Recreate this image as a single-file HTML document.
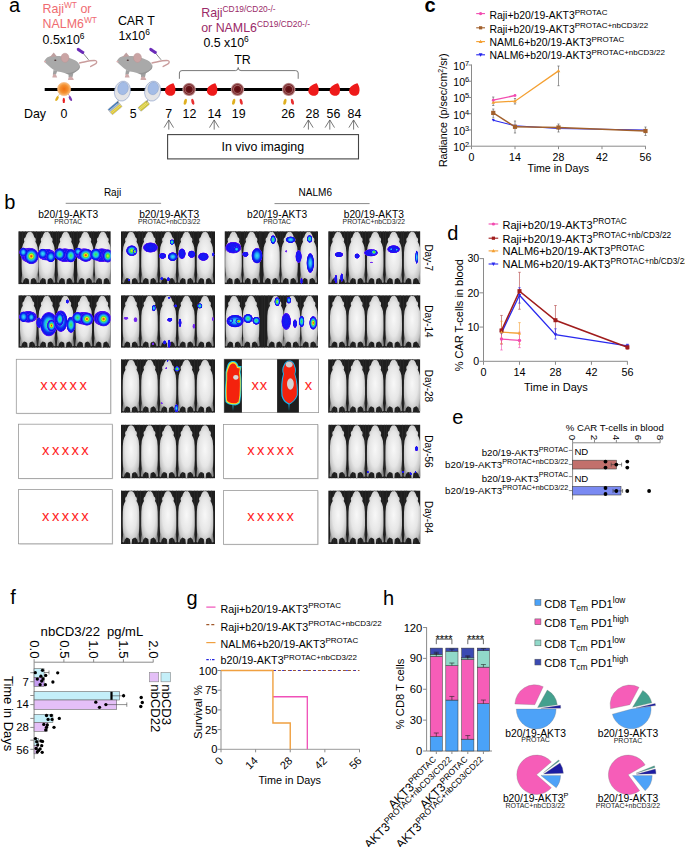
<!DOCTYPE html>
<html><head><meta charset="utf-8"><title>Figure</title>
<style>
html,body{margin:0;padding:0;background:#fff;}
body{width:685px;height:847px;overflow:hidden;}
svg{display:block;}
text{font-family:"Liberation Sans",sans-serif;}
</style></head><body>
<svg width="685" height="847" viewBox="0 0 685 847">
<defs>
<radialGradient id="mg" cx="50%" cy="45%" r="60%">
<stop offset="0" stop-color="#f8f8f8"/><stop offset="0.55" stop-color="#e6e6e6"/><stop offset="0.85" stop-color="#c4c4c4"/><stop offset="1" stop-color="#8e8e8e"/>
</radialGradient>
<radialGradient id="tumO" cx="50%" cy="50%" r="50%">
<stop offset="0" stop-color="#f07010"/><stop offset="0.6" stop-color="#f49030"/><stop offset="1" stop-color="#f8c080"/>
</radialGradient>
<radialGradient id="tumD" cx="50%" cy="50%" r="50%">
<stop offset="0" stop-color="#5a0c10"/><stop offset="0.45" stop-color="#6a1418"/><stop offset="0.6" stop-color="#a06060"/><stop offset="0.72" stop-color="#7a2a2e"/><stop offset="0.86" stop-color="#a87070"/><stop offset="1" stop-color="#d8b8b8"/>
</radialGradient>
<filter id="bl" x="-20%" y="-20%" width="140%" height="140%"><feGaussianBlur stdDeviation="0.45"/></filter>

<radialGradient id="h1"><stop offset="0" stop-color="#6a20f4"/><stop offset="0.7" stop-color="#7a30f0"/><stop offset="1" stop-color="#8a40f0" stop-opacity="0"/></radialGradient>
<radialGradient id="h2"><stop offset="0" stop-color="#1820f2"/><stop offset="0.75" stop-color="#1a10f4"/><stop offset="0.9" stop-color="#5a14f0"/><stop offset="1" stop-color="#8a40f0" stop-opacity="0"/></radialGradient>
<radialGradient id="h3"><stop offset="0" stop-color="#40e0f4"/><stop offset="0.35" stop-color="#20a8f4"/><stop offset="0.6" stop-color="#1030f0"/><stop offset="0.84" stop-color="#1010f0"/><stop offset="0.93" stop-color="#6018f0"/><stop offset="1" stop-color="#8a40f0" stop-opacity="0"/></radialGradient>
<radialGradient id="h4"><stop offset="0" stop-color="#40e040"/><stop offset="0.25" stop-color="#30e0a8"/><stop offset="0.45" stop-color="#18b8f4"/><stop offset="0.65" stop-color="#1030f0"/><stop offset="0.85" stop-color="#1010f0"/><stop offset="0.93" stop-color="#6018f0"/><stop offset="1" stop-color="#8a40f0" stop-opacity="0"/></radialGradient>
<radialGradient id="h5"><stop offset="0" stop-color="#f4ec20"/><stop offset="0.15" stop-color="#90e830"/><stop offset="0.3" stop-color="#40e040"/><stop offset="0.45" stop-color="#20c8e0"/><stop offset="0.6" stop-color="#1860f4"/><stop offset="0.76" stop-color="#1010f0"/><stop offset="0.9" stop-color="#4a14f0"/><stop offset="1" stop-color="#8a40f0" stop-opacity="0"/></radialGradient>
<radialGradient id="h6"><stop offset="0" stop-color="#f41e10"/><stop offset="0.12" stop-color="#f48010"/><stop offset="0.22" stop-color="#e8e820"/><stop offset="0.34" stop-color="#50e040"/><stop offset="0.48" stop-color="#20c0e8"/><stop offset="0.62" stop-color="#1860f4"/><stop offset="0.77" stop-color="#1010f0"/><stop offset="0.9" stop-color="#4a14f0"/><stop offset="1" stop-color="#8a40f0" stop-opacity="0"/></radialGradient>
</defs>
<rect x="0" y="0" width="685" height="847" fill="#fff"/>
<text x="9.00" y="11.80" font-size="20" text-anchor="start" fill="#000" >a</text>
<text x="4.30" y="208.90" font-size="20" text-anchor="start" fill="#000" >b</text>
<text x="424.60" y="12.00" font-size="20" text-anchor="start" fill="#000" font-weight="bold">c</text>
<text x="447.20" y="239.60" font-size="20" text-anchor="start" fill="#000" >d</text>
<text x="452.20" y="423.70" font-size="20" text-anchor="start" fill="#000" >e</text>
<text x="10.20" y="604.40" font-size="20" text-anchor="start" fill="#000" >f</text>
<text x="186.40" y="604.70" font-size="20" text-anchor="start" fill="#000" >g</text>
<text x="383.00" y="605.00" font-size="20" text-anchor="start" fill="#000" >h</text>
<text x="42.60" y="12.70" font-size="12.4" text-anchor="start" fill="#ef6b70">Raji<tspan font-size="8.4" dy="-5">WT</tspan><tspan dy="5"> or</tspan></text>
<text x="42.60" y="28.00" font-size="12.4" text-anchor="start" fill="#ef6b70">NALM6<tspan font-size="8.4" dy="-5">WT</tspan></text>
<text x="42.60" y="43.80" font-size="12.4" text-anchor="start" fill="#000">0.5x10<tspan font-size="8.4" dy="-5">6</tspan></text>
<text x="117.90" y="24.80" font-size="12.4" text-anchor="start" fill="#000" >CAR T</text>
<text x="118.40" y="39.70" font-size="12.4" text-anchor="start" fill="#000">1x10<tspan font-size="8.4" dy="-5">6</tspan></text>
<text x="201.20" y="17.10" font-size="12.4" text-anchor="start" fill="#9a2a68">Raji<tspan font-size="8.4" dy="-5">CD19/CD20-/-</tspan></text>
<text x="201.20" y="31.50" font-size="12.4" text-anchor="start" fill="#9a2a68">or NAML6<tspan font-size="8.4" dy="-5">CD19/CD20-/-</tspan></text>
<text x="203.40" y="47.30" font-size="12.4" text-anchor="start" fill="#000">0.5 x10<tspan font-size="8.4" dy="-5">6</tspan></text>
<text x="234.20" y="63.80" font-size="12.4" text-anchor="start" fill="#000" >TR</text>
<path d="M179.4,78.8 V73 Q179.4,70.6 182,70.6 H235.5 Q238.2,70.6 238.2,67.5 Q238.2,70.6 241,70.6 H295.5 Q298.2,70.6 298.2,73 V78.8" fill="none" stroke="#555" stroke-width="0.8" />
<g transform="translate(0,0)"><path d="M79.5,63 C85,62 91,60 95.5,60.6 C97.5,61.2 97,63.2 94.6,64.4 C93,65.2 91.6,65.8 90.6,66.6" fill="none" stroke="#c99c9c" stroke-width="1.3" stroke-linecap="round"/><path d="M53.5,70 L52.8,74.5 L53.6,75 L56,74.5 L57.2,71Z" fill="#a0a0a0"/><path d="M68.5,73 L68.6,77.5 L72.5,77 L73.5,72.5Z" fill="#a0a0a0"/><path d="M52.3,77.6 C52.6,75.5 53.2,74.2 54.5,74 C55.8,74.2 56.6,75.5 57.2,77.6Z" fill="#d0aaaa"/><path d="M68,79.9 C68.2,77.8 69,76.6 70.6,76.4 C72.2,76.6 73.2,77.8 73.8,79.9Z" fill="#d0aaaa"/><path d="M44.4,61.1 C45.5,58.5 47,57.5 48.8,56.8 C51.5,55.6 54.5,55.8 56.5,56 C58.5,55.8 60,56 61,56.3 C65,56.5 69,57.5 75,60.2 C78,61.8 79.5,64 79.9,66.8 C79.7,68.6 78.8,69.8 77.7,70.3 C76.2,71.6 74.8,72.4 73.3,72.9 C72,73.8 70.8,74.5 69.8,74.7 C67.5,74.3 65.8,73.5 64.5,72.9 C62,72.4 59.5,72 57.5,71.6 C55.6,70.9 54.3,70.2 53.1,69.4 C51.5,68.3 50,67 48.8,65.9 C47.4,64.8 46.2,63.8 45.3,62.8 Z" fill="#a9a9a9"/><path d="M66,72.9 C70,73.5 74,72 77,69.8 C79,68 79.7,66 79.5,64 C80.2,66.5 79.8,68.8 77.7,70.3 C75.5,72.3 72,74.2 69.8,74.7 C68.2,74.3 67,73.7 66,72.9Z" fill="#959595"/><path d="M49.8,57.2 L53.7,52.6 L56.8,56.3 Z" fill="#bfa0a0"/><ellipse cx="65" cy="57.8" rx="4" ry="4.6" fill="#caa4a4" stroke="#b89090" stroke-width="0.4"/><ellipse cx="55.3" cy="60.2" rx="1.1" ry="0.7" fill="#4a3434"/><ellipse cx="45" cy="61.6" rx="1.1" ry="0.9" fill="#dab0b0"/><path d="M82.6,52.6 L88.6,59.8" stroke="#555" stroke-width="0.7"/><path d="M78.3,49.4 L82.8,52.4" stroke="#6a2ab8" stroke-width="3" stroke-linecap="round"/></g>
<g transform="translate(72.5,0)"><path d="M79.5,63 C85,62 91,60 95.5,60.6 C97.5,61.2 97,63.2 94.6,64.4 C93,65.2 91.6,65.8 90.6,66.6" fill="none" stroke="#c99c9c" stroke-width="1.3" stroke-linecap="round"/><path d="M53.5,70 L52.8,74.5 L53.6,75 L56,74.5 L57.2,71Z" fill="#a0a0a0"/><path d="M68.5,73 L68.6,77.5 L72.5,77 L73.5,72.5Z" fill="#a0a0a0"/><path d="M52.3,77.6 C52.6,75.5 53.2,74.2 54.5,74 C55.8,74.2 56.6,75.5 57.2,77.6Z" fill="#d0aaaa"/><path d="M68,79.9 C68.2,77.8 69,76.6 70.6,76.4 C72.2,76.6 73.2,77.8 73.8,79.9Z" fill="#d0aaaa"/><path d="M44.4,61.1 C45.5,58.5 47,57.5 48.8,56.8 C51.5,55.6 54.5,55.8 56.5,56 C58.5,55.8 60,56 61,56.3 C65,56.5 69,57.5 75,60.2 C78,61.8 79.5,64 79.9,66.8 C79.7,68.6 78.8,69.8 77.7,70.3 C76.2,71.6 74.8,72.4 73.3,72.9 C72,73.8 70.8,74.5 69.8,74.7 C67.5,74.3 65.8,73.5 64.5,72.9 C62,72.4 59.5,72 57.5,71.6 C55.6,70.9 54.3,70.2 53.1,69.4 C51.5,68.3 50,67 48.8,65.9 C47.4,64.8 46.2,63.8 45.3,62.8 Z" fill="#a9a9a9"/><path d="M66,72.9 C70,73.5 74,72 77,69.8 C79,68 79.7,66 79.5,64 C80.2,66.5 79.8,68.8 77.7,70.3 C75.5,72.3 72,74.2 69.8,74.7 C68.2,74.3 67,73.7 66,72.9Z" fill="#959595"/><path d="M49.8,57.2 L53.7,52.6 L56.8,56.3 Z" fill="#bfa0a0"/><ellipse cx="65" cy="57.8" rx="4" ry="4.6" fill="#caa4a4" stroke="#b89090" stroke-width="0.4"/><ellipse cx="55.3" cy="60.2" rx="1.1" ry="0.7" fill="#4a3434"/><ellipse cx="45" cy="61.6" rx="1.1" ry="0.9" fill="#dab0b0"/><path d="M82.6,52.6 L88.6,59.8" stroke="#555" stroke-width="0.7"/><path d="M78.3,49.4 L82.8,52.4" stroke="#6a2ab8" stroke-width="3" stroke-linecap="round"/></g>
<line x1="44.70" y1="89.60" x2="359.00" y2="89.60" stroke="#000" stroke-width="3" />
<line x1="64.00" y1="89.00" x2="57.00" y2="97.00" stroke="#c8a040" stroke-width="0.5" />
<line x1="64.00" y1="89.00" x2="70.50" y2="97.00" stroke="#7a40a0" stroke-width="0.5" />
<circle cx="64.1" cy="89" r="6.6" fill="url(#tumO)" stroke="#f6b070" stroke-width="0.6"/>
<ellipse cx="57.00" cy="98.60" rx="1.30" ry="2.70" fill="#e0b020" transform="rotate(30 57 98.6)"/>
<ellipse cx="63.80" cy="100.40" rx="1.20" ry="2.70" fill="#e82020" />
<ellipse cx="70.40" cy="98.60" rx="1.30" ry="2.70" fill="#7a3cb0" transform="rotate(-30 70.4 98.6)"/>
<g transform="translate(115.0 108.0) rotate(-40)"><rect x="-6.5" y="-3.5" width="13" height="7" rx="1" fill="#d8d8d8" stroke="#666" stroke-width="0.3"/><line x1="-6.1" y1="-2.62" x2="6.1" y2="-2.62" stroke="#3a78c0" stroke-width="1.40"/><line x1="-6.1" y1="-0.88" x2="6.1" y2="-0.88" stroke="#9ab0c8" stroke-width="1.40"/><line x1="-6.1" y1="0.88" x2="6.1" y2="0.88" stroke="#e8d030" stroke-width="1.40"/><line x1="-6.1" y1="2.62" x2="6.1" y2="2.62" stroke="#e0c828" stroke-width="1.40"/></g>
<g transform="translate(143.8 105.9) rotate(-40)"><rect x="-5.75" y="-2.4" width="11.5" height="4.8" rx="1" fill="#d8d8d8" stroke="#666" stroke-width="0.3"/><line x1="-5.35" y1="-1.60" x2="5.35" y2="-1.60" stroke="#d8cc30" stroke-width="1.28"/><line x1="-5.35" y1="0.00" x2="5.35" y2="0.00" stroke="#e8d838" stroke-width="1.28"/><line x1="-5.35" y1="1.60" x2="5.35" y2="1.60" stroke="#d0c428" stroke-width="1.28"/></g>
<line x1="118.50" y1="99.80" x2="117.50" y2="103.50" stroke="#444" stroke-width="0.5" />
<line x1="148.00" y1="99.80" x2="146.50" y2="102.50" stroke="#444" stroke-width="0.5" />
<ellipse cx="122.4" cy="91.1" rx="7.9" ry="10.1" fill="#e4e4e6" stroke="#8aa0cc" stroke-width="0.6" transform="rotate(14 122.4 91.1)"/>
<ellipse cx="123.0" cy="88.4" rx="5.3" ry="6.4" fill="#a4bce6" stroke="#7f98c8" stroke-width="0.4" transform="rotate(14 123.0 88.4)"/>
<ellipse cx="152.6" cy="91.1" rx="7.9" ry="10.1" fill="#e4e4e6" stroke="#8aa0cc" stroke-width="0.6" transform="rotate(14 152.6 91.1)"/>
<ellipse cx="153.2" cy="88.4" rx="5.3" ry="6.4" fill="#a4bce6" stroke="#7f98c8" stroke-width="0.4" transform="rotate(14 153.2 88.4)"/>
<path transform="translate(170.7 89.4) rotate(20)" d="M0.5,-6.6 C3,-4.6 5.2,-1.8 5.2,1.6 C5.2,4.7 2.8,6.4 0,6.4 C-2.8,6.4 -5.1,4.6 -5.1,1.6 C-5.1,-2 -2,-4.8 0.5,-6.6 Z" fill="#ee1a1a"/>
<path transform="translate(212.6 89.4) rotate(20)" d="M0.5,-6.6 C3,-4.6 5.2,-1.8 5.2,1.6 C5.2,4.7 2.8,6.4 0,6.4 C-2.8,6.4 -5.1,4.6 -5.1,1.6 C-5.1,-2 -2,-4.8 0.5,-6.6 Z" fill="#ee1a1a"/>
<path transform="translate(314.0 89.4) rotate(20)" d="M0.5,-6.6 C3,-4.6 5.2,-1.8 5.2,1.6 C5.2,4.7 2.8,6.4 0,6.4 C-2.8,6.4 -5.1,4.6 -5.1,1.6 C-5.1,-2 -2,-4.8 0.5,-6.6 Z" fill="#ee1a1a"/>
<path transform="translate(335.3 89.4) rotate(20)" d="M0.5,-6.6 C3,-4.6 5.2,-1.8 5.2,1.6 C5.2,4.7 2.8,6.4 0,6.4 C-2.8,6.4 -5.1,4.6 -5.1,1.6 C-5.1,-2 -2,-4.8 0.5,-6.6 Z" fill="#ee1a1a"/>
<path transform="translate(354.8 89.4) rotate(20)" d="M0.5,-6.6 C3,-4.6 5.2,-1.8 5.2,1.6 C5.2,4.7 2.8,6.4 0,6.4 C-2.8,6.4 -5.1,4.6 -5.1,1.6 C-5.1,-2 -2,-4.8 0.5,-6.6 Z" fill="#ee1a1a"/>
<ellipse cx="185.30" cy="101.80" rx="1.50" ry="3.10" fill="#e0b020" transform="rotate(15 185.3 101.8)"/>
<ellipse cx="192.80" cy="101.80" rx="1.40" ry="3.10" fill="#e83030" transform="rotate(-15 192.8 101.8)"/>
<circle cx="189.1" cy="89.4" r="6.7" fill="url(#tumD)"/>
<ellipse cx="233.70" cy="101.80" rx="1.50" ry="3.10" fill="#e0b020" transform="rotate(15 233.7 101.8)"/>
<ellipse cx="241.20" cy="101.80" rx="1.40" ry="3.10" fill="#e83030" transform="rotate(-15 241.2 101.8)"/>
<circle cx="237.5" cy="89.4" r="6.7" fill="url(#tumD)"/>
<ellipse cx="284.90" cy="101.80" rx="1.50" ry="3.10" fill="#e0b020" transform="rotate(15 284.9 101.8)"/>
<ellipse cx="292.40" cy="101.80" rx="1.40" ry="3.10" fill="#e83030" transform="rotate(-15 292.4 101.8)"/>
<circle cx="288.7" cy="89.4" r="6.7" fill="url(#tumD)"/>
<text x="24.00" y="118.10" font-size="12.4" text-anchor="start" fill="#000" >Day</text>
<text x="64.00" y="118.10" font-size="12.4" text-anchor="middle" fill="#000" >0</text>
<text x="133.30" y="118.10" font-size="12.4" text-anchor="middle" fill="#000" >5</text>
<text x="168.80" y="118.10" font-size="12.4" text-anchor="middle" fill="#000" >7</text>
<text x="189.50" y="118.10" font-size="12.4" text-anchor="middle" fill="#000" >12</text>
<text x="214.50" y="118.10" font-size="12.4" text-anchor="middle" fill="#000" >14</text>
<text x="238.70" y="118.10" font-size="12.4" text-anchor="middle" fill="#000" >19</text>
<text x="288.10" y="118.10" font-size="12.4" text-anchor="middle" fill="#000" >26</text>
<text x="312.50" y="118.10" font-size="12.4" text-anchor="middle" fill="#000" >28</text>
<text x="333.50" y="118.10" font-size="12.4" text-anchor="middle" fill="#000" >56</text>
<text x="354.50" y="118.10" font-size="12.4" text-anchor="middle" fill="#000" >84</text>
<path d="M168.8,129.6 V120.2 M164.10000000000002,127.6 L168.8,119.9 L173.5,127.6" fill="none" stroke="#555" stroke-width="0.8" />
<path d="M214.2,129.6 V120.2 M209.5,127.6 L214.2,119.9 L218.89999999999998,127.6" fill="none" stroke="#555" stroke-width="0.8" />
<path d="M308.4,129.6 V120.2 M303.7,127.6 L308.4,119.9 L313.09999999999997,127.6" fill="none" stroke="#555" stroke-width="0.8" />
<path d="M329.8,129.6 V120.2 M325.1,127.6 L329.8,119.9 L334.5,127.6" fill="none" stroke="#555" stroke-width="0.8" />
<path d="M353.6,129.6 V120.2 M348.90000000000003,127.6 L353.6,119.9 L358.3,127.6" fill="none" stroke="#555" stroke-width="0.8" />
<rect x="167.60" y="134.60" width="190.90" height="24.30" fill="none" stroke="#444" stroke-width="1.1" />
<text x="262.80" y="151.00" font-size="12.4" text-anchor="middle" fill="#000" >In vivo imaging</text>
<text x="103.90" y="195.80" font-size="10" text-anchor="start" fill="#000" >Raji</text>
<line x1="65.70" y1="203.30" x2="161.10" y2="203.30" stroke="#8a8a8a" stroke-width="1" />
<text x="298.60" y="195.80" font-size="10" text-anchor="start" fill="#000" >NALM6</text>
<line x1="274.50" y1="203.60" x2="369.60" y2="203.60" stroke="#8a8a8a" stroke-width="1" />
<text x="68.20" y="218.30" font-size="10.2" text-anchor="middle" fill="#000" >b20/19-AKT3</text>
<text x="68.20" y="223.90" font-size="6.8" text-anchor="middle" fill="#222" >PROTAC</text>
<text x="169.20" y="218.30" font-size="10.2" text-anchor="middle" fill="#000" >b20/19-AKT3</text>
<text x="169.20" y="223.90" font-size="6.8" text-anchor="middle" fill="#222" >PROTAC+nbCD3/22</text>
<text x="277.10" y="218.30" font-size="10.2" text-anchor="middle" fill="#000" >b20/19-AKT3</text>
<text x="277.10" y="223.90" font-size="6.8" text-anchor="middle" fill="#222" >PROTAC</text>
<text x="373.80" y="218.30" font-size="10.2" text-anchor="middle" fill="#000" >b20/19-AKT3</text>
<text x="373.80" y="223.90" font-size="6.8" text-anchor="middle" fill="#222" >PROTAC+nbCD3/22</text>
<clipPath id="c00"><rect x="0" y="0" width="92.40" height="53.10"/></clipPath><g transform="translate(18.30 231.20)" clip-path="url(#c00)"><rect x="0" y="0" width="92.40" height="53.10" fill="#1e1e1e"/><rect x="0.5" y="0" width="0.7" height="53.1" fill="#2c2c2c"/><rect x="4.1" y="0" width="0.7" height="53.1" fill="#2c2c2c"/><rect x="6.7" y="0" width="0.7" height="53.1" fill="#2c2c2c"/><rect x="10.2" y="0" width="0.7" height="53.1" fill="#2c2c2c"/><rect x="13.3" y="0" width="0.7" height="53.1" fill="#2c2c2c"/><rect x="15.1" y="0" width="0.7" height="53.1" fill="#2c2c2c"/><rect x="18.0" y="0" width="0.7" height="53.1" fill="#2c2c2c"/><rect x="22.7" y="0" width="0.7" height="53.1" fill="#2c2c2c"/><rect x="24.5" y="0" width="0.7" height="53.1" fill="#2c2c2c"/><rect x="27.5" y="0" width="0.7" height="53.1" fill="#2c2c2c"/><rect x="32.0" y="0" width="0.7" height="53.1" fill="#2c2c2c"/><rect x="33.9" y="0" width="0.7" height="53.1" fill="#2c2c2c"/><rect x="37.7" y="0" width="0.7" height="53.1" fill="#2c2c2c"/><rect x="40.0" y="0" width="0.7" height="53.1" fill="#2c2c2c"/><rect x="43.3" y="0" width="0.7" height="53.1" fill="#2c2c2c"/><rect x="45.3" y="0" width="0.7" height="53.1" fill="#2c2c2c"/><rect x="49.3" y="0" width="0.7" height="53.1" fill="#2c2c2c"/><rect x="52.7" y="0" width="0.7" height="53.1" fill="#2c2c2c"/><rect x="55.0" y="0" width="0.7" height="53.1" fill="#2c2c2c"/><rect x="58.5" y="0" width="0.7" height="53.1" fill="#2c2c2c"/><rect x="61.3" y="0" width="0.7" height="53.1" fill="#2c2c2c"/><rect x="63.1" y="0" width="0.7" height="53.1" fill="#2c2c2c"/><rect x="67.5" y="0" width="0.7" height="53.1" fill="#2c2c2c"/><rect x="70.2" y="0" width="0.7" height="53.1" fill="#2c2c2c"/><rect x="72.6" y="0" width="0.7" height="53.1" fill="#2c2c2c"/><rect x="75.1" y="0" width="0.7" height="53.1" fill="#2c2c2c"/><rect x="79.7" y="0" width="0.7" height="53.1" fill="#2c2c2c"/><rect x="81.9" y="0" width="0.7" height="53.1" fill="#2c2c2c"/><rect x="85.4" y="0" width="0.7" height="53.1" fill="#2c2c2c"/><rect x="88.8" y="0" width="0.7" height="53.1" fill="#2c2c2c"/><rect x="91.4" y="0" width="0.7" height="53.1" fill="#2c2c2c"/><path d="M11.60,1.00 L12.34,0.60 L13.93,1.60 L15.13,3.60 L15.97,6.01 L17.18,7.01 L17.55,8.81 L17.09,10.52 L18.39,13.02 L19.32,16.03 L19.78,21.04 L19.88,28.05 L19.88,35.07 L19.69,40.07 L19.41,43.58 L19.78,46.59 L20.16,51.10 L18.67,51.70 L17.74,48.69 L15.88,46.69 L14.02,47.29 L12.72,48.29 L12.25,53.10 L10.95,53.10 L10.48,48.29 L9.18,47.29 L7.32,46.69 L5.46,48.69 L4.53,51.70 L3.04,51.10 L3.42,46.59 L3.79,43.58 L3.51,40.07 L3.32,35.07 L3.32,28.05 L3.42,21.04 L3.88,16.03 L4.81,13.02 L6.11,10.52 L5.65,8.81 L6.02,7.01 L7.23,6.01 L8.07,3.60 L9.27,1.60 L10.86,0.60 Z" fill="url(#mg)"/><path d="M28.40,1.00 L29.14,0.60 L30.72,1.60 L31.93,3.60 L32.77,6.01 L33.98,7.01 L34.35,8.81 L33.89,10.52 L35.19,13.02 L36.12,16.03 L36.58,21.04 L36.68,28.05 L36.68,35.07 L36.49,40.07 L36.21,43.58 L36.58,46.59 L36.96,51.10 L35.47,51.70 L34.54,48.69 L32.68,46.69 L30.82,47.29 L29.52,48.29 L29.05,53.10 L27.75,53.10 L27.28,48.29 L25.98,47.29 L24.12,46.69 L22.26,48.69 L21.33,51.70 L19.84,51.10 L20.22,46.59 L20.59,43.58 L20.31,40.07 L20.12,35.07 L20.12,28.05 L20.22,21.04 L20.68,16.03 L21.61,13.02 L22.91,10.52 L22.45,8.81 L22.82,7.01 L24.03,6.01 L24.87,3.60 L26.07,1.60 L27.66,0.60 Z" fill="url(#mg)"/><path d="M47.40,1.00 L48.14,0.60 L49.73,1.60 L50.93,3.60 L51.77,6.01 L52.98,7.01 L53.35,8.81 L52.89,10.52 L54.19,13.02 L55.12,16.03 L55.58,21.04 L55.68,28.05 L55.68,35.07 L55.49,40.07 L55.21,43.58 L55.58,46.59 L55.96,51.10 L54.47,51.70 L53.54,48.69 L51.68,46.69 L49.82,47.29 L48.52,48.29 L48.05,53.10 L46.75,53.10 L46.28,48.29 L44.98,47.29 L43.12,46.69 L41.26,48.69 L40.33,51.70 L38.84,51.10 L39.22,46.59 L39.59,43.58 L39.31,40.07 L39.12,35.07 L39.12,28.05 L39.22,21.04 L39.68,16.03 L40.61,13.02 L41.91,10.52 L41.45,8.81 L41.82,7.01 L43.03,6.01 L43.87,3.60 L45.07,1.60 L46.66,0.60 Z" fill="url(#mg)"/><path d="M67.00,1.00 L67.74,0.60 L69.33,1.60 L70.53,3.60 L71.37,6.01 L72.58,7.01 L72.95,8.81 L72.49,10.52 L73.79,13.02 L74.72,16.03 L75.18,21.04 L75.28,28.05 L75.28,35.07 L75.09,40.07 L74.81,43.58 L75.18,46.59 L75.56,51.10 L74.07,51.70 L73.14,48.69 L71.28,46.69 L69.42,47.29 L68.12,48.29 L67.65,53.10 L66.35,53.10 L65.88,48.29 L64.58,47.29 L62.72,46.69 L60.86,48.69 L59.93,51.70 L58.44,51.10 L58.82,46.59 L59.19,43.58 L58.91,40.07 L58.72,35.07 L58.72,28.05 L58.82,21.04 L59.28,16.03 L60.21,13.02 L61.51,10.52 L61.05,8.81 L61.42,7.01 L62.63,6.01 L63.47,3.60 L64.67,1.60 L66.26,0.60 Z" fill="url(#mg)"/><path d="M84.50,1.00 L85.24,0.60 L86.83,1.60 L88.03,3.60 L88.87,6.01 L90.08,7.01 L90.45,8.81 L89.99,10.52 L91.29,13.02 L92.22,16.03 L92.68,21.04 L92.78,28.05 L92.78,35.07 L92.59,40.07 L92.31,43.58 L92.68,46.59 L93.06,51.10 L91.57,51.70 L90.64,48.69 L88.78,46.69 L86.92,47.29 L85.62,48.29 L85.15,53.10 L83.85,53.10 L83.38,48.29 L82.08,47.29 L80.22,46.69 L78.36,48.69 L77.43,51.70 L75.94,51.10 L76.32,46.59 L76.69,43.58 L76.41,40.07 L76.22,35.07 L76.22,28.05 L76.32,21.04 L76.78,16.03 L77.71,13.02 L79.01,10.52 L78.55,8.81 L78.92,7.01 L80.13,6.01 L80.97,3.60 L82.17,1.60 L83.76,0.60 Z" fill="url(#mg)"/><g filter="url(#bl)"><ellipse cx="11.00" cy="24.00" rx="9.18" ry="7.84" fill="url(#h2)"/><ellipse cx="13.00" cy="25.00" rx="7.70" ry="8.40" fill="url(#h6)"/><ellipse cx="5.00" cy="21.00" rx="4.20" ry="4.90" fill="url(#h3)"/><ellipse cx="28.40" cy="23.50" rx="9.18" ry="6.16" fill="url(#h2)"/><ellipse cx="24.50" cy="22.50" rx="5.04" ry="5.32" fill="url(#h3)"/><ellipse cx="32.50" cy="25.50" rx="4.90" ry="5.88" fill="url(#h3)"/><ellipse cx="46.60" cy="24.00" rx="9.63" ry="7.28" fill="url(#h2)"/><ellipse cx="41.50" cy="23.00" rx="5.88" ry="6.30" fill="url(#h4)"/><ellipse cx="52.50" cy="24.50" rx="5.60" ry="7.00" fill="url(#h4)"/><ellipse cx="65.60" cy="23.00" rx="9.18" ry="6.16" fill="url(#h2)"/><ellipse cx="59.80" cy="20.40" rx="4.20" ry="4.20" fill="url(#h3)"/><ellipse cx="67.50" cy="24.00" rx="7.70" ry="7.00" fill="url(#h6)"/><ellipse cx="83.50" cy="24.00" rx="9.63" ry="7.28" fill="url(#h2)"/><ellipse cx="77.50" cy="23.30" rx="5.88" ry="6.30" fill="url(#h4)"/><ellipse cx="89.50" cy="24.70" rx="5.60" ry="7.00" fill="url(#h5)"/></g></g>
<clipPath id="c10"><rect x="0" y="0" width="94.00" height="53.10"/></clipPath><g transform="translate(121.00 231.20)" clip-path="url(#c10)"><rect x="0" y="0" width="94.00" height="53.10" fill="#1e1e1e"/><rect x="1.8" y="0" width="0.7" height="53.1" fill="#2c2c2c"/><rect x="3.8" y="0" width="0.7" height="53.1" fill="#2c2c2c"/><rect x="7.6" y="0" width="0.7" height="53.1" fill="#2c2c2c"/><rect x="9.9" y="0" width="0.7" height="53.1" fill="#2c2c2c"/><rect x="13.9" y="0" width="0.7" height="53.1" fill="#2c2c2c"/><rect x="16.8" y="0" width="0.7" height="53.1" fill="#2c2c2c"/><rect x="18.2" y="0" width="0.7" height="53.1" fill="#2c2c2c"/><rect x="21.3" y="0" width="0.7" height="53.1" fill="#2c2c2c"/><rect x="24.4" y="0" width="0.7" height="53.1" fill="#2c2c2c"/><rect x="28.9" y="0" width="0.7" height="53.1" fill="#2c2c2c"/><rect x="30.9" y="0" width="0.7" height="53.1" fill="#2c2c2c"/><rect x="34.3" y="0" width="0.7" height="53.1" fill="#2c2c2c"/><rect x="36.6" y="0" width="0.7" height="53.1" fill="#2c2c2c"/><rect x="40.0" y="0" width="0.7" height="53.1" fill="#2c2c2c"/><rect x="42.8" y="0" width="0.7" height="53.1" fill="#2c2c2c"/><rect x="45.7" y="0" width="0.7" height="53.1" fill="#2c2c2c"/><rect x="49.2" y="0" width="0.7" height="53.1" fill="#2c2c2c"/><rect x="52.2" y="0" width="0.7" height="53.1" fill="#2c2c2c"/><rect x="55.8" y="0" width="0.7" height="53.1" fill="#2c2c2c"/><rect x="58.4" y="0" width="0.7" height="53.1" fill="#2c2c2c"/><rect x="61.9" y="0" width="0.7" height="53.1" fill="#2c2c2c"/><rect x="64.7" y="0" width="0.7" height="53.1" fill="#2c2c2c"/><rect x="68.0" y="0" width="0.7" height="53.1" fill="#2c2c2c"/><rect x="70.3" y="0" width="0.7" height="53.1" fill="#2c2c2c"/><rect x="72.3" y="0" width="0.7" height="53.1" fill="#2c2c2c"/><rect x="76.7" y="0" width="0.7" height="53.1" fill="#2c2c2c"/><rect x="79.9" y="0" width="0.7" height="53.1" fill="#2c2c2c"/><rect x="82.8" y="0" width="0.7" height="53.1" fill="#2c2c2c"/><rect x="85.1" y="0" width="0.7" height="53.1" fill="#2c2c2c"/><rect x="88.4" y="0" width="0.7" height="53.1" fill="#2c2c2c"/><rect x="90.4" y="0" width="0.7" height="53.1" fill="#2c2c2c"/><rect x="94.7" y="0" width="0.7" height="53.1" fill="#2c2c2c"/><path d="M10.00,1.00 L10.74,0.60 L12.32,1.60 L13.53,3.60 L14.37,6.01 L15.58,7.01 L15.95,8.81 L15.49,10.52 L16.79,13.02 L17.72,16.03 L18.18,21.04 L18.28,28.05 L18.28,35.07 L18.09,40.07 L17.81,43.58 L18.18,46.59 L18.56,51.10 L17.07,51.70 L16.14,48.69 L14.28,46.69 L12.42,47.29 L11.12,48.29 L10.65,53.10 L9.35,53.10 L8.88,48.29 L7.58,47.29 L5.72,46.69 L3.86,48.69 L2.93,51.70 L1.44,51.10 L1.82,46.59 L2.19,43.58 L1.91,40.07 L1.72,35.07 L1.72,28.05 L1.82,21.04 L2.28,16.03 L3.21,13.02 L4.51,10.52 L4.05,8.81 L4.42,7.01 L5.63,6.01 L6.47,3.60 L7.67,1.60 L9.26,0.60 Z" fill="url(#mg)"/><path d="M28.50,1.00 L29.24,0.60 L30.82,1.60 L32.03,3.60 L32.87,6.01 L34.08,7.01 L34.45,8.81 L33.99,10.52 L35.29,13.02 L36.22,16.03 L36.68,21.04 L36.78,28.05 L36.78,35.07 L36.59,40.07 L36.31,43.58 L36.68,46.59 L37.06,51.10 L35.57,51.70 L34.64,48.69 L32.78,46.69 L30.92,47.29 L29.62,48.29 L29.15,53.10 L27.85,53.10 L27.38,48.29 L26.08,47.29 L24.22,46.69 L22.36,48.69 L21.43,51.70 L19.94,51.10 L20.32,46.59 L20.69,43.58 L20.41,40.07 L20.22,35.07 L20.22,28.05 L20.32,21.04 L20.78,16.03 L21.71,13.02 L23.01,10.52 L22.55,8.81 L22.92,7.01 L24.13,6.01 L24.97,3.60 L26.18,1.60 L27.76,0.60 Z" fill="url(#mg)"/><path d="M47.00,1.00 L47.74,0.60 L49.33,1.60 L50.53,3.60 L51.37,6.01 L52.58,7.01 L52.95,8.81 L52.49,10.52 L53.79,13.02 L54.72,16.03 L55.18,21.04 L55.28,28.05 L55.28,35.07 L55.09,40.07 L54.81,43.58 L55.18,46.59 L55.56,51.10 L54.07,51.70 L53.14,48.69 L51.28,46.69 L49.42,47.29 L48.12,48.29 L47.65,53.10 L46.35,53.10 L45.88,48.29 L44.58,47.29 L42.72,46.69 L40.86,48.69 L39.93,51.70 L38.44,51.10 L38.82,46.59 L39.19,43.58 L38.91,40.07 L38.72,35.07 L38.72,28.05 L38.82,21.04 L39.28,16.03 L40.21,13.02 L41.51,10.52 L41.05,8.81 L41.42,7.01 L42.63,6.01 L43.47,3.60 L44.67,1.60 L46.26,0.60 Z" fill="url(#mg)"/><path d="M65.50,1.00 L66.24,0.60 L67.83,1.60 L69.03,3.60 L69.87,6.01 L71.08,7.01 L71.45,8.81 L70.99,10.52 L72.29,13.02 L73.22,16.03 L73.68,21.04 L73.78,28.05 L73.78,35.07 L73.59,40.07 L73.31,43.58 L73.68,46.59 L74.06,51.10 L72.57,51.70 L71.64,48.69 L69.78,46.69 L67.92,47.29 L66.62,48.29 L66.15,53.10 L64.85,53.10 L64.38,48.29 L63.08,47.29 L61.22,46.69 L59.36,48.69 L58.43,51.70 L56.94,51.10 L57.32,46.59 L57.69,43.58 L57.41,40.07 L57.22,35.07 L57.22,28.05 L57.32,21.04 L57.78,16.03 L58.71,13.02 L60.01,10.52 L59.55,8.81 L59.92,7.01 L61.13,6.01 L61.97,3.60 L63.17,1.60 L64.76,0.60 Z" fill="url(#mg)"/><path d="M84.00,1.00 L84.74,0.60 L86.33,1.60 L87.53,3.60 L88.37,6.01 L89.58,7.01 L89.95,8.81 L89.49,10.52 L90.79,13.02 L91.72,16.03 L92.18,21.04 L92.28,28.05 L92.28,35.07 L92.09,40.07 L91.81,43.58 L92.18,46.59 L92.56,51.10 L91.07,51.70 L90.14,48.69 L88.28,46.69 L86.42,47.29 L85.12,48.29 L84.65,53.10 L83.35,53.10 L82.88,48.29 L81.58,47.29 L79.72,46.69 L77.86,48.69 L76.93,51.70 L75.44,51.10 L75.82,46.59 L76.19,43.58 L75.91,40.07 L75.72,35.07 L75.72,28.05 L75.82,21.04 L76.28,16.03 L77.21,13.02 L78.51,10.52 L78.05,8.81 L78.42,7.01 L79.63,6.01 L80.47,3.60 L81.67,1.60 L83.26,0.60 Z" fill="url(#mg)"/><g filter="url(#bl)"><ellipse cx="10.80" cy="19.50" rx="5.98" ry="5.75" fill="url(#h5)"/><ellipse cx="13.80" cy="20.40" rx="2.07" ry="2.53" fill="url(#h6)"/><ellipse cx="29.50" cy="16.30" rx="7.84" ry="5.38" fill="url(#h2)"/><ellipse cx="51.00" cy="10.90" rx="2.53" ry="2.88" fill="url(#h4)"/><ellipse cx="41.50" cy="24.70" rx="3.92" ry="3.14" fill="url(#h2)"/><ellipse cx="51.70" cy="25.50" rx="5.17" ry="4.60" fill="url(#h3)"/><ellipse cx="61.00" cy="22.50" rx="3.92" ry="5.60" fill="url(#h2)"/><ellipse cx="70.70" cy="23.00" rx="3.92" ry="3.92" fill="url(#h2)"/><ellipse cx="82.40" cy="25.50" rx="5.60" ry="4.48" fill="url(#h2)"/><ellipse cx="92.30" cy="23.30" rx="1.34" ry="2.24" fill="url(#h2)"/><ellipse cx="40.80" cy="47.40" rx="1.68" ry="1.68" fill="url(#h2)"/><ellipse cx="47.40" cy="48.00" rx="1.68" ry="2.24" fill="url(#h2)"/><ellipse cx="8.00" cy="48.80" rx="1.12" ry="1.68" fill="url(#h2)"/></g></g>
<clipPath id="c20"><rect x="0" y="0" width="93.50" height="53.10"/></clipPath><g transform="translate(224.50 231.20)" clip-path="url(#c20)"><rect x="0" y="0" width="93.50" height="53.10" fill="#1e1e1e"/><rect x="1.1" y="0" width="0.7" height="53.1" fill="#2c2c2c"/><rect x="3.6" y="0" width="0.7" height="53.1" fill="#2c2c2c"/><rect x="6.1" y="0" width="0.7" height="53.1" fill="#2c2c2c"/><rect x="10.7" y="0" width="0.7" height="53.1" fill="#2c2c2c"/><rect x="14.0" y="0" width="0.7" height="53.1" fill="#2c2c2c"/><rect x="15.2" y="0" width="0.7" height="53.1" fill="#2c2c2c"/><rect x="19.6" y="0" width="0.7" height="53.1" fill="#2c2c2c"/><rect x="21.8" y="0" width="0.7" height="53.1" fill="#2c2c2c"/><rect x="24.3" y="0" width="0.7" height="53.1" fill="#2c2c2c"/><rect x="27.6" y="0" width="0.7" height="53.1" fill="#2c2c2c"/><rect x="31.5" y="0" width="0.7" height="53.1" fill="#2c2c2c"/><rect x="34.7" y="0" width="0.7" height="53.1" fill="#2c2c2c"/><rect x="36.1" y="0" width="0.7" height="53.1" fill="#2c2c2c"/><rect x="40.2" y="0" width="0.7" height="53.1" fill="#2c2c2c"/><rect x="42.1" y="0" width="0.7" height="53.1" fill="#2c2c2c"/><rect x="46.4" y="0" width="0.7" height="53.1" fill="#2c2c2c"/><rect x="48.7" y="0" width="0.7" height="53.1" fill="#2c2c2c"/><rect x="52.8" y="0" width="0.7" height="53.1" fill="#2c2c2c"/><rect x="56.0" y="0" width="0.7" height="53.1" fill="#2c2c2c"/><rect x="58.0" y="0" width="0.7" height="53.1" fill="#2c2c2c"/><rect x="62.0" y="0" width="0.7" height="53.1" fill="#2c2c2c"/><rect x="63.6" y="0" width="0.7" height="53.1" fill="#2c2c2c"/><rect x="66.2" y="0" width="0.7" height="53.1" fill="#2c2c2c"/><rect x="70.2" y="0" width="0.7" height="53.1" fill="#2c2c2c"/><rect x="72.1" y="0" width="0.7" height="53.1" fill="#2c2c2c"/><rect x="75.4" y="0" width="0.7" height="53.1" fill="#2c2c2c"/><rect x="78.8" y="0" width="0.7" height="53.1" fill="#2c2c2c"/><rect x="82.2" y="0" width="0.7" height="53.1" fill="#2c2c2c"/><rect x="84.3" y="0" width="0.7" height="53.1" fill="#2c2c2c"/><rect x="87.1" y="0" width="0.7" height="53.1" fill="#2c2c2c"/><rect x="91.7" y="0" width="0.7" height="53.1" fill="#2c2c2c"/><path d="M9.00,1.00 L9.74,0.60 L11.32,1.60 L12.53,3.60 L13.37,6.01 L14.58,7.01 L14.95,8.81 L14.49,10.52 L15.79,13.02 L16.72,16.03 L17.18,21.04 L17.28,28.05 L17.28,35.07 L17.09,40.07 L16.81,43.58 L17.18,46.59 L17.56,51.10 L16.07,51.70 L15.14,48.69 L13.28,46.69 L11.42,47.29 L10.12,48.29 L9.65,53.10 L8.35,53.10 L7.88,48.29 L6.58,47.29 L4.72,46.69 L2.86,48.69 L1.93,51.70 L0.44,51.10 L0.82,46.59 L1.19,43.58 L0.91,40.07 L0.72,35.07 L0.72,28.05 L0.82,21.04 L1.28,16.03 L2.21,13.02 L3.51,10.52 L3.05,8.81 L3.42,7.01 L4.63,6.01 L5.47,3.60 L6.67,1.60 L8.26,0.60 Z" fill="url(#mg)"/><path d="M27.00,1.00 L27.74,0.60 L29.32,1.60 L30.53,3.60 L31.37,6.01 L32.58,7.01 L32.95,8.81 L32.49,10.52 L33.79,13.02 L34.72,16.03 L35.18,21.04 L35.28,28.05 L35.28,35.07 L35.09,40.07 L34.81,43.58 L35.18,46.59 L35.56,51.10 L34.07,51.70 L33.14,48.69 L31.28,46.69 L29.42,47.29 L28.12,48.29 L27.65,53.10 L26.35,53.10 L25.88,48.29 L24.58,47.29 L22.72,46.69 L20.86,48.69 L19.93,51.70 L18.44,51.10 L18.82,46.59 L19.19,43.58 L18.91,40.07 L18.72,35.07 L18.72,28.05 L18.82,21.04 L19.28,16.03 L20.21,13.02 L21.51,10.52 L21.05,8.81 L21.42,7.01 L22.63,6.01 L23.47,3.60 L24.68,1.60 L26.26,0.60 Z" fill="url(#mg)"/><path d="M47.00,1.00 L47.74,0.60 L49.33,1.60 L50.53,3.60 L51.37,6.01 L52.58,7.01 L52.95,8.81 L52.49,10.52 L53.79,13.02 L54.72,16.03 L55.18,21.04 L55.28,28.05 L55.28,35.07 L55.09,40.07 L54.81,43.58 L55.18,46.59 L55.56,51.10 L54.07,51.70 L53.14,48.69 L51.28,46.69 L49.42,47.29 L48.12,48.29 L47.65,53.10 L46.35,53.10 L45.88,48.29 L44.58,47.29 L42.72,46.69 L40.86,48.69 L39.93,51.70 L38.44,51.10 L38.82,46.59 L39.19,43.58 L38.91,40.07 L38.72,35.07 L38.72,28.05 L38.82,21.04 L39.28,16.03 L40.21,13.02 L41.51,10.52 L41.05,8.81 L41.42,7.01 L42.63,6.01 L43.47,3.60 L44.67,1.60 L46.26,0.60 Z" fill="url(#mg)"/><path d="M65.00,1.00 L65.74,0.60 L67.33,1.60 L68.53,3.60 L69.37,6.01 L70.58,7.01 L70.95,8.81 L70.49,10.52 L71.79,13.02 L72.72,16.03 L73.18,21.04 L73.28,28.05 L73.28,35.07 L73.09,40.07 L72.81,43.58 L73.18,46.59 L73.56,51.10 L72.07,51.70 L71.14,48.69 L69.28,46.69 L67.42,47.29 L66.12,48.29 L65.65,53.10 L64.35,53.10 L63.88,48.29 L62.58,47.29 L60.72,46.69 L58.86,48.69 L57.93,51.70 L56.44,51.10 L56.82,46.59 L57.19,43.58 L56.91,40.07 L56.72,35.07 L56.72,28.05 L56.82,21.04 L57.28,16.03 L58.21,13.02 L59.51,10.52 L59.05,8.81 L59.42,7.01 L60.63,6.01 L61.47,3.60 L62.67,1.60 L64.26,0.60 Z" fill="url(#mg)"/><path d="M84.00,1.00 L84.74,0.60 L86.33,1.60 L87.53,3.60 L88.37,6.01 L89.58,7.01 L89.95,8.81 L89.49,10.52 L90.79,13.02 L91.72,16.03 L92.18,21.04 L92.28,28.05 L92.28,35.07 L92.09,40.07 L91.81,43.58 L92.18,46.59 L92.56,51.10 L91.07,51.70 L90.14,48.69 L88.28,46.69 L86.42,47.29 L85.12,48.29 L84.65,53.10 L83.35,53.10 L82.88,48.29 L81.58,47.29 L79.72,46.69 L77.86,48.69 L76.93,51.70 L75.44,51.10 L75.82,46.59 L76.19,43.58 L75.91,40.07 L75.72,35.07 L75.72,28.05 L75.82,21.04 L76.28,16.03 L77.21,13.02 L78.51,10.52 L78.05,8.81 L78.42,7.01 L79.63,6.01 L80.47,3.60 L81.67,1.60 L83.26,0.60 Z" fill="url(#mg)"/><g filter="url(#bl)"><ellipse cx="8.80" cy="16.50" rx="8.40" ry="6.16" fill="url(#h2)"/><ellipse cx="12.10" cy="18.00" rx="2.88" ry="2.88" fill="url(#h3)"/><ellipse cx="20.90" cy="23.10" rx="3.36" ry="2.80" fill="url(#h2)"/><ellipse cx="32.50" cy="24.50" rx="5.75" ry="8.05" fill="url(#h3)"/><ellipse cx="48.60" cy="8.50" rx="2.88" ry="4.60" fill="url(#h4)"/><ellipse cx="66.10" cy="8.50" rx="5.17" ry="3.45" fill="url(#h3)"/><ellipse cx="61.70" cy="20.20" rx="1.34" ry="1.34" fill="url(#h1)"/><ellipse cx="85.10" cy="7.70" rx="2.88" ry="4.02" fill="url(#h4)"/><ellipse cx="74.10" cy="25.30" rx="3.36" ry="6.72" fill="url(#h2)"/><ellipse cx="85.80" cy="31.80" rx="4.02" ry="10.35" fill="url(#h3)"/><ellipse cx="77.00" cy="50.00" rx="1.34" ry="3.36" fill="url(#h2)"/></g></g>
<clipPath id="c30"><rect x="0" y="0" width="92.10" height="53.10"/></clipPath><g transform="translate(328.20 231.20)" clip-path="url(#c30)"><rect x="0" y="0" width="92.10" height="53.10" fill="#1e1e1e"/><rect x="0.6" y="0" width="0.7" height="53.1" fill="#2c2c2c"/><rect x="4.9" y="0" width="0.7" height="53.1" fill="#2c2c2c"/><rect x="7.8" y="0" width="0.7" height="53.1" fill="#2c2c2c"/><rect x="9.8" y="0" width="0.7" height="53.1" fill="#2c2c2c"/><rect x="12.9" y="0" width="0.7" height="53.1" fill="#2c2c2c"/><rect x="16.0" y="0" width="0.7" height="53.1" fill="#2c2c2c"/><rect x="19.3" y="0" width="0.7" height="53.1" fill="#2c2c2c"/><rect x="22.2" y="0" width="0.7" height="53.1" fill="#2c2c2c"/><rect x="25.1" y="0" width="0.7" height="53.1" fill="#2c2c2c"/><rect x="28.2" y="0" width="0.7" height="53.1" fill="#2c2c2c"/><rect x="31.9" y="0" width="0.7" height="53.1" fill="#2c2c2c"/><rect x="34.0" y="0" width="0.7" height="53.1" fill="#2c2c2c"/><rect x="36.9" y="0" width="0.7" height="53.1" fill="#2c2c2c"/><rect x="40.4" y="0" width="0.7" height="53.1" fill="#2c2c2c"/><rect x="42.5" y="0" width="0.7" height="53.1" fill="#2c2c2c"/><rect x="45.6" y="0" width="0.7" height="53.1" fill="#2c2c2c"/><rect x="50.0" y="0" width="0.7" height="53.1" fill="#2c2c2c"/><rect x="52.0" y="0" width="0.7" height="53.1" fill="#2c2c2c"/><rect x="55.1" y="0" width="0.7" height="53.1" fill="#2c2c2c"/><rect x="57.0" y="0" width="0.7" height="53.1" fill="#2c2c2c"/><rect x="60.8" y="0" width="0.7" height="53.1" fill="#2c2c2c"/><rect x="64.2" y="0" width="0.7" height="53.1" fill="#2c2c2c"/><rect x="66.0" y="0" width="0.7" height="53.1" fill="#2c2c2c"/><rect x="70.2" y="0" width="0.7" height="53.1" fill="#2c2c2c"/><rect x="73.3" y="0" width="0.7" height="53.1" fill="#2c2c2c"/><rect x="75.1" y="0" width="0.7" height="53.1" fill="#2c2c2c"/><rect x="79.3" y="0" width="0.7" height="53.1" fill="#2c2c2c"/><rect x="81.9" y="0" width="0.7" height="53.1" fill="#2c2c2c"/><rect x="85.4" y="0" width="0.7" height="53.1" fill="#2c2c2c"/><rect x="87.7" y="0" width="0.7" height="53.1" fill="#2c2c2c"/><rect x="91.4" y="0" width="0.7" height="53.1" fill="#2c2c2c"/><path d="M10.00,1.00 L10.74,0.60 L12.32,1.60 L13.53,3.60 L14.37,6.01 L15.58,7.01 L15.95,8.81 L15.49,10.52 L16.79,13.02 L17.72,16.03 L18.18,21.04 L18.28,28.05 L18.28,35.07 L18.09,40.07 L17.81,43.58 L18.18,46.59 L18.56,51.10 L17.07,51.70 L16.14,48.69 L14.28,46.69 L12.42,47.29 L11.12,48.29 L10.65,53.10 L9.35,53.10 L8.88,48.29 L7.58,47.29 L5.72,46.69 L3.86,48.69 L2.93,51.70 L1.44,51.10 L1.82,46.59 L2.19,43.58 L1.91,40.07 L1.72,35.07 L1.72,28.05 L1.82,21.04 L2.28,16.03 L3.21,13.02 L4.51,10.52 L4.05,8.81 L4.42,7.01 L5.63,6.01 L6.47,3.60 L7.67,1.60 L9.26,0.60 Z" fill="url(#mg)"/><path d="M28.50,1.00 L29.24,0.60 L30.82,1.60 L32.03,3.60 L32.87,6.01 L34.08,7.01 L34.45,8.81 L33.99,10.52 L35.29,13.02 L36.22,16.03 L36.68,21.04 L36.78,28.05 L36.78,35.07 L36.59,40.07 L36.31,43.58 L36.68,46.59 L37.06,51.10 L35.57,51.70 L34.64,48.69 L32.78,46.69 L30.92,47.29 L29.62,48.29 L29.15,53.10 L27.85,53.10 L27.38,48.29 L26.08,47.29 L24.22,46.69 L22.36,48.69 L21.43,51.70 L19.94,51.10 L20.32,46.59 L20.69,43.58 L20.41,40.07 L20.22,35.07 L20.22,28.05 L20.32,21.04 L20.78,16.03 L21.71,13.02 L23.01,10.52 L22.55,8.81 L22.92,7.01 L24.13,6.01 L24.97,3.60 L26.18,1.60 L27.76,0.60 Z" fill="url(#mg)"/><path d="M47.00,1.00 L47.74,0.60 L49.33,1.60 L50.53,3.60 L51.37,6.01 L52.58,7.01 L52.95,8.81 L52.49,10.52 L53.79,13.02 L54.72,16.03 L55.18,21.04 L55.28,28.05 L55.28,35.07 L55.09,40.07 L54.81,43.58 L55.18,46.59 L55.56,51.10 L54.07,51.70 L53.14,48.69 L51.28,46.69 L49.42,47.29 L48.12,48.29 L47.65,53.10 L46.35,53.10 L45.88,48.29 L44.58,47.29 L42.72,46.69 L40.86,48.69 L39.93,51.70 L38.44,51.10 L38.82,46.59 L39.19,43.58 L38.91,40.07 L38.72,35.07 L38.72,28.05 L38.82,21.04 L39.28,16.03 L40.21,13.02 L41.51,10.52 L41.05,8.81 L41.42,7.01 L42.63,6.01 L43.47,3.60 L44.67,1.60 L46.26,0.60 Z" fill="url(#mg)"/><path d="M65.50,1.00 L66.24,0.60 L67.83,1.60 L69.03,3.60 L69.87,6.01 L71.08,7.01 L71.45,8.81 L70.99,10.52 L72.29,13.02 L73.22,16.03 L73.68,21.04 L73.78,28.05 L73.78,35.07 L73.59,40.07 L73.31,43.58 L73.68,46.59 L74.06,51.10 L72.57,51.70 L71.64,48.69 L69.78,46.69 L67.92,47.29 L66.62,48.29 L66.15,53.10 L64.85,53.10 L64.38,48.29 L63.08,47.29 L61.22,46.69 L59.36,48.69 L58.43,51.70 L56.94,51.10 L57.32,46.59 L57.69,43.58 L57.41,40.07 L57.22,35.07 L57.22,28.05 L57.32,21.04 L57.78,16.03 L58.71,13.02 L60.01,10.52 L59.55,8.81 L59.92,7.01 L61.13,6.01 L61.97,3.60 L63.17,1.60 L64.76,0.60 Z" fill="url(#mg)"/><path d="M84.00,1.00 L84.74,0.60 L86.33,1.60 L87.53,3.60 L88.37,6.01 L89.58,7.01 L89.95,8.81 L89.49,10.52 L90.79,13.02 L91.72,16.03 L92.18,21.04 L92.28,28.05 L92.28,35.07 L92.09,40.07 L91.81,43.58 L92.18,46.59 L92.56,51.10 L91.07,51.70 L90.14,48.69 L88.28,46.69 L86.42,47.29 L85.12,48.29 L84.65,53.10 L83.35,53.10 L82.88,48.29 L81.58,47.29 L79.72,46.69 L77.86,48.69 L76.93,51.70 L75.44,51.10 L75.82,46.59 L76.19,43.58 L75.91,40.07 L75.72,35.07 L75.72,28.05 L75.82,21.04 L76.28,16.03 L77.21,13.02 L78.51,10.52 L78.05,8.81 L78.42,7.01 L79.63,6.01 L80.47,3.60 L81.67,1.60 L83.26,0.60 Z" fill="url(#mg)"/><g filter="url(#bl)"><ellipse cx="10.70" cy="23.40" rx="4.48" ry="2.80" fill="url(#h2)"/><ellipse cx="7.70" cy="47.90" rx="1.68" ry="4.48" fill="url(#h2)"/><ellipse cx="13.60" cy="46.40" rx="1.68" ry="4.48" fill="url(#h2)"/><ellipse cx="28.90" cy="24.80" rx="2.80" ry="2.80" fill="url(#h2)"/><ellipse cx="42.80" cy="21.60" rx="7.28" ry="3.92" fill="url(#h2)"/><ellipse cx="45.70" cy="20.90" rx="3.45" ry="2.88" fill="url(#h5)"/><ellipse cx="43.20" cy="31.10" rx="1.68" ry="0.90" fill="url(#h1)"/><ellipse cx="65.40" cy="18.00" rx="6.72" ry="4.26" fill="url(#h2)"/><ellipse cx="63.00" cy="18.00" rx="1.72" ry="1.72" fill="url(#h3)"/><ellipse cx="68.50" cy="18.50" rx="1.72" ry="1.72" fill="url(#h3)"/><ellipse cx="88.50" cy="26.00" rx="1.72" ry="6.90" fill="url(#h3)"/></g></g>
<clipPath id="c01"><rect x="0" y="0" width="92.40" height="52.60"/></clipPath><g transform="translate(18.30 295.20)" clip-path="url(#c01)"><rect x="0" y="0" width="92.40" height="52.60" fill="#1e1e1e"/><rect x="1.5" y="0" width="0.7" height="52.6" fill="#2c2c2c"/><rect x="3.0" y="0" width="0.7" height="52.6" fill="#2c2c2c"/><rect x="6.1" y="0" width="0.7" height="52.6" fill="#2c2c2c"/><rect x="10.4" y="0" width="0.7" height="52.6" fill="#2c2c2c"/><rect x="13.9" y="0" width="0.7" height="52.6" fill="#2c2c2c"/><rect x="15.5" y="0" width="0.7" height="52.6" fill="#2c2c2c"/><rect x="18.9" y="0" width="0.7" height="52.6" fill="#2c2c2c"/><rect x="22.2" y="0" width="0.7" height="52.6" fill="#2c2c2c"/><rect x="24.6" y="0" width="0.7" height="52.6" fill="#2c2c2c"/><rect x="27.7" y="0" width="0.7" height="52.6" fill="#2c2c2c"/><rect x="30.6" y="0" width="0.7" height="52.6" fill="#2c2c2c"/><rect x="33.7" y="0" width="0.7" height="52.6" fill="#2c2c2c"/><rect x="37.2" y="0" width="0.7" height="52.6" fill="#2c2c2c"/><rect x="39.6" y="0" width="0.7" height="52.6" fill="#2c2c2c"/><rect x="42.8" y="0" width="0.7" height="52.6" fill="#2c2c2c"/><rect x="46.5" y="0" width="0.7" height="52.6" fill="#2c2c2c"/><rect x="48.1" y="0" width="0.7" height="52.6" fill="#2c2c2c"/><rect x="52.1" y="0" width="0.7" height="52.6" fill="#2c2c2c"/><rect x="55.5" y="0" width="0.7" height="52.6" fill="#2c2c2c"/><rect x="57.6" y="0" width="0.7" height="52.6" fill="#2c2c2c"/><rect x="60.4" y="0" width="0.7" height="52.6" fill="#2c2c2c"/><rect x="64.6" y="0" width="0.7" height="52.6" fill="#2c2c2c"/><rect x="66.5" y="0" width="0.7" height="52.6" fill="#2c2c2c"/><rect x="69.4" y="0" width="0.7" height="52.6" fill="#2c2c2c"/><rect x="72.9" y="0" width="0.7" height="52.6" fill="#2c2c2c"/><rect x="76.4" y="0" width="0.7" height="52.6" fill="#2c2c2c"/><rect x="78.2" y="0" width="0.7" height="52.6" fill="#2c2c2c"/><rect x="81.6" y="0" width="0.7" height="52.6" fill="#2c2c2c"/><rect x="84.7" y="0" width="0.7" height="52.6" fill="#2c2c2c"/><rect x="88.7" y="0" width="0.7" height="52.6" fill="#2c2c2c"/><rect x="90.9" y="0" width="0.7" height="52.6" fill="#2c2c2c"/><path d="M10.00,1.00 L10.74,0.61 L12.32,1.60 L13.53,3.58 L14.37,5.97 L15.58,6.96 L15.95,8.74 L15.49,10.43 L16.79,12.91 L17.72,15.89 L18.18,20.85 L18.28,27.79 L18.28,34.74 L18.09,39.70 L17.81,43.17 L18.18,46.15 L18.56,50.62 L17.07,51.21 L16.14,48.23 L14.28,46.25 L12.42,46.85 L11.12,47.84 L10.65,52.60 L9.35,52.60 L8.88,47.84 L7.58,46.85 L5.72,46.25 L3.86,48.23 L2.93,51.21 L1.44,50.62 L1.82,46.15 L2.19,43.17 L1.91,39.70 L1.72,34.74 L1.72,27.79 L1.82,20.85 L2.28,15.89 L3.21,12.91 L4.51,10.43 L4.05,8.74 L4.42,6.96 L5.63,5.97 L6.47,3.58 L7.67,1.60 L9.26,0.61 Z" fill="url(#mg)"/><path d="M28.50,1.00 L29.24,0.61 L30.82,1.60 L32.03,3.58 L32.87,5.97 L34.08,6.96 L34.45,8.74 L33.99,10.43 L35.29,12.91 L36.22,15.89 L36.68,20.85 L36.78,27.79 L36.78,34.74 L36.59,39.70 L36.31,43.17 L36.68,46.15 L37.06,50.62 L35.57,51.21 L34.64,48.23 L32.78,46.25 L30.92,46.85 L29.62,47.84 L29.15,52.60 L27.85,52.60 L27.38,47.84 L26.08,46.85 L24.22,46.25 L22.36,48.23 L21.43,51.21 L19.94,50.62 L20.32,46.15 L20.69,43.17 L20.41,39.70 L20.22,34.74 L20.22,27.79 L20.32,20.85 L20.78,15.89 L21.71,12.91 L23.01,10.43 L22.55,8.74 L22.92,6.96 L24.13,5.97 L24.97,3.58 L26.18,1.60 L27.76,0.61 Z" fill="url(#mg)"/><path d="M47.00,1.00 L47.74,0.61 L49.33,1.60 L50.53,3.58 L51.37,5.97 L52.58,6.96 L52.95,8.74 L52.49,10.43 L53.79,12.91 L54.72,15.89 L55.18,20.85 L55.28,27.79 L55.28,34.74 L55.09,39.70 L54.81,43.17 L55.18,46.15 L55.56,50.62 L54.07,51.21 L53.14,48.23 L51.28,46.25 L49.42,46.85 L48.12,47.84 L47.65,52.60 L46.35,52.60 L45.88,47.84 L44.58,46.85 L42.72,46.25 L40.86,48.23 L39.93,51.21 L38.44,50.62 L38.82,46.15 L39.19,43.17 L38.91,39.70 L38.72,34.74 L38.72,27.79 L38.82,20.85 L39.28,15.89 L40.21,12.91 L41.51,10.43 L41.05,8.74 L41.42,6.96 L42.63,5.97 L43.47,3.58 L44.67,1.60 L46.26,0.61 Z" fill="url(#mg)"/><path d="M65.50,1.00 L66.24,0.61 L67.83,1.60 L69.03,3.58 L69.87,5.97 L71.08,6.96 L71.45,8.74 L70.99,10.43 L72.29,12.91 L73.22,15.89 L73.68,20.85 L73.78,27.79 L73.78,34.74 L73.59,39.70 L73.31,43.17 L73.68,46.15 L74.06,50.62 L72.57,51.21 L71.64,48.23 L69.78,46.25 L67.92,46.85 L66.62,47.84 L66.15,52.60 L64.85,52.60 L64.38,47.84 L63.08,46.85 L61.22,46.25 L59.36,48.23 L58.43,51.21 L56.94,50.62 L57.32,46.15 L57.69,43.17 L57.41,39.70 L57.22,34.74 L57.22,27.79 L57.32,20.85 L57.78,15.89 L58.71,12.91 L60.01,10.43 L59.55,8.74 L59.92,6.96 L61.13,5.97 L61.97,3.58 L63.17,1.60 L64.76,0.61 Z" fill="url(#mg)"/><path d="M84.00,1.00 L84.74,0.61 L86.33,1.60 L87.53,3.58 L88.37,5.97 L89.58,6.96 L89.95,8.74 L89.49,10.43 L90.79,12.91 L91.72,15.89 L92.18,20.85 L92.28,27.79 L92.28,34.74 L92.09,39.70 L91.81,43.17 L92.18,46.15 L92.56,50.62 L91.07,51.21 L90.14,48.23 L88.28,46.25 L86.42,46.85 L85.12,47.84 L84.65,52.60 L83.35,52.60 L82.88,47.84 L81.58,46.85 L79.72,46.25 L77.86,48.23 L76.93,51.21 L75.44,50.62 L75.82,46.15 L76.19,43.17 L75.91,39.70 L75.72,34.74 L75.72,27.79 L75.82,20.85 L76.28,15.89 L77.21,12.91 L78.51,10.43 L78.05,8.74 L78.42,6.96 L79.63,5.97 L80.47,3.58 L81.67,1.60 L83.26,0.61 Z" fill="url(#mg)"/><g filter="url(#bl)"><ellipse cx="10.00" cy="21.60" rx="9.18" ry="6.16" fill="url(#h2)"/><ellipse cx="5.30" cy="21.60" rx="4.62" ry="5.60" fill="url(#h3)"/><ellipse cx="13.00" cy="22.00" rx="3.92" ry="4.76" fill="url(#h3)"/><ellipse cx="30.50" cy="29.00" rx="9.10" ry="12.60" fill="url(#h4)"/><ellipse cx="33.20" cy="30.40" rx="4.76" ry="6.44" fill="url(#h6)"/><ellipse cx="20.60" cy="27.50" rx="2.80" ry="5.60" fill="url(#h2)"/><ellipse cx="42.50" cy="26.00" rx="7.00" ry="11.20" fill="url(#h3)"/><ellipse cx="41.50" cy="24.00" rx="4.20" ry="7.00" fill="url(#h4)"/><ellipse cx="52.70" cy="29.60" rx="4.76" ry="8.40" fill="url(#h4)"/><ellipse cx="49.00" cy="6.30" rx="1.68" ry="2.24" fill="url(#h2)"/><ellipse cx="65.10" cy="23.10" rx="9.18" ry="6.72" fill="url(#h2)"/><ellipse cx="59.30" cy="22.40" rx="5.60" ry="5.88" fill="url(#h4)"/><ellipse cx="68.60" cy="23.80" rx="7.00" ry="7.00" fill="url(#h6)"/><ellipse cx="84.10" cy="23.10" rx="9.30" ry="7.84" fill="url(#h2)"/><ellipse cx="85.30" cy="23.80" rx="7.56" ry="7.84" fill="url(#h6)"/></g></g>
<clipPath id="c11"><rect x="0" y="0" width="94.00" height="52.60"/></clipPath><g transform="translate(121.00 295.20)" clip-path="url(#c11)"><rect x="0" y="0" width="94.00" height="52.60" fill="#1e1e1e"/><rect x="1.7" y="0" width="0.7" height="52.6" fill="#2c2c2c"/><rect x="3.3" y="0" width="0.7" height="52.6" fill="#2c2c2c"/><rect x="6.7" y="0" width="0.7" height="52.6" fill="#2c2c2c"/><rect x="10.3" y="0" width="0.7" height="52.6" fill="#2c2c2c"/><rect x="13.8" y="0" width="0.7" height="52.6" fill="#2c2c2c"/><rect x="15.9" y="0" width="0.7" height="52.6" fill="#2c2c2c"/><rect x="18.5" y="0" width="0.7" height="52.6" fill="#2c2c2c"/><rect x="21.2" y="0" width="0.7" height="52.6" fill="#2c2c2c"/><rect x="25.1" y="0" width="0.7" height="52.6" fill="#2c2c2c"/><rect x="27.4" y="0" width="0.7" height="52.6" fill="#2c2c2c"/><rect x="31.6" y="0" width="0.7" height="52.6" fill="#2c2c2c"/><rect x="34.7" y="0" width="0.7" height="52.6" fill="#2c2c2c"/><rect x="36.4" y="0" width="0.7" height="52.6" fill="#2c2c2c"/><rect x="39.6" y="0" width="0.7" height="52.6" fill="#2c2c2c"/><rect x="43.6" y="0" width="0.7" height="52.6" fill="#2c2c2c"/><rect x="46.3" y="0" width="0.7" height="52.6" fill="#2c2c2c"/><rect x="49.6" y="0" width="0.7" height="52.6" fill="#2c2c2c"/><rect x="51.7" y="0" width="0.7" height="52.6" fill="#2c2c2c"/><rect x="54.3" y="0" width="0.7" height="52.6" fill="#2c2c2c"/><rect x="57.6" y="0" width="0.7" height="52.6" fill="#2c2c2c"/><rect x="61.6" y="0" width="0.7" height="52.6" fill="#2c2c2c"/><rect x="63.5" y="0" width="0.7" height="52.6" fill="#2c2c2c"/><rect x="66.7" y="0" width="0.7" height="52.6" fill="#2c2c2c"/><rect x="69.8" y="0" width="0.7" height="52.6" fill="#2c2c2c"/><rect x="72.8" y="0" width="0.7" height="52.6" fill="#2c2c2c"/><rect x="75.8" y="0" width="0.7" height="52.6" fill="#2c2c2c"/><rect x="79.8" y="0" width="0.7" height="52.6" fill="#2c2c2c"/><rect x="81.3" y="0" width="0.7" height="52.6" fill="#2c2c2c"/><rect x="84.0" y="0" width="0.7" height="52.6" fill="#2c2c2c"/><rect x="88.9" y="0" width="0.7" height="52.6" fill="#2c2c2c"/><rect x="91.8" y="0" width="0.7" height="52.6" fill="#2c2c2c"/><rect x="95.0" y="0" width="0.7" height="52.6" fill="#2c2c2c"/><path d="M10.00,1.00 L10.74,0.61 L12.32,1.60 L13.53,3.58 L14.37,5.97 L15.58,6.96 L15.95,8.74 L15.49,10.43 L16.79,12.91 L17.72,15.89 L18.18,20.85 L18.28,27.79 L18.28,34.74 L18.09,39.70 L17.81,43.17 L18.18,46.15 L18.56,50.62 L17.07,51.21 L16.14,48.23 L14.28,46.25 L12.42,46.85 L11.12,47.84 L10.65,52.60 L9.35,52.60 L8.88,47.84 L7.58,46.85 L5.72,46.25 L3.86,48.23 L2.93,51.21 L1.44,50.62 L1.82,46.15 L2.19,43.17 L1.91,39.70 L1.72,34.74 L1.72,27.79 L1.82,20.85 L2.28,15.89 L3.21,12.91 L4.51,10.43 L4.05,8.74 L4.42,6.96 L5.63,5.97 L6.47,3.58 L7.67,1.60 L9.26,0.61 Z" fill="url(#mg)"/><path d="M28.50,1.00 L29.24,0.61 L30.82,1.60 L32.03,3.58 L32.87,5.97 L34.08,6.96 L34.45,8.74 L33.99,10.43 L35.29,12.91 L36.22,15.89 L36.68,20.85 L36.78,27.79 L36.78,34.74 L36.59,39.70 L36.31,43.17 L36.68,46.15 L37.06,50.62 L35.57,51.21 L34.64,48.23 L32.78,46.25 L30.92,46.85 L29.62,47.84 L29.15,52.60 L27.85,52.60 L27.38,47.84 L26.08,46.85 L24.22,46.25 L22.36,48.23 L21.43,51.21 L19.94,50.62 L20.32,46.15 L20.69,43.17 L20.41,39.70 L20.22,34.74 L20.22,27.79 L20.32,20.85 L20.78,15.89 L21.71,12.91 L23.01,10.43 L22.55,8.74 L22.92,6.96 L24.13,5.97 L24.97,3.58 L26.18,1.60 L27.76,0.61 Z" fill="url(#mg)"/><path d="M47.00,1.00 L47.74,0.61 L49.33,1.60 L50.53,3.58 L51.37,5.97 L52.58,6.96 L52.95,8.74 L52.49,10.43 L53.79,12.91 L54.72,15.89 L55.18,20.85 L55.28,27.79 L55.28,34.74 L55.09,39.70 L54.81,43.17 L55.18,46.15 L55.56,50.62 L54.07,51.21 L53.14,48.23 L51.28,46.25 L49.42,46.85 L48.12,47.84 L47.65,52.60 L46.35,52.60 L45.88,47.84 L44.58,46.85 L42.72,46.25 L40.86,48.23 L39.93,51.21 L38.44,50.62 L38.82,46.15 L39.19,43.17 L38.91,39.70 L38.72,34.74 L38.72,27.79 L38.82,20.85 L39.28,15.89 L40.21,12.91 L41.51,10.43 L41.05,8.74 L41.42,6.96 L42.63,5.97 L43.47,3.58 L44.67,1.60 L46.26,0.61 Z" fill="url(#mg)"/><path d="M65.50,1.00 L66.24,0.61 L67.83,1.60 L69.03,3.58 L69.87,5.97 L71.08,6.96 L71.45,8.74 L70.99,10.43 L72.29,12.91 L73.22,15.89 L73.68,20.85 L73.78,27.79 L73.78,34.74 L73.59,39.70 L73.31,43.17 L73.68,46.15 L74.06,50.62 L72.57,51.21 L71.64,48.23 L69.78,46.25 L67.92,46.85 L66.62,47.84 L66.15,52.60 L64.85,52.60 L64.38,47.84 L63.08,46.85 L61.22,46.25 L59.36,48.23 L58.43,51.21 L56.94,50.62 L57.32,46.15 L57.69,43.17 L57.41,39.70 L57.22,34.74 L57.22,27.79 L57.32,20.85 L57.78,15.89 L58.71,12.91 L60.01,10.43 L59.55,8.74 L59.92,6.96 L61.13,5.97 L61.97,3.58 L63.17,1.60 L64.76,0.61 Z" fill="url(#mg)"/><path d="M84.00,1.00 L84.74,0.61 L86.33,1.60 L87.53,3.58 L88.37,5.97 L89.58,6.96 L89.95,8.74 L89.49,10.43 L90.79,12.91 L91.72,15.89 L92.18,20.85 L92.28,27.79 L92.28,34.74 L92.09,39.70 L91.81,43.17 L92.18,46.15 L92.56,50.62 L91.07,51.21 L90.14,48.23 L88.28,46.25 L86.42,46.85 L85.12,47.84 L84.65,52.60 L83.35,52.60 L82.88,47.84 L81.58,46.85 L79.72,46.25 L77.86,48.23 L76.93,51.21 L75.44,50.62 L75.82,46.15 L76.19,43.17 L75.91,39.70 L75.72,34.74 L75.72,27.79 L75.82,20.85 L76.28,15.89 L77.21,12.91 L78.51,10.43 L78.05,8.74 L78.42,6.96 L79.63,5.97 L80.47,3.58 L81.67,1.60 L83.26,0.61 Z" fill="url(#mg)"/><g filter="url(#bl)"><ellipse cx="5.00" cy="23.10" rx="2.80" ry="1.68" fill="url(#h1)"/><ellipse cx="14.50" cy="24.50" rx="2.24" ry="2.80" fill="url(#h1)"/><ellipse cx="32.80" cy="12.90" rx="2.10" ry="3.50" fill="url(#h3)"/><ellipse cx="48.80" cy="24.50" rx="2.80" ry="2.24" fill="url(#h2)"/><ellipse cx="48.10" cy="2.60" rx="1.68" ry="1.12" fill="url(#h2)"/><ellipse cx="54.70" cy="10.70" rx="1.68" ry="1.68" fill="url(#h2)"/><ellipse cx="59.00" cy="27.50" rx="1.68" ry="4.48" fill="url(#h2)"/><ellipse cx="72.90" cy="31.10" rx="1.68" ry="2.80" fill="url(#h1)"/><ellipse cx="78.80" cy="10.70" rx="2.80" ry="2.80" fill="url(#h4)"/><ellipse cx="91.90" cy="23.80" rx="1.12" ry="2.24" fill="url(#h1)"/><ellipse cx="48.10" cy="48.60" rx="1.68" ry="4.48" fill="url(#h2)"/><ellipse cx="43.70" cy="47.20" rx="1.68" ry="2.24" fill="url(#h2)"/><ellipse cx="32.00" cy="48.60" rx="1.12" ry="1.68" fill="url(#h1)"/></g></g>
<clipPath id="c21"><rect x="0" y="0" width="93.50" height="52.60"/></clipPath><g transform="translate(224.50 295.20)" clip-path="url(#c21)"><rect x="0" y="0" width="93.50" height="52.60" fill="#1e1e1e"/><rect x="0.9" y="0" width="0.7" height="52.6" fill="#2c2c2c"/><rect x="4.9" y="0" width="0.7" height="52.6" fill="#2c2c2c"/><rect x="7.9" y="0" width="0.7" height="52.6" fill="#2c2c2c"/><rect x="9.4" y="0" width="0.7" height="52.6" fill="#2c2c2c"/><rect x="13.5" y="0" width="0.7" height="52.6" fill="#2c2c2c"/><rect x="16.7" y="0" width="0.7" height="52.6" fill="#2c2c2c"/><rect x="19.3" y="0" width="0.7" height="52.6" fill="#2c2c2c"/><rect x="22.0" y="0" width="0.7" height="52.6" fill="#2c2c2c"/><rect x="24.6" y="0" width="0.7" height="52.6" fill="#2c2c2c"/><rect x="27.7" y="0" width="0.7" height="52.6" fill="#2c2c2c"/><rect x="30.5" y="0" width="0.7" height="52.6" fill="#2c2c2c"/><rect x="33.1" y="0" width="0.7" height="52.6" fill="#2c2c2c"/><rect x="37.2" y="0" width="0.7" height="52.6" fill="#2c2c2c"/><rect x="39.6" y="0" width="0.7" height="52.6" fill="#2c2c2c"/><rect x="43.6" y="0" width="0.7" height="52.6" fill="#2c2c2c"/><rect x="45.1" y="0" width="0.7" height="52.6" fill="#2c2c2c"/><rect x="49.8" y="0" width="0.7" height="52.6" fill="#2c2c2c"/><rect x="52.4" y="0" width="0.7" height="52.6" fill="#2c2c2c"/><rect x="55.8" y="0" width="0.7" height="52.6" fill="#2c2c2c"/><rect x="58.8" y="0" width="0.7" height="52.6" fill="#2c2c2c"/><rect x="61.8" y="0" width="0.7" height="52.6" fill="#2c2c2c"/><rect x="64.2" y="0" width="0.7" height="52.6" fill="#2c2c2c"/><rect x="66.0" y="0" width="0.7" height="52.6" fill="#2c2c2c"/><rect x="70.5" y="0" width="0.7" height="52.6" fill="#2c2c2c"/><rect x="72.3" y="0" width="0.7" height="52.6" fill="#2c2c2c"/><rect x="75.6" y="0" width="0.7" height="52.6" fill="#2c2c2c"/><rect x="79.3" y="0" width="0.7" height="52.6" fill="#2c2c2c"/><rect x="82.0" y="0" width="0.7" height="52.6" fill="#2c2c2c"/><rect x="84.8" y="0" width="0.7" height="52.6" fill="#2c2c2c"/><rect x="88.9" y="0" width="0.7" height="52.6" fill="#2c2c2c"/><rect x="91.2" y="0" width="0.7" height="52.6" fill="#2c2c2c"/><path d="M9.50,1.00 L10.24,0.61 L11.82,1.60 L13.03,3.58 L13.87,5.97 L15.08,6.96 L15.45,8.74 L14.99,10.43 L16.29,12.91 L17.22,15.89 L17.68,20.85 L17.78,27.79 L17.78,34.74 L17.59,39.70 L17.31,43.17 L17.68,46.15 L18.06,50.62 L16.57,51.21 L15.64,48.23 L13.78,46.25 L11.92,46.85 L10.62,47.84 L10.15,52.60 L8.85,52.60 L8.38,47.84 L7.08,46.85 L5.22,46.25 L3.36,48.23 L2.43,51.21 L0.94,50.62 L1.32,46.15 L1.69,43.17 L1.41,39.70 L1.22,34.74 L1.22,27.79 L1.32,20.85 L1.78,15.89 L2.71,12.91 L4.01,10.43 L3.55,8.74 L3.92,6.96 L5.13,5.97 L5.97,3.58 L7.17,1.60 L8.76,0.61 Z" fill="url(#mg)"/><path d="M26.50,1.00 L27.24,0.61 L28.82,1.60 L30.03,3.58 L30.87,5.97 L32.08,6.96 L32.45,8.74 L31.99,10.43 L33.29,12.91 L34.22,15.89 L34.68,20.85 L34.78,27.79 L34.78,34.74 L34.59,39.70 L34.31,43.17 L34.68,46.15 L35.06,50.62 L33.57,51.21 L32.64,48.23 L30.78,46.25 L28.92,46.85 L27.62,47.84 L27.15,52.60 L25.85,52.60 L25.38,47.84 L24.08,46.85 L22.22,46.25 L20.36,48.23 L19.43,51.21 L17.94,50.62 L18.32,46.15 L18.69,43.17 L18.41,39.70 L18.22,34.74 L18.22,27.79 L18.32,20.85 L18.78,15.89 L19.71,12.91 L21.01,10.43 L20.55,8.74 L20.92,6.96 L22.13,5.97 L22.97,3.58 L24.18,1.60 L25.76,0.61 Z" fill="url(#mg)"/><path d="M51.00,1.00 L51.74,0.61 L53.33,1.60 L54.53,3.58 L55.37,5.97 L56.58,6.96 L56.95,8.74 L56.49,10.43 L57.79,12.91 L58.72,15.89 L59.18,20.85 L59.28,27.79 L59.28,34.74 L59.09,39.70 L58.81,43.17 L59.18,46.15 L59.56,50.62 L58.07,51.21 L57.14,48.23 L55.28,46.25 L53.42,46.85 L52.12,47.84 L51.65,52.60 L50.35,52.60 L49.88,47.84 L48.58,46.85 L46.72,46.25 L44.86,48.23 L43.93,51.21 L42.44,50.62 L42.82,46.15 L43.19,43.17 L42.91,39.70 L42.72,34.74 L42.72,27.79 L42.82,20.85 L43.28,15.89 L44.21,12.91 L45.51,10.43 L45.05,8.74 L45.42,6.96 L46.63,5.97 L47.47,3.58 L48.67,1.60 L50.26,0.61 Z" fill="url(#mg)"/><path d="M67.50,1.00 L68.24,0.61 L69.83,1.60 L71.03,3.58 L71.87,5.97 L73.08,6.96 L73.45,8.74 L72.99,10.43 L74.29,12.91 L75.22,15.89 L75.68,20.85 L75.78,27.79 L75.78,34.74 L75.59,39.70 L75.31,43.17 L75.68,46.15 L76.06,50.62 L74.57,51.21 L73.64,48.23 L71.78,46.25 L69.92,46.85 L68.62,47.84 L68.15,52.60 L66.85,52.60 L66.38,47.84 L65.08,46.85 L63.22,46.25 L61.36,48.23 L60.43,51.21 L58.94,50.62 L59.32,46.15 L59.69,43.17 L59.41,39.70 L59.22,34.74 L59.22,27.79 L59.32,20.85 L59.78,15.89 L60.71,12.91 L62.01,10.43 L61.55,8.74 L61.92,6.96 L63.13,5.97 L63.97,3.58 L65.17,1.60 L66.76,0.61 Z" fill="url(#mg)"/><path d="M85.00,1.00 L85.74,0.61 L87.33,1.60 L88.53,3.58 L89.37,5.97 L90.58,6.96 L90.95,8.74 L90.49,10.43 L91.79,12.91 L92.72,15.89 L93.18,20.85 L93.28,27.79 L93.28,34.74 L93.09,39.70 L92.81,43.17 L93.18,46.15 L93.56,50.62 L92.07,51.21 L91.14,48.23 L89.28,46.25 L87.42,46.85 L86.12,47.84 L85.65,52.60 L84.35,52.60 L83.88,47.84 L82.58,46.85 L80.72,46.25 L78.86,48.23 L77.93,51.21 L76.44,50.62 L76.82,46.15 L77.19,43.17 L76.91,39.70 L76.72,34.74 L76.72,27.79 L76.82,20.85 L77.28,15.89 L78.21,12.91 L79.51,10.43 L79.05,8.74 L79.42,6.96 L80.63,5.97 L81.47,3.58 L82.67,1.60 L84.26,0.61 Z" fill="url(#mg)"/><g filter="url(#bl)"><ellipse cx="10.60" cy="25.90" rx="9.00" ry="6.60" fill="url(#h3)"/><ellipse cx="14.30" cy="26.20" rx="3.60" ry="3.00" fill="url(#h6)"/><ellipse cx="6.30" cy="25.50" rx="2.40" ry="2.40" fill="url(#h3)"/><ellipse cx="23.50" cy="23.30" rx="5.04" ry="4.80" fill="url(#h4)"/><ellipse cx="31.80" cy="25.50" rx="4.20" ry="4.20" fill="url(#h4)"/><ellipse cx="52.70" cy="6.50" rx="3.00" ry="4.80" fill="url(#h5)"/><ellipse cx="64.40" cy="5.00" rx="2.40" ry="3.60" fill="url(#h3)"/><ellipse cx="61.70" cy="26.20" rx="5.04" ry="8.96" fill="url(#h2)"/><ellipse cx="70.50" cy="28.40" rx="2.24" ry="4.48" fill="url(#h2)"/><ellipse cx="77.10" cy="26.20" rx="3.00" ry="6.00" fill="url(#h4)"/><ellipse cx="88.70" cy="27.70" rx="4.20" ry="7.20" fill="url(#h6)"/></g></g>
<clipPath id="c31"><rect x="0" y="0" width="92.10" height="52.60"/></clipPath><g transform="translate(328.20 295.20)" clip-path="url(#c31)"><rect x="0" y="0" width="92.10" height="52.60" fill="#1e1e1e"/><rect x="0.7" y="0" width="0.7" height="52.6" fill="#2c2c2c"/><rect x="3.5" y="0" width="0.7" height="52.6" fill="#2c2c2c"/><rect x="7.7" y="0" width="0.7" height="52.6" fill="#2c2c2c"/><rect x="10.0" y="0" width="0.7" height="52.6" fill="#2c2c2c"/><rect x="13.6" y="0" width="0.7" height="52.6" fill="#2c2c2c"/><rect x="15.7" y="0" width="0.7" height="52.6" fill="#2c2c2c"/><rect x="18.4" y="0" width="0.7" height="52.6" fill="#2c2c2c"/><rect x="22.1" y="0" width="0.7" height="52.6" fill="#2c2c2c"/><rect x="25.6" y="0" width="0.7" height="52.6" fill="#2c2c2c"/><rect x="27.3" y="0" width="0.7" height="52.6" fill="#2c2c2c"/><rect x="31.6" y="0" width="0.7" height="52.6" fill="#2c2c2c"/><rect x="34.8" y="0" width="0.7" height="52.6" fill="#2c2c2c"/><rect x="37.6" y="0" width="0.7" height="52.6" fill="#2c2c2c"/><rect x="40.6" y="0" width="0.7" height="52.6" fill="#2c2c2c"/><rect x="42.0" y="0" width="0.7" height="52.6" fill="#2c2c2c"/><rect x="46.3" y="0" width="0.7" height="52.6" fill="#2c2c2c"/><rect x="49.7" y="0" width="0.7" height="52.6" fill="#2c2c2c"/><rect x="51.1" y="0" width="0.7" height="52.6" fill="#2c2c2c"/><rect x="54.5" y="0" width="0.7" height="52.6" fill="#2c2c2c"/><rect x="57.5" y="0" width="0.7" height="52.6" fill="#2c2c2c"/><rect x="61.1" y="0" width="0.7" height="52.6" fill="#2c2c2c"/><rect x="63.8" y="0" width="0.7" height="52.6" fill="#2c2c2c"/><rect x="66.9" y="0" width="0.7" height="52.6" fill="#2c2c2c"/><rect x="70.6" y="0" width="0.7" height="52.6" fill="#2c2c2c"/><rect x="72.0" y="0" width="0.7" height="52.6" fill="#2c2c2c"/><rect x="75.1" y="0" width="0.7" height="52.6" fill="#2c2c2c"/><rect x="78.3" y="0" width="0.7" height="52.6" fill="#2c2c2c"/><rect x="81.2" y="0" width="0.7" height="52.6" fill="#2c2c2c"/><rect x="84.1" y="0" width="0.7" height="52.6" fill="#2c2c2c"/><rect x="88.9" y="0" width="0.7" height="52.6" fill="#2c2c2c"/><rect x="91.7" y="0" width="0.7" height="52.6" fill="#2c2c2c"/><path d="M10.00,1.00 L10.74,0.61 L12.32,1.60 L13.53,3.58 L14.37,5.97 L15.58,6.96 L15.95,8.74 L15.49,10.43 L16.79,12.91 L17.72,15.89 L18.18,20.85 L18.28,27.79 L18.28,34.74 L18.09,39.70 L17.81,43.17 L18.18,46.15 L18.56,50.62 L17.07,51.21 L16.14,48.23 L14.28,46.25 L12.42,46.85 L11.12,47.84 L10.65,52.60 L9.35,52.60 L8.88,47.84 L7.58,46.85 L5.72,46.25 L3.86,48.23 L2.93,51.21 L1.44,50.62 L1.82,46.15 L2.19,43.17 L1.91,39.70 L1.72,34.74 L1.72,27.79 L1.82,20.85 L2.28,15.89 L3.21,12.91 L4.51,10.43 L4.05,8.74 L4.42,6.96 L5.63,5.97 L6.47,3.58 L7.67,1.60 L9.26,0.61 Z" fill="url(#mg)"/><path d="M28.50,1.00 L29.24,0.61 L30.82,1.60 L32.03,3.58 L32.87,5.97 L34.08,6.96 L34.45,8.74 L33.99,10.43 L35.29,12.91 L36.22,15.89 L36.68,20.85 L36.78,27.79 L36.78,34.74 L36.59,39.70 L36.31,43.17 L36.68,46.15 L37.06,50.62 L35.57,51.21 L34.64,48.23 L32.78,46.25 L30.92,46.85 L29.62,47.84 L29.15,52.60 L27.85,52.60 L27.38,47.84 L26.08,46.85 L24.22,46.25 L22.36,48.23 L21.43,51.21 L19.94,50.62 L20.32,46.15 L20.69,43.17 L20.41,39.70 L20.22,34.74 L20.22,27.79 L20.32,20.85 L20.78,15.89 L21.71,12.91 L23.01,10.43 L22.55,8.74 L22.92,6.96 L24.13,5.97 L24.97,3.58 L26.18,1.60 L27.76,0.61 Z" fill="url(#mg)"/><path d="M47.00,1.00 L47.74,0.61 L49.33,1.60 L50.53,3.58 L51.37,5.97 L52.58,6.96 L52.95,8.74 L52.49,10.43 L53.79,12.91 L54.72,15.89 L55.18,20.85 L55.28,27.79 L55.28,34.74 L55.09,39.70 L54.81,43.17 L55.18,46.15 L55.56,50.62 L54.07,51.21 L53.14,48.23 L51.28,46.25 L49.42,46.85 L48.12,47.84 L47.65,52.60 L46.35,52.60 L45.88,47.84 L44.58,46.85 L42.72,46.25 L40.86,48.23 L39.93,51.21 L38.44,50.62 L38.82,46.15 L39.19,43.17 L38.91,39.70 L38.72,34.74 L38.72,27.79 L38.82,20.85 L39.28,15.89 L40.21,12.91 L41.51,10.43 L41.05,8.74 L41.42,6.96 L42.63,5.97 L43.47,3.58 L44.67,1.60 L46.26,0.61 Z" fill="url(#mg)"/><path d="M65.50,1.00 L66.24,0.61 L67.83,1.60 L69.03,3.58 L69.87,5.97 L71.08,6.96 L71.45,8.74 L70.99,10.43 L72.29,12.91 L73.22,15.89 L73.68,20.85 L73.78,27.79 L73.78,34.74 L73.59,39.70 L73.31,43.17 L73.68,46.15 L74.06,50.62 L72.57,51.21 L71.64,48.23 L69.78,46.25 L67.92,46.85 L66.62,47.84 L66.15,52.60 L64.85,52.60 L64.38,47.84 L63.08,46.85 L61.22,46.25 L59.36,48.23 L58.43,51.21 L56.94,50.62 L57.32,46.15 L57.69,43.17 L57.41,39.70 L57.22,34.74 L57.22,27.79 L57.32,20.85 L57.78,15.89 L58.71,12.91 L60.01,10.43 L59.55,8.74 L59.92,6.96 L61.13,5.97 L61.97,3.58 L63.17,1.60 L64.76,0.61 Z" fill="url(#mg)"/><path d="M84.00,1.00 L84.74,0.61 L86.33,1.60 L87.53,3.58 L88.37,5.97 L89.58,6.96 L89.95,8.74 L89.49,10.43 L90.79,12.91 L91.72,15.89 L92.18,20.85 L92.28,27.79 L92.28,34.74 L92.09,39.70 L91.81,43.17 L92.18,46.15 L92.56,50.62 L91.07,51.21 L90.14,48.23 L88.28,46.25 L86.42,46.85 L85.12,47.84 L84.65,52.60 L83.35,52.60 L82.88,47.84 L81.58,46.85 L79.72,46.25 L77.86,48.23 L76.93,51.21 L75.44,50.62 L75.82,46.15 L76.19,43.17 L75.91,39.70 L75.72,34.74 L75.72,27.79 L75.82,20.85 L76.28,15.89 L77.21,12.91 L78.51,10.43 L78.05,8.74 L78.42,6.96 L79.63,5.97 L80.47,3.58 L81.67,1.60 L83.26,0.61 Z" fill="url(#mg)"/><g filter="url(#bl)"></g></g>
<rect x="17.10" y="360.10" width="94.40" height="54.00" fill="#d8d8d8" stroke="none" stroke-width="1" />
<rect x="16.30" y="359.30" width="94.40" height="54.00" fill="#fff" stroke="#9a9a9a" stroke-width="0.8" />
<text x="64.70" y="390.30" font-size="14.8" text-anchor="middle" fill="#ff2424" letter-spacing="2.4">xxxxx</text>
<clipPath id="c12"><rect x="0" y="0" width="94.00" height="53.60"/></clipPath><g transform="translate(121.00 359.20)" clip-path="url(#c12)"><rect x="0" y="0" width="94.00" height="53.60" fill="#1e1e1e"/><rect x="0.2" y="0" width="0.7" height="53.6" fill="#2c2c2c"/><rect x="4.0" y="0" width="0.7" height="53.6" fill="#2c2c2c"/><rect x="6.6" y="0" width="0.7" height="53.6" fill="#2c2c2c"/><rect x="9.6" y="0" width="0.7" height="53.6" fill="#2c2c2c"/><rect x="12.7" y="0" width="0.7" height="53.6" fill="#2c2c2c"/><rect x="16.3" y="0" width="0.7" height="53.6" fill="#2c2c2c"/><rect x="19.2" y="0" width="0.7" height="53.6" fill="#2c2c2c"/><rect x="21.7" y="0" width="0.7" height="53.6" fill="#2c2c2c"/><rect x="24.4" y="0" width="0.7" height="53.6" fill="#2c2c2c"/><rect x="27.7" y="0" width="0.7" height="53.6" fill="#2c2c2c"/><rect x="30.2" y="0" width="0.7" height="53.6" fill="#2c2c2c"/><rect x="34.1" y="0" width="0.7" height="53.6" fill="#2c2c2c"/><rect x="37.4" y="0" width="0.7" height="53.6" fill="#2c2c2c"/><rect x="39.8" y="0" width="0.7" height="53.6" fill="#2c2c2c"/><rect x="42.2" y="0" width="0.7" height="53.6" fill="#2c2c2c"/><rect x="45.4" y="0" width="0.7" height="53.6" fill="#2c2c2c"/><rect x="48.7" y="0" width="0.7" height="53.6" fill="#2c2c2c"/><rect x="52.2" y="0" width="0.7" height="53.6" fill="#2c2c2c"/><rect x="55.6" y="0" width="0.7" height="53.6" fill="#2c2c2c"/><rect x="57.8" y="0" width="0.7" height="53.6" fill="#2c2c2c"/><rect x="61.6" y="0" width="0.7" height="53.6" fill="#2c2c2c"/><rect x="64.2" y="0" width="0.7" height="53.6" fill="#2c2c2c"/><rect x="66.9" y="0" width="0.7" height="53.6" fill="#2c2c2c"/><rect x="69.7" y="0" width="0.7" height="53.6" fill="#2c2c2c"/><rect x="73.0" y="0" width="0.7" height="53.6" fill="#2c2c2c"/><rect x="76.4" y="0" width="0.7" height="53.6" fill="#2c2c2c"/><rect x="78.8" y="0" width="0.7" height="53.6" fill="#2c2c2c"/><rect x="82.4" y="0" width="0.7" height="53.6" fill="#2c2c2c"/><rect x="84.9" y="0" width="0.7" height="53.6" fill="#2c2c2c"/><rect x="87.5" y="0" width="0.7" height="53.6" fill="#2c2c2c"/><rect x="91.1" y="0" width="0.7" height="53.6" fill="#2c2c2c"/><rect x="94.4" y="0" width="0.7" height="53.6" fill="#2c2c2c"/><path d="M10.00,0.99 L10.74,0.59 L12.32,1.60 L13.53,3.62 L14.37,6.05 L15.58,7.06 L15.95,8.89 L15.49,10.60 L16.79,13.13 L17.72,16.17 L18.18,21.23 L18.28,28.31 L18.28,35.39 L18.09,40.45 L17.81,43.99 L18.18,47.02 L18.56,51.58 L17.07,52.18 L16.14,49.15 L14.28,47.13 L12.42,47.73 L11.12,48.74 L10.65,53.60 L9.35,53.60 L8.88,48.74 L7.58,47.73 L5.72,47.13 L3.86,49.15 L2.93,52.18 L1.44,51.58 L1.82,47.02 L2.19,43.99 L1.91,40.45 L1.72,35.39 L1.72,28.31 L1.82,21.23 L2.28,16.17 L3.21,13.13 L4.51,10.60 L4.05,8.89 L4.42,7.06 L5.63,6.05 L6.47,3.62 L7.67,1.60 L9.26,0.59 Z" fill="url(#mg)"/><path d="M28.50,0.99 L29.24,0.59 L30.82,1.60 L32.03,3.62 L32.87,6.05 L34.08,7.06 L34.45,8.89 L33.99,10.60 L35.29,13.13 L36.22,16.17 L36.68,21.23 L36.78,28.31 L36.78,35.39 L36.59,40.45 L36.31,43.99 L36.68,47.02 L37.06,51.58 L35.57,52.18 L34.64,49.15 L32.78,47.13 L30.92,47.73 L29.62,48.74 L29.15,53.60 L27.85,53.60 L27.38,48.74 L26.08,47.73 L24.22,47.13 L22.36,49.15 L21.43,52.18 L19.94,51.58 L20.32,47.02 L20.69,43.99 L20.41,40.45 L20.22,35.39 L20.22,28.31 L20.32,21.23 L20.78,16.17 L21.71,13.13 L23.01,10.60 L22.55,8.89 L22.92,7.06 L24.13,6.05 L24.97,3.62 L26.18,1.60 L27.76,0.59 Z" fill="url(#mg)"/><path d="M47.00,0.99 L47.74,0.59 L49.33,1.60 L50.53,3.62 L51.37,6.05 L52.58,7.06 L52.95,8.89 L52.49,10.60 L53.79,13.13 L54.72,16.17 L55.18,21.23 L55.28,28.31 L55.28,35.39 L55.09,40.45 L54.81,43.99 L55.18,47.02 L55.56,51.58 L54.07,52.18 L53.14,49.15 L51.28,47.13 L49.42,47.73 L48.12,48.74 L47.65,53.60 L46.35,53.60 L45.88,48.74 L44.58,47.73 L42.72,47.13 L40.86,49.15 L39.93,52.18 L38.44,51.58 L38.82,47.02 L39.19,43.99 L38.91,40.45 L38.72,35.39 L38.72,28.31 L38.82,21.23 L39.28,16.17 L40.21,13.13 L41.51,10.60 L41.05,8.89 L41.42,7.06 L42.63,6.05 L43.47,3.62 L44.67,1.60 L46.26,0.59 Z" fill="url(#mg)"/><path d="M65.50,0.99 L66.24,0.59 L67.83,1.60 L69.03,3.62 L69.87,6.05 L71.08,7.06 L71.45,8.89 L70.99,10.60 L72.29,13.13 L73.22,16.17 L73.68,21.23 L73.78,28.31 L73.78,35.39 L73.59,40.45 L73.31,43.99 L73.68,47.02 L74.06,51.58 L72.57,52.18 L71.64,49.15 L69.78,47.13 L67.92,47.73 L66.62,48.74 L66.15,53.60 L64.85,53.60 L64.38,48.74 L63.08,47.73 L61.22,47.13 L59.36,49.15 L58.43,52.18 L56.94,51.58 L57.32,47.02 L57.69,43.99 L57.41,40.45 L57.22,35.39 L57.22,28.31 L57.32,21.23 L57.78,16.17 L58.71,13.13 L60.01,10.60 L59.55,8.89 L59.92,7.06 L61.13,6.05 L61.97,3.62 L63.17,1.60 L64.76,0.59 Z" fill="url(#mg)"/><path d="M84.00,0.99 L84.74,0.59 L86.33,1.60 L87.53,3.62 L88.37,6.05 L89.58,7.06 L89.95,8.89 L89.49,10.60 L90.79,13.13 L91.72,16.17 L92.18,21.23 L92.28,28.31 L92.28,35.39 L92.09,40.45 L91.81,43.99 L92.18,47.02 L92.56,51.58 L91.07,52.18 L90.14,49.15 L88.28,47.13 L86.42,47.73 L85.12,48.74 L84.65,53.60 L83.35,53.60 L82.88,48.74 L81.58,47.73 L79.72,47.13 L77.86,49.15 L76.93,52.18 L75.44,51.58 L75.82,47.02 L76.19,43.99 L75.91,40.45 L75.72,35.39 L75.72,28.31 L75.82,21.23 L76.28,16.17 L77.21,13.13 L78.51,10.60 L78.05,8.89 L78.42,7.06 L79.63,6.05 L80.47,3.62 L81.67,1.60 L83.26,0.59 Z" fill="url(#mg)"/><g filter="url(#bl)"><ellipse cx="46.60" cy="1.60" rx="1.12" ry="1.12" fill="url(#h2)"/><ellipse cx="56.10" cy="9.70" rx="2.80" ry="2.80" fill="url(#h5)"/><ellipse cx="45.20" cy="9.00" rx="1.12" ry="1.12" fill="url(#h1)"/><ellipse cx="55.40" cy="49.10" rx="2.10" ry="4.20" fill="url(#h3)"/><ellipse cx="40.80" cy="44.00" rx="1.12" ry="1.12" fill="url(#h1)"/></g></g>
<clipPath id="c32"><rect x="0" y="0" width="92.10" height="53.60"/></clipPath><g transform="translate(328.20 359.20)" clip-path="url(#c32)"><rect x="0" y="0" width="92.10" height="53.60" fill="#1e1e1e"/><rect x="0.1" y="0" width="0.7" height="53.6" fill="#2c2c2c"/><rect x="3.8" y="0" width="0.7" height="53.6" fill="#2c2c2c"/><rect x="6.9" y="0" width="0.7" height="53.6" fill="#2c2c2c"/><rect x="10.8" y="0" width="0.7" height="53.6" fill="#2c2c2c"/><rect x="13.9" y="0" width="0.7" height="53.6" fill="#2c2c2c"/><rect x="15.7" y="0" width="0.7" height="53.6" fill="#2c2c2c"/><rect x="19.8" y="0" width="0.7" height="53.6" fill="#2c2c2c"/><rect x="22.6" y="0" width="0.7" height="53.6" fill="#2c2c2c"/><rect x="24.5" y="0" width="0.7" height="53.6" fill="#2c2c2c"/><rect x="27.9" y="0" width="0.7" height="53.6" fill="#2c2c2c"/><rect x="30.2" y="0" width="0.7" height="53.6" fill="#2c2c2c"/><rect x="34.6" y="0" width="0.7" height="53.6" fill="#2c2c2c"/><rect x="37.3" y="0" width="0.7" height="53.6" fill="#2c2c2c"/><rect x="40.8" y="0" width="0.7" height="53.6" fill="#2c2c2c"/><rect x="43.6" y="0" width="0.7" height="53.6" fill="#2c2c2c"/><rect x="46.3" y="0" width="0.7" height="53.6" fill="#2c2c2c"/><rect x="49.5" y="0" width="0.7" height="53.6" fill="#2c2c2c"/><rect x="52.1" y="0" width="0.7" height="53.6" fill="#2c2c2c"/><rect x="54.2" y="0" width="0.7" height="53.6" fill="#2c2c2c"/><rect x="58.2" y="0" width="0.7" height="53.6" fill="#2c2c2c"/><rect x="60.0" y="0" width="0.7" height="53.6" fill="#2c2c2c"/><rect x="63.3" y="0" width="0.7" height="53.6" fill="#2c2c2c"/><rect x="67.5" y="0" width="0.7" height="53.6" fill="#2c2c2c"/><rect x="69.1" y="0" width="0.7" height="53.6" fill="#2c2c2c"/><rect x="72.2" y="0" width="0.7" height="53.6" fill="#2c2c2c"/><rect x="75.2" y="0" width="0.7" height="53.6" fill="#2c2c2c"/><rect x="79.8" y="0" width="0.7" height="53.6" fill="#2c2c2c"/><rect x="81.4" y="0" width="0.7" height="53.6" fill="#2c2c2c"/><rect x="84.0" y="0" width="0.7" height="53.6" fill="#2c2c2c"/><rect x="88.7" y="0" width="0.7" height="53.6" fill="#2c2c2c"/><rect x="90.2" y="0" width="0.7" height="53.6" fill="#2c2c2c"/><path d="M10.00,0.99 L10.74,0.59 L12.32,1.60 L13.53,3.62 L14.37,6.05 L15.58,7.06 L15.95,8.89 L15.49,10.60 L16.79,13.13 L17.72,16.17 L18.18,21.23 L18.28,28.31 L18.28,35.39 L18.09,40.45 L17.81,43.99 L18.18,47.02 L18.56,51.58 L17.07,52.18 L16.14,49.15 L14.28,47.13 L12.42,47.73 L11.12,48.74 L10.65,53.60 L9.35,53.60 L8.88,48.74 L7.58,47.73 L5.72,47.13 L3.86,49.15 L2.93,52.18 L1.44,51.58 L1.82,47.02 L2.19,43.99 L1.91,40.45 L1.72,35.39 L1.72,28.31 L1.82,21.23 L2.28,16.17 L3.21,13.13 L4.51,10.60 L4.05,8.89 L4.42,7.06 L5.63,6.05 L6.47,3.62 L7.67,1.60 L9.26,0.59 Z" fill="url(#mg)"/><path d="M28.50,0.99 L29.24,0.59 L30.82,1.60 L32.03,3.62 L32.87,6.05 L34.08,7.06 L34.45,8.89 L33.99,10.60 L35.29,13.13 L36.22,16.17 L36.68,21.23 L36.78,28.31 L36.78,35.39 L36.59,40.45 L36.31,43.99 L36.68,47.02 L37.06,51.58 L35.57,52.18 L34.64,49.15 L32.78,47.13 L30.92,47.73 L29.62,48.74 L29.15,53.60 L27.85,53.60 L27.38,48.74 L26.08,47.73 L24.22,47.13 L22.36,49.15 L21.43,52.18 L19.94,51.58 L20.32,47.02 L20.69,43.99 L20.41,40.45 L20.22,35.39 L20.22,28.31 L20.32,21.23 L20.78,16.17 L21.71,13.13 L23.01,10.60 L22.55,8.89 L22.92,7.06 L24.13,6.05 L24.97,3.62 L26.18,1.60 L27.76,0.59 Z" fill="url(#mg)"/><path d="M47.00,0.99 L47.74,0.59 L49.33,1.60 L50.53,3.62 L51.37,6.05 L52.58,7.06 L52.95,8.89 L52.49,10.60 L53.79,13.13 L54.72,16.17 L55.18,21.23 L55.28,28.31 L55.28,35.39 L55.09,40.45 L54.81,43.99 L55.18,47.02 L55.56,51.58 L54.07,52.18 L53.14,49.15 L51.28,47.13 L49.42,47.73 L48.12,48.74 L47.65,53.60 L46.35,53.60 L45.88,48.74 L44.58,47.73 L42.72,47.13 L40.86,49.15 L39.93,52.18 L38.44,51.58 L38.82,47.02 L39.19,43.99 L38.91,40.45 L38.72,35.39 L38.72,28.31 L38.82,21.23 L39.28,16.17 L40.21,13.13 L41.51,10.60 L41.05,8.89 L41.42,7.06 L42.63,6.05 L43.47,3.62 L44.67,1.60 L46.26,0.59 Z" fill="url(#mg)"/><path d="M65.50,0.99 L66.24,0.59 L67.83,1.60 L69.03,3.62 L69.87,6.05 L71.08,7.06 L71.45,8.89 L70.99,10.60 L72.29,13.13 L73.22,16.17 L73.68,21.23 L73.78,28.31 L73.78,35.39 L73.59,40.45 L73.31,43.99 L73.68,47.02 L74.06,51.58 L72.57,52.18 L71.64,49.15 L69.78,47.13 L67.92,47.73 L66.62,48.74 L66.15,53.60 L64.85,53.60 L64.38,48.74 L63.08,47.73 L61.22,47.13 L59.36,49.15 L58.43,52.18 L56.94,51.58 L57.32,47.02 L57.69,43.99 L57.41,40.45 L57.22,35.39 L57.22,28.31 L57.32,21.23 L57.78,16.17 L58.71,13.13 L60.01,10.60 L59.55,8.89 L59.92,7.06 L61.13,6.05 L61.97,3.62 L63.17,1.60 L64.76,0.59 Z" fill="url(#mg)"/><path d="M84.00,0.99 L84.74,0.59 L86.33,1.60 L87.53,3.62 L88.37,6.05 L89.58,7.06 L89.95,8.89 L89.49,10.60 L90.79,13.13 L91.72,16.17 L92.18,21.23 L92.28,28.31 L92.28,35.39 L92.09,40.45 L91.81,43.99 L92.18,47.02 L92.56,51.58 L91.07,52.18 L90.14,49.15 L88.28,47.13 L86.42,47.73 L85.12,48.74 L84.65,53.60 L83.35,53.60 L82.88,48.74 L81.58,47.73 L79.72,47.13 L77.86,49.15 L76.93,52.18 L75.44,51.58 L75.82,47.02 L76.19,43.99 L75.91,40.45 L75.72,35.39 L75.72,28.31 L75.82,21.23 L76.28,16.17 L77.21,13.13 L78.51,10.60 L78.05,8.89 L78.42,7.06 L79.63,6.05 L80.47,3.62 L81.67,1.60 L83.26,0.59 Z" fill="url(#mg)"/><g filter="url(#bl)"></g></g>
<rect x="224.20" y="359.20" width="94.40" height="53.40" fill="#fff" stroke="#9a9a9a" stroke-width="0.8" />
<rect x="224.20" y="359.20" width="17.70" height="53.40" fill="#1e1e1e" stroke="none" stroke-width="1" />
<rect x="277.10" y="359.20" width="21.80" height="53.40" fill="#1e1e1e" stroke="none" stroke-width="1" />
<g filter="url(#bl)">
<path d="M233,361 C236,361 238,363 238.5,366 L241.5,366 L240.5,372 C241.8,378 241.6,388 241,396 L240,403 C238,405 235,406 233.5,405 L233,411 L232.5,405 C230,405 227,404 225.5,402 C224.8,396 224.8,388 225.6,380 L225.6,372 C226.5,369 227,365 228.5,363 C230,361.5 231.5,361 233,361Z" fill="#18c8f0" stroke="none" stroke-width="1" />
<path d="M233,362 C235.5,362 237,364 237.8,367 L240.6,367.5 L239.8,372.5 C241,378 240.8,388 240.2,396 L239.2,402.5 C237.5,404 235,404.6 233.5,404.2 L232.5,404.2 C230,404 227.5,403 226.3,401.5 C225.6,396 225.6,388 226.4,380 L226.4,372.5 C227.2,369 228,366 229.2,364 C230.5,362.5 231.8,362 233,362Z" fill="#f8e020" stroke="none" stroke-width="1" />
<path d="M233,363.5 C235,363.5 236.5,365.5 237,368 L239.8,368.5 L239,373 C240.2,378 240,388 239.5,395.5 L238.5,401.5 C237,403 235,403.6 233.5,403.3 C230.5,403.2 228.5,402.3 227.2,400.8 C226.5,396 226.5,388 227.2,380 L227.2,373 C228,369.5 229,367 230,365.2 C231,364 232,363.5 233,363.5Z" fill="#f42010" stroke="none" stroke-width="1" />
<ellipse cx="235.80" cy="377.30" rx="2.60" ry="2.40" fill="#d8d8d8" />
<path d="M289.5,360.5 C292.5,360.5 294.5,363 295,366 C296.5,369 296,372 295.2,374 C297.2,380 298.2,388 297.8,395 C296,400 292.5,403 289.5,404.5 L289,411 L288.5,404.5 C285,403 282.5,400 281.5,396 C280.8,388 281.2,380 283,374 C282,371 282,368 283.5,365.5 C284.5,362.5 286.5,360.5 289.5,360.5Z" fill="#14b8f4" stroke="none" stroke-width="1" />
<path d="M289.5,361.5 C292,361.5 293.8,363.5 294.2,366.5 C295.5,369 295.2,372 294.4,374 C296.4,380 297.2,388 296.8,395 C295.2,399.5 292.2,402.2 289.5,403.5 C286,402.2 283.6,399.5 282.6,395.5 C282,388 282.3,380 284,374 C283,371 283,368 284.4,366 C285.3,363.3 287,361.5 289.5,361.5Z" fill="#f42010" stroke="none" stroke-width="1" />
<ellipse cx="289.20" cy="364.60" rx="3.40" ry="2.80" fill="#d0d0d0" />
<ellipse cx="290.40" cy="384.00" rx="3.40" ry="5.80" fill="#d4d4d4" />
</g>
<text x="259.80" y="390.20" font-size="14.8" text-anchor="middle" fill="#ff2424" letter-spacing="0.8">xx</text>
<text x="308.40" y="390.20" font-size="14.8" text-anchor="middle" fill="#ff2424" >x</text>
<rect x="19.30" y="425.00" width="93.80" height="54.20" fill="#d8d8d8" stroke="none" stroke-width="1" />
<rect x="18.50" y="424.20" width="93.80" height="54.20" fill="#fff" stroke="#9a9a9a" stroke-width="0.8" />
<text x="66.60" y="455.30" font-size="14.8" text-anchor="middle" fill="#ff2424" letter-spacing="2.4">xxxxx</text>
<rect x="19.30" y="490.40" width="93.80" height="54.20" fill="#d8d8d8" stroke="none" stroke-width="1" />
<rect x="18.50" y="489.60" width="93.80" height="54.20" fill="#fff" stroke="#9a9a9a" stroke-width="0.8" />
<text x="66.60" y="520.70" font-size="14.8" text-anchor="middle" fill="#ff2424" letter-spacing="2.4">xxxxx</text>
<rect x="224.20" y="425.20" width="94.40" height="54.10" fill="#d8d8d8" stroke="none" stroke-width="1" />
<rect x="223.40" y="424.40" width="94.40" height="54.10" fill="#fff" stroke="#9a9a9a" stroke-width="0.8" />
<text x="271.80" y="455.45" font-size="14.8" text-anchor="middle" fill="#ff2424" letter-spacing="2.4">xxxxx</text>
<rect x="224.20" y="491.40" width="94.40" height="53.70" fill="#d8d8d8" stroke="none" stroke-width="1" />
<rect x="223.40" y="490.60" width="94.40" height="53.70" fill="#fff" stroke="#9a9a9a" stroke-width="0.8" />
<text x="271.80" y="521.45" font-size="14.8" text-anchor="middle" fill="#ff2424" letter-spacing="2.4">xxxxx</text>
<clipPath id="c13"><rect x="0" y="0" width="94.00" height="53.80"/></clipPath><g transform="translate(121.00 424.60)" clip-path="url(#c13)"><rect x="0" y="0" width="94.00" height="53.80" fill="#1e1e1e"/><rect x="1.7" y="0" width="0.7" height="53.8" fill="#2c2c2c"/><rect x="4.3" y="0" width="0.7" height="53.8" fill="#2c2c2c"/><rect x="7.7" y="0" width="0.7" height="53.8" fill="#2c2c2c"/><rect x="10.9" y="0" width="0.7" height="53.8" fill="#2c2c2c"/><rect x="13.2" y="0" width="0.7" height="53.8" fill="#2c2c2c"/><rect x="16.6" y="0" width="0.7" height="53.8" fill="#2c2c2c"/><rect x="18.1" y="0" width="0.7" height="53.8" fill="#2c2c2c"/><rect x="22.5" y="0" width="0.7" height="53.8" fill="#2c2c2c"/><rect x="25.0" y="0" width="0.7" height="53.8" fill="#2c2c2c"/><rect x="28.4" y="0" width="0.7" height="53.8" fill="#2c2c2c"/><rect x="30.2" y="0" width="0.7" height="53.8" fill="#2c2c2c"/><rect x="34.5" y="0" width="0.7" height="53.8" fill="#2c2c2c"/><rect x="37.9" y="0" width="0.7" height="53.8" fill="#2c2c2c"/><rect x="39.1" y="0" width="0.7" height="53.8" fill="#2c2c2c"/><rect x="42.6" y="0" width="0.7" height="53.8" fill="#2c2c2c"/><rect x="46.1" y="0" width="0.7" height="53.8" fill="#2c2c2c"/><rect x="49.7" y="0" width="0.7" height="53.8" fill="#2c2c2c"/><rect x="51.5" y="0" width="0.7" height="53.8" fill="#2c2c2c"/><rect x="54.4" y="0" width="0.7" height="53.8" fill="#2c2c2c"/><rect x="57.5" y="0" width="0.7" height="53.8" fill="#2c2c2c"/><rect x="61.2" y="0" width="0.7" height="53.8" fill="#2c2c2c"/><rect x="64.5" y="0" width="0.7" height="53.8" fill="#2c2c2c"/><rect x="66.8" y="0" width="0.7" height="53.8" fill="#2c2c2c"/><rect x="69.7" y="0" width="0.7" height="53.8" fill="#2c2c2c"/><rect x="72.8" y="0" width="0.7" height="53.8" fill="#2c2c2c"/><rect x="75.7" y="0" width="0.7" height="53.8" fill="#2c2c2c"/><rect x="78.8" y="0" width="0.7" height="53.8" fill="#2c2c2c"/><rect x="81.2" y="0" width="0.7" height="53.8" fill="#2c2c2c"/><rect x="85.0" y="0" width="0.7" height="53.8" fill="#2c2c2c"/><rect x="88.9" y="0" width="0.7" height="53.8" fill="#2c2c2c"/><rect x="90.8" y="0" width="0.7" height="53.8" fill="#2c2c2c"/><rect x="94.5" y="0" width="0.7" height="53.8" fill="#2c2c2c"/><path d="M10.00,0.99 L10.74,0.59 L12.32,1.60 L13.53,3.63 L14.37,6.07 L15.58,7.09 L15.95,8.91 L15.49,10.64 L16.79,13.18 L17.72,16.23 L18.18,21.30 L18.28,28.41 L18.28,35.52 L18.09,40.60 L17.81,44.15 L18.18,47.20 L18.56,51.77 L17.07,52.38 L16.14,49.33 L14.28,47.30 L12.42,47.91 L11.12,48.93 L10.65,53.80 L9.35,53.80 L8.88,48.93 L7.58,47.91 L5.72,47.30 L3.86,49.33 L2.93,52.38 L1.44,51.77 L1.82,47.20 L2.19,44.15 L1.91,40.60 L1.72,35.52 L1.72,28.41 L1.82,21.30 L2.28,16.23 L3.21,13.18 L4.51,10.64 L4.05,8.91 L4.42,7.09 L5.63,6.07 L6.47,3.63 L7.67,1.60 L9.26,0.59 Z" fill="url(#mg)"/><path d="M28.50,0.99 L29.24,0.59 L30.82,1.60 L32.03,3.63 L32.87,6.07 L34.08,7.09 L34.45,8.91 L33.99,10.64 L35.29,13.18 L36.22,16.23 L36.68,21.30 L36.78,28.41 L36.78,35.52 L36.59,40.60 L36.31,44.15 L36.68,47.20 L37.06,51.77 L35.57,52.38 L34.64,49.33 L32.78,47.30 L30.92,47.91 L29.62,48.93 L29.15,53.80 L27.85,53.80 L27.38,48.93 L26.08,47.91 L24.22,47.30 L22.36,49.33 L21.43,52.38 L19.94,51.77 L20.32,47.20 L20.69,44.15 L20.41,40.60 L20.22,35.52 L20.22,28.41 L20.32,21.30 L20.78,16.23 L21.71,13.18 L23.01,10.64 L22.55,8.91 L22.92,7.09 L24.13,6.07 L24.97,3.63 L26.18,1.60 L27.76,0.59 Z" fill="url(#mg)"/><path d="M47.00,0.99 L47.74,0.59 L49.33,1.60 L50.53,3.63 L51.37,6.07 L52.58,7.09 L52.95,8.91 L52.49,10.64 L53.79,13.18 L54.72,16.23 L55.18,21.30 L55.28,28.41 L55.28,35.52 L55.09,40.60 L54.81,44.15 L55.18,47.20 L55.56,51.77 L54.07,52.38 L53.14,49.33 L51.28,47.30 L49.42,47.91 L48.12,48.93 L47.65,53.80 L46.35,53.80 L45.88,48.93 L44.58,47.91 L42.72,47.30 L40.86,49.33 L39.93,52.38 L38.44,51.77 L38.82,47.20 L39.19,44.15 L38.91,40.60 L38.72,35.52 L38.72,28.41 L38.82,21.30 L39.28,16.23 L40.21,13.18 L41.51,10.64 L41.05,8.91 L41.42,7.09 L42.63,6.07 L43.47,3.63 L44.67,1.60 L46.26,0.59 Z" fill="url(#mg)"/><path d="M65.50,0.99 L66.24,0.59 L67.83,1.60 L69.03,3.63 L69.87,6.07 L71.08,7.09 L71.45,8.91 L70.99,10.64 L72.29,13.18 L73.22,16.23 L73.68,21.30 L73.78,28.41 L73.78,35.52 L73.59,40.60 L73.31,44.15 L73.68,47.20 L74.06,51.77 L72.57,52.38 L71.64,49.33 L69.78,47.30 L67.92,47.91 L66.62,48.93 L66.15,53.80 L64.85,53.80 L64.38,48.93 L63.08,47.91 L61.22,47.30 L59.36,49.33 L58.43,52.38 L56.94,51.77 L57.32,47.20 L57.69,44.15 L57.41,40.60 L57.22,35.52 L57.22,28.41 L57.32,21.30 L57.78,16.23 L58.71,13.18 L60.01,10.64 L59.55,8.91 L59.92,7.09 L61.13,6.07 L61.97,3.63 L63.17,1.60 L64.76,0.59 Z" fill="url(#mg)"/><path d="M84.00,0.99 L84.74,0.59 L86.33,1.60 L87.53,3.63 L88.37,6.07 L89.58,7.09 L89.95,8.91 L89.49,10.64 L90.79,13.18 L91.72,16.23 L92.18,21.30 L92.28,28.41 L92.28,35.52 L92.09,40.60 L91.81,44.15 L92.18,47.20 L92.56,51.77 L91.07,52.38 L90.14,49.33 L88.28,47.30 L86.42,47.91 L85.12,48.93 L84.65,53.80 L83.35,53.80 L82.88,48.93 L81.58,47.91 L79.72,47.30 L77.86,49.33 L76.93,52.38 L75.44,51.77 L75.82,47.20 L76.19,44.15 L75.91,40.60 L75.72,35.52 L75.72,28.41 L75.82,21.30 L76.28,16.23 L77.21,13.18 L78.51,10.64 L78.05,8.91 L78.42,7.09 L79.63,6.07 L80.47,3.63 L81.67,1.60 L83.26,0.59 Z" fill="url(#mg)"/><g filter="url(#bl)"></g></g>
<clipPath id="c14"><rect x="0" y="0" width="94.00" height="53.60"/></clipPath><g transform="translate(121.00 490.40)" clip-path="url(#c14)"><rect x="0" y="0" width="94.00" height="53.60" fill="#1e1e1e"/><rect x="0.3" y="0" width="0.7" height="53.6" fill="#2c2c2c"/><rect x="4.4" y="0" width="0.7" height="53.6" fill="#2c2c2c"/><rect x="7.5" y="0" width="0.7" height="53.6" fill="#2c2c2c"/><rect x="10.3" y="0" width="0.7" height="53.6" fill="#2c2c2c"/><rect x="13.0" y="0" width="0.7" height="53.6" fill="#2c2c2c"/><rect x="16.0" y="0" width="0.7" height="53.6" fill="#2c2c2c"/><rect x="19.3" y="0" width="0.7" height="53.6" fill="#2c2c2c"/><rect x="22.8" y="0" width="0.7" height="53.6" fill="#2c2c2c"/><rect x="24.3" y="0" width="0.7" height="53.6" fill="#2c2c2c"/><rect x="27.2" y="0" width="0.7" height="53.6" fill="#2c2c2c"/><rect x="31.5" y="0" width="0.7" height="53.6" fill="#2c2c2c"/><rect x="34.8" y="0" width="0.7" height="53.6" fill="#2c2c2c"/><rect x="37.0" y="0" width="0.7" height="53.6" fill="#2c2c2c"/><rect x="39.9" y="0" width="0.7" height="53.6" fill="#2c2c2c"/><rect x="43.4" y="0" width="0.7" height="53.6" fill="#2c2c2c"/><rect x="45.4" y="0" width="0.7" height="53.6" fill="#2c2c2c"/><rect x="48.5" y="0" width="0.7" height="53.6" fill="#2c2c2c"/><rect x="51.4" y="0" width="0.7" height="53.6" fill="#2c2c2c"/><rect x="55.2" y="0" width="0.7" height="53.6" fill="#2c2c2c"/><rect x="57.6" y="0" width="0.7" height="53.6" fill="#2c2c2c"/><rect x="60.5" y="0" width="0.7" height="53.6" fill="#2c2c2c"/><rect x="64.4" y="0" width="0.7" height="53.6" fill="#2c2c2c"/><rect x="67.9" y="0" width="0.7" height="53.6" fill="#2c2c2c"/><rect x="69.6" y="0" width="0.7" height="53.6" fill="#2c2c2c"/><rect x="73.4" y="0" width="0.7" height="53.6" fill="#2c2c2c"/><rect x="75.8" y="0" width="0.7" height="53.6" fill="#2c2c2c"/><rect x="79.7" y="0" width="0.7" height="53.6" fill="#2c2c2c"/><rect x="82.2" y="0" width="0.7" height="53.6" fill="#2c2c2c"/><rect x="84.5" y="0" width="0.7" height="53.6" fill="#2c2c2c"/><rect x="87.4" y="0" width="0.7" height="53.6" fill="#2c2c2c"/><rect x="90.0" y="0" width="0.7" height="53.6" fill="#2c2c2c"/><rect x="94.0" y="0" width="0.7" height="53.6" fill="#2c2c2c"/><path d="M10.00,0.99 L10.74,0.59 L12.32,1.60 L13.53,3.62 L14.37,6.05 L15.58,7.06 L15.95,8.89 L15.49,10.60 L16.79,13.13 L17.72,16.17 L18.18,21.23 L18.28,28.31 L18.28,35.39 L18.09,40.45 L17.81,43.99 L18.18,47.02 L18.56,51.58 L17.07,52.18 L16.14,49.15 L14.28,47.13 L12.42,47.73 L11.12,48.74 L10.65,53.60 L9.35,53.60 L8.88,48.74 L7.58,47.73 L5.72,47.13 L3.86,49.15 L2.93,52.18 L1.44,51.58 L1.82,47.02 L2.19,43.99 L1.91,40.45 L1.72,35.39 L1.72,28.31 L1.82,21.23 L2.28,16.17 L3.21,13.13 L4.51,10.60 L4.05,8.89 L4.42,7.06 L5.63,6.05 L6.47,3.62 L7.67,1.60 L9.26,0.59 Z" fill="url(#mg)"/><path d="M28.50,0.99 L29.24,0.59 L30.82,1.60 L32.03,3.62 L32.87,6.05 L34.08,7.06 L34.45,8.89 L33.99,10.60 L35.29,13.13 L36.22,16.17 L36.68,21.23 L36.78,28.31 L36.78,35.39 L36.59,40.45 L36.31,43.99 L36.68,47.02 L37.06,51.58 L35.57,52.18 L34.64,49.15 L32.78,47.13 L30.92,47.73 L29.62,48.74 L29.15,53.60 L27.85,53.60 L27.38,48.74 L26.08,47.73 L24.22,47.13 L22.36,49.15 L21.43,52.18 L19.94,51.58 L20.32,47.02 L20.69,43.99 L20.41,40.45 L20.22,35.39 L20.22,28.31 L20.32,21.23 L20.78,16.17 L21.71,13.13 L23.01,10.60 L22.55,8.89 L22.92,7.06 L24.13,6.05 L24.97,3.62 L26.18,1.60 L27.76,0.59 Z" fill="url(#mg)"/><path d="M47.00,0.99 L47.74,0.59 L49.33,1.60 L50.53,3.62 L51.37,6.05 L52.58,7.06 L52.95,8.89 L52.49,10.60 L53.79,13.13 L54.72,16.17 L55.18,21.23 L55.28,28.31 L55.28,35.39 L55.09,40.45 L54.81,43.99 L55.18,47.02 L55.56,51.58 L54.07,52.18 L53.14,49.15 L51.28,47.13 L49.42,47.73 L48.12,48.74 L47.65,53.60 L46.35,53.60 L45.88,48.74 L44.58,47.73 L42.72,47.13 L40.86,49.15 L39.93,52.18 L38.44,51.58 L38.82,47.02 L39.19,43.99 L38.91,40.45 L38.72,35.39 L38.72,28.31 L38.82,21.23 L39.28,16.17 L40.21,13.13 L41.51,10.60 L41.05,8.89 L41.42,7.06 L42.63,6.05 L43.47,3.62 L44.67,1.60 L46.26,0.59 Z" fill="url(#mg)"/><path d="M65.50,0.99 L66.24,0.59 L67.83,1.60 L69.03,3.62 L69.87,6.05 L71.08,7.06 L71.45,8.89 L70.99,10.60 L72.29,13.13 L73.22,16.17 L73.68,21.23 L73.78,28.31 L73.78,35.39 L73.59,40.45 L73.31,43.99 L73.68,47.02 L74.06,51.58 L72.57,52.18 L71.64,49.15 L69.78,47.13 L67.92,47.73 L66.62,48.74 L66.15,53.60 L64.85,53.60 L64.38,48.74 L63.08,47.73 L61.22,47.13 L59.36,49.15 L58.43,52.18 L56.94,51.58 L57.32,47.02 L57.69,43.99 L57.41,40.45 L57.22,35.39 L57.22,28.31 L57.32,21.23 L57.78,16.17 L58.71,13.13 L60.01,10.60 L59.55,8.89 L59.92,7.06 L61.13,6.05 L61.97,3.62 L63.17,1.60 L64.76,0.59 Z" fill="url(#mg)"/><path d="M84.00,0.99 L84.74,0.59 L86.33,1.60 L87.53,3.62 L88.37,6.05 L89.58,7.06 L89.95,8.89 L89.49,10.60 L90.79,13.13 L91.72,16.17 L92.18,21.23 L92.28,28.31 L92.28,35.39 L92.09,40.45 L91.81,43.99 L92.18,47.02 L92.56,51.58 L91.07,52.18 L90.14,49.15 L88.28,47.13 L86.42,47.73 L85.12,48.74 L84.65,53.60 L83.35,53.60 L82.88,48.74 L81.58,47.73 L79.72,47.13 L77.86,49.15 L76.93,52.18 L75.44,51.58 L75.82,47.02 L76.19,43.99 L75.91,40.45 L75.72,35.39 L75.72,28.31 L75.82,21.23 L76.28,16.17 L77.21,13.13 L78.51,10.60 L78.05,8.89 L78.42,7.06 L79.63,6.05 L80.47,3.62 L81.67,1.60 L83.26,0.59 Z" fill="url(#mg)"/><g filter="url(#bl)"></g></g>
<clipPath id="c33"><rect x="0" y="0" width="92.10" height="53.80"/></clipPath><g transform="translate(328.20 424.60)" clip-path="url(#c33)"><rect x="0" y="0" width="92.10" height="53.80" fill="#1e1e1e"/><rect x="0.8" y="0" width="0.7" height="53.8" fill="#2c2c2c"/><rect x="3.3" y="0" width="0.7" height="53.8" fill="#2c2c2c"/><rect x="6.7" y="0" width="0.7" height="53.8" fill="#2c2c2c"/><rect x="9.6" y="0" width="0.7" height="53.8" fill="#2c2c2c"/><rect x="13.5" y="0" width="0.7" height="53.8" fill="#2c2c2c"/><rect x="15.3" y="0" width="0.7" height="53.8" fill="#2c2c2c"/><rect x="20.0" y="0" width="0.7" height="53.8" fill="#2c2c2c"/><rect x="22.0" y="0" width="0.7" height="53.8" fill="#2c2c2c"/><rect x="25.2" y="0" width="0.7" height="53.8" fill="#2c2c2c"/><rect x="27.9" y="0" width="0.7" height="53.8" fill="#2c2c2c"/><rect x="31.7" y="0" width="0.7" height="53.8" fill="#2c2c2c"/><rect x="34.6" y="0" width="0.7" height="53.8" fill="#2c2c2c"/><rect x="37.1" y="0" width="0.7" height="53.8" fill="#2c2c2c"/><rect x="40.0" y="0" width="0.7" height="53.8" fill="#2c2c2c"/><rect x="43.4" y="0" width="0.7" height="53.8" fill="#2c2c2c"/><rect x="46.7" y="0" width="0.7" height="53.8" fill="#2c2c2c"/><rect x="48.8" y="0" width="0.7" height="53.8" fill="#2c2c2c"/><rect x="52.5" y="0" width="0.7" height="53.8" fill="#2c2c2c"/><rect x="55.9" y="0" width="0.7" height="53.8" fill="#2c2c2c"/><rect x="57.9" y="0" width="0.7" height="53.8" fill="#2c2c2c"/><rect x="60.5" y="0" width="0.7" height="53.8" fill="#2c2c2c"/><rect x="63.5" y="0" width="0.7" height="53.8" fill="#2c2c2c"/><rect x="67.4" y="0" width="0.7" height="53.8" fill="#2c2c2c"/><rect x="70.4" y="0" width="0.7" height="53.8" fill="#2c2c2c"/><rect x="73.9" y="0" width="0.7" height="53.8" fill="#2c2c2c"/><rect x="76.7" y="0" width="0.7" height="53.8" fill="#2c2c2c"/><rect x="78.5" y="0" width="0.7" height="53.8" fill="#2c2c2c"/><rect x="81.4" y="0" width="0.7" height="53.8" fill="#2c2c2c"/><rect x="84.5" y="0" width="0.7" height="53.8" fill="#2c2c2c"/><rect x="87.4" y="0" width="0.7" height="53.8" fill="#2c2c2c"/><rect x="91.4" y="0" width="0.7" height="53.8" fill="#2c2c2c"/><path d="M10.00,0.99 L10.74,0.59 L12.32,1.60 L13.53,3.63 L14.37,6.07 L15.58,7.09 L15.95,8.91 L15.49,10.64 L16.79,13.18 L17.72,16.23 L18.18,21.30 L18.28,28.41 L18.28,35.52 L18.09,40.60 L17.81,44.15 L18.18,47.20 L18.56,51.77 L17.07,52.38 L16.14,49.33 L14.28,47.30 L12.42,47.91 L11.12,48.93 L10.65,53.80 L9.35,53.80 L8.88,48.93 L7.58,47.91 L5.72,47.30 L3.86,49.33 L2.93,52.38 L1.44,51.77 L1.82,47.20 L2.19,44.15 L1.91,40.60 L1.72,35.52 L1.72,28.41 L1.82,21.30 L2.28,16.23 L3.21,13.18 L4.51,10.64 L4.05,8.91 L4.42,7.09 L5.63,6.07 L6.47,3.63 L7.67,1.60 L9.26,0.59 Z" fill="url(#mg)"/><path d="M28.50,0.99 L29.24,0.59 L30.82,1.60 L32.03,3.63 L32.87,6.07 L34.08,7.09 L34.45,8.91 L33.99,10.64 L35.29,13.18 L36.22,16.23 L36.68,21.30 L36.78,28.41 L36.78,35.52 L36.59,40.60 L36.31,44.15 L36.68,47.20 L37.06,51.77 L35.57,52.38 L34.64,49.33 L32.78,47.30 L30.92,47.91 L29.62,48.93 L29.15,53.80 L27.85,53.80 L27.38,48.93 L26.08,47.91 L24.22,47.30 L22.36,49.33 L21.43,52.38 L19.94,51.77 L20.32,47.20 L20.69,44.15 L20.41,40.60 L20.22,35.52 L20.22,28.41 L20.32,21.30 L20.78,16.23 L21.71,13.18 L23.01,10.64 L22.55,8.91 L22.92,7.09 L24.13,6.07 L24.97,3.63 L26.18,1.60 L27.76,0.59 Z" fill="url(#mg)"/><path d="M47.00,0.99 L47.74,0.59 L49.33,1.60 L50.53,3.63 L51.37,6.07 L52.58,7.09 L52.95,8.91 L52.49,10.64 L53.79,13.18 L54.72,16.23 L55.18,21.30 L55.28,28.41 L55.28,35.52 L55.09,40.60 L54.81,44.15 L55.18,47.20 L55.56,51.77 L54.07,52.38 L53.14,49.33 L51.28,47.30 L49.42,47.91 L48.12,48.93 L47.65,53.80 L46.35,53.80 L45.88,48.93 L44.58,47.91 L42.72,47.30 L40.86,49.33 L39.93,52.38 L38.44,51.77 L38.82,47.20 L39.19,44.15 L38.91,40.60 L38.72,35.52 L38.72,28.41 L38.82,21.30 L39.28,16.23 L40.21,13.18 L41.51,10.64 L41.05,8.91 L41.42,7.09 L42.63,6.07 L43.47,3.63 L44.67,1.60 L46.26,0.59 Z" fill="url(#mg)"/><path d="M65.50,0.99 L66.24,0.59 L67.83,1.60 L69.03,3.63 L69.87,6.07 L71.08,7.09 L71.45,8.91 L70.99,10.64 L72.29,13.18 L73.22,16.23 L73.68,21.30 L73.78,28.41 L73.78,35.52 L73.59,40.60 L73.31,44.15 L73.68,47.20 L74.06,51.77 L72.57,52.38 L71.64,49.33 L69.78,47.30 L67.92,47.91 L66.62,48.93 L66.15,53.80 L64.85,53.80 L64.38,48.93 L63.08,47.91 L61.22,47.30 L59.36,49.33 L58.43,52.38 L56.94,51.77 L57.32,47.20 L57.69,44.15 L57.41,40.60 L57.22,35.52 L57.22,28.41 L57.32,21.30 L57.78,16.23 L58.71,13.18 L60.01,10.64 L59.55,8.91 L59.92,7.09 L61.13,6.07 L61.97,3.63 L63.17,1.60 L64.76,0.59 Z" fill="url(#mg)"/><path d="M84.00,0.99 L84.74,0.59 L86.33,1.60 L87.53,3.63 L88.37,6.07 L89.58,7.09 L89.95,8.91 L89.49,10.64 L90.79,13.18 L91.72,16.23 L92.18,21.30 L92.28,28.41 L92.28,35.52 L92.09,40.60 L91.81,44.15 L92.18,47.20 L92.56,51.77 L91.07,52.38 L90.14,49.33 L88.28,47.30 L86.42,47.91 L85.12,48.93 L84.65,53.80 L83.35,53.80 L82.88,48.93 L81.58,47.91 L79.72,47.30 L77.86,49.33 L76.93,52.38 L75.44,51.77 L75.82,47.20 L76.19,44.15 L75.91,40.60 L75.72,35.52 L75.72,28.41 L75.82,21.30 L76.28,16.23 L77.21,13.18 L78.51,10.64 L78.05,8.91 L78.42,7.09 L79.63,6.07 L80.47,3.63 L81.67,1.60 L83.26,0.59 Z" fill="url(#mg)"/><g filter="url(#bl)"><ellipse cx="88.30" cy="24.00" rx="1.68" ry="2.80" fill="url(#h2)"/><ellipse cx="39.60" cy="47.50" rx="1.12" ry="1.34" fill="url(#h2)"/><ellipse cx="74.80" cy="47.50" rx="1.12" ry="1.34" fill="url(#h2)"/><ellipse cx="82.50" cy="49.20" rx="1.34" ry="1.68" fill="url(#h2)"/><ellipse cx="87.30" cy="47.50" rx="1.12" ry="1.34" fill="url(#h2)"/></g></g>
<clipPath id="c34"><rect x="0" y="0" width="92.10" height="53.60"/></clipPath><g transform="translate(328.20 490.40)" clip-path="url(#c34)"><rect x="0" y="0" width="92.10" height="53.60" fill="#1e1e1e"/><rect x="1.7" y="0" width="0.7" height="53.6" fill="#2c2c2c"/><rect x="4.8" y="0" width="0.7" height="53.6" fill="#2c2c2c"/><rect x="6.5" y="0" width="0.7" height="53.6" fill="#2c2c2c"/><rect x="10.7" y="0" width="0.7" height="53.6" fill="#2c2c2c"/><rect x="12.6" y="0" width="0.7" height="53.6" fill="#2c2c2c"/><rect x="15.8" y="0" width="0.7" height="53.6" fill="#2c2c2c"/><rect x="19.5" y="0" width="0.7" height="53.6" fill="#2c2c2c"/><rect x="21.2" y="0" width="0.7" height="53.6" fill="#2c2c2c"/><rect x="24.2" y="0" width="0.7" height="53.6" fill="#2c2c2c"/><rect x="28.7" y="0" width="0.7" height="53.6" fill="#2c2c2c"/><rect x="30.6" y="0" width="0.7" height="53.6" fill="#2c2c2c"/><rect x="33.7" y="0" width="0.7" height="53.6" fill="#2c2c2c"/><rect x="37.2" y="0" width="0.7" height="53.6" fill="#2c2c2c"/><rect x="40.4" y="0" width="0.7" height="53.6" fill="#2c2c2c"/><rect x="42.0" y="0" width="0.7" height="53.6" fill="#2c2c2c"/><rect x="45.7" y="0" width="0.7" height="53.6" fill="#2c2c2c"/><rect x="48.9" y="0" width="0.7" height="53.6" fill="#2c2c2c"/><rect x="52.0" y="0" width="0.7" height="53.6" fill="#2c2c2c"/><rect x="54.4" y="0" width="0.7" height="53.6" fill="#2c2c2c"/><rect x="58.2" y="0" width="0.7" height="53.6" fill="#2c2c2c"/><rect x="61.9" y="0" width="0.7" height="53.6" fill="#2c2c2c"/><rect x="63.8" y="0" width="0.7" height="53.6" fill="#2c2c2c"/><rect x="67.1" y="0" width="0.7" height="53.6" fill="#2c2c2c"/><rect x="69.2" y="0" width="0.7" height="53.6" fill="#2c2c2c"/><rect x="72.5" y="0" width="0.7" height="53.6" fill="#2c2c2c"/><rect x="76.3" y="0" width="0.7" height="53.6" fill="#2c2c2c"/><rect x="78.2" y="0" width="0.7" height="53.6" fill="#2c2c2c"/><rect x="82.8" y="0" width="0.7" height="53.6" fill="#2c2c2c"/><rect x="85.8" y="0" width="0.7" height="53.6" fill="#2c2c2c"/><rect x="87.2" y="0" width="0.7" height="53.6" fill="#2c2c2c"/><rect x="91.9" y="0" width="0.7" height="53.6" fill="#2c2c2c"/><path d="M10.00,0.99 L10.74,0.59 L12.32,1.60 L13.53,3.62 L14.37,6.05 L15.58,7.06 L15.95,8.89 L15.49,10.60 L16.79,13.13 L17.72,16.17 L18.18,21.23 L18.28,28.31 L18.28,35.39 L18.09,40.45 L17.81,43.99 L18.18,47.02 L18.56,51.58 L17.07,52.18 L16.14,49.15 L14.28,47.13 L12.42,47.73 L11.12,48.74 L10.65,53.60 L9.35,53.60 L8.88,48.74 L7.58,47.73 L5.72,47.13 L3.86,49.15 L2.93,52.18 L1.44,51.58 L1.82,47.02 L2.19,43.99 L1.91,40.45 L1.72,35.39 L1.72,28.31 L1.82,21.23 L2.28,16.17 L3.21,13.13 L4.51,10.60 L4.05,8.89 L4.42,7.06 L5.63,6.05 L6.47,3.62 L7.67,1.60 L9.26,0.59 Z" fill="url(#mg)"/><path d="M28.50,0.99 L29.24,0.59 L30.82,1.60 L32.03,3.62 L32.87,6.05 L34.08,7.06 L34.45,8.89 L33.99,10.60 L35.29,13.13 L36.22,16.17 L36.68,21.23 L36.78,28.31 L36.78,35.39 L36.59,40.45 L36.31,43.99 L36.68,47.02 L37.06,51.58 L35.57,52.18 L34.64,49.15 L32.78,47.13 L30.92,47.73 L29.62,48.74 L29.15,53.60 L27.85,53.60 L27.38,48.74 L26.08,47.73 L24.22,47.13 L22.36,49.15 L21.43,52.18 L19.94,51.58 L20.32,47.02 L20.69,43.99 L20.41,40.45 L20.22,35.39 L20.22,28.31 L20.32,21.23 L20.78,16.17 L21.71,13.13 L23.01,10.60 L22.55,8.89 L22.92,7.06 L24.13,6.05 L24.97,3.62 L26.18,1.60 L27.76,0.59 Z" fill="url(#mg)"/><path d="M47.00,0.99 L47.74,0.59 L49.33,1.60 L50.53,3.62 L51.37,6.05 L52.58,7.06 L52.95,8.89 L52.49,10.60 L53.79,13.13 L54.72,16.17 L55.18,21.23 L55.28,28.31 L55.28,35.39 L55.09,40.45 L54.81,43.99 L55.18,47.02 L55.56,51.58 L54.07,52.18 L53.14,49.15 L51.28,47.13 L49.42,47.73 L48.12,48.74 L47.65,53.60 L46.35,53.60 L45.88,48.74 L44.58,47.73 L42.72,47.13 L40.86,49.15 L39.93,52.18 L38.44,51.58 L38.82,47.02 L39.19,43.99 L38.91,40.45 L38.72,35.39 L38.72,28.31 L38.82,21.23 L39.28,16.17 L40.21,13.13 L41.51,10.60 L41.05,8.89 L41.42,7.06 L42.63,6.05 L43.47,3.62 L44.67,1.60 L46.26,0.59 Z" fill="url(#mg)"/><path d="M65.50,0.99 L66.24,0.59 L67.83,1.60 L69.03,3.62 L69.87,6.05 L71.08,7.06 L71.45,8.89 L70.99,10.60 L72.29,13.13 L73.22,16.17 L73.68,21.23 L73.78,28.31 L73.78,35.39 L73.59,40.45 L73.31,43.99 L73.68,47.02 L74.06,51.58 L72.57,52.18 L71.64,49.15 L69.78,47.13 L67.92,47.73 L66.62,48.74 L66.15,53.60 L64.85,53.60 L64.38,48.74 L63.08,47.73 L61.22,47.13 L59.36,49.15 L58.43,52.18 L56.94,51.58 L57.32,47.02 L57.69,43.99 L57.41,40.45 L57.22,35.39 L57.22,28.31 L57.32,21.23 L57.78,16.17 L58.71,13.13 L60.01,10.60 L59.55,8.89 L59.92,7.06 L61.13,6.05 L61.97,3.62 L63.17,1.60 L64.76,0.59 Z" fill="url(#mg)"/><path d="M84.00,0.99 L84.74,0.59 L86.33,1.60 L87.53,3.62 L88.37,6.05 L89.58,7.06 L89.95,8.89 L89.49,10.60 L90.79,13.13 L91.72,16.17 L92.18,21.23 L92.28,28.31 L92.28,35.39 L92.09,40.45 L91.81,43.99 L92.18,47.02 L92.56,51.58 L91.07,52.18 L90.14,49.15 L88.28,47.13 L86.42,47.73 L85.12,48.74 L84.65,53.60 L83.35,53.60 L82.88,48.74 L81.58,47.73 L79.72,47.13 L77.86,49.15 L76.93,52.18 L75.44,51.58 L75.82,47.02 L76.19,43.99 L75.91,40.45 L75.72,35.39 L75.72,28.31 L75.82,21.23 L76.28,16.17 L77.21,13.13 L78.51,10.60 L78.05,8.89 L78.42,7.06 L79.63,6.05 L80.47,3.62 L81.67,1.60 L83.26,0.59 Z" fill="url(#mg)"/><g filter="url(#bl)"></g></g>
<text x="425.10" y="257.75" font-size="10" text-anchor="middle" fill="#000" transform="rotate(90 425.10 257.75)" >Day-7</text>
<text x="425.10" y="321.50" font-size="10" text-anchor="middle" fill="#000" transform="rotate(90 425.10 321.50)" >Day-14</text>
<text x="425.10" y="386.00" font-size="10" text-anchor="middle" fill="#000" transform="rotate(90 425.10 386.00)" >Day-28</text>
<text x="425.10" y="451.50" font-size="10" text-anchor="middle" fill="#000" transform="rotate(90 425.10 451.50)" >Day-56</text>
<text x="425.10" y="517.20" font-size="10" text-anchor="middle" fill="#000" transform="rotate(90 425.10 517.20)" >Day-84</text>
<line x1="476.20" y1="13.60" x2="485.00" y2="13.60" stroke="#f24cb0" stroke-width="1.1" />
<circle cx="480.60" cy="13.60" r="1.60" fill="#f24cb0" stroke="none" stroke-width="1" />
<text x="489.50" y="19.00" font-size="10.4" text-anchor="start" fill="#000">Raji+b20/19-AKT3<tspan font-size="8.0" dy="-4.4">PROTAC</tspan></text>
<line x1="476.20" y1="27.80" x2="485.00" y2="27.80" stroke="#a2602c" stroke-width="1.1" />
<rect x="479.00" y="26.20" width="3.20" height="3.20" fill="#a2602c" stroke="none" stroke-width="1" />
<text x="489.50" y="32.60" font-size="10.4" text-anchor="start" fill="#000">Raji+b20/19-AKT3<tspan font-size="8.0" dy="-4.4">PROTAC+nbCD3/22</tspan></text>
<line x1="476.20" y1="41.60" x2="485.00" y2="41.60" stroke="#f4a032" stroke-width="1.1" />
<path d="M480.6,39.68 L482.52000000000004,43.04 L478.68,43.04 Z" fill="#f4a032" stroke="none" stroke-width="1" />
<text x="489.50" y="45.90" font-size="10.4" text-anchor="start" fill="#000">NAML6+b20/19-AKT3<tspan font-size="8.0" dy="-4.4">PROTAC</tspan></text>
<line x1="476.20" y1="54.80" x2="485.00" y2="54.80" stroke="#2424ee" stroke-width="1.1" />
<path d="M480.6,56.72 L482.52000000000004,53.36 L478.68,53.36 Z" fill="#2424ee" stroke="none" stroke-width="1" />
<text x="489.50" y="59.20" font-size="10.4" text-anchor="start" fill="#000">NALM6+b20/19-AKT3<tspan font-size="8.0" dy="-4.4">PROTAC+nbCD3/22</tspan></text>
<line x1="471.50" y1="64.50" x2="471.50" y2="146.20" stroke="#8a8a8a" stroke-width="1" />
<line x1="471.50" y1="146.20" x2="645.80" y2="146.20" stroke="#8a8a8a" stroke-width="1" />
<line x1="468.50" y1="65.00" x2="471.50" y2="65.00" stroke="#8a8a8a" stroke-width="1" />
<text x="469.20" y="70.00" font-size="10.6" text-anchor="end" fill="#000">10<tspan font-size="7.4" dy="-4.2">7</tspan></text>
<line x1="468.50" y1="81.24" x2="471.50" y2="81.24" stroke="#8a8a8a" stroke-width="1" />
<text x="469.20" y="86.24" font-size="10.6" text-anchor="end" fill="#000">10<tspan font-size="7.4" dy="-4.2">6</tspan></text>
<line x1="468.50" y1="97.48" x2="471.50" y2="97.48" stroke="#8a8a8a" stroke-width="1" />
<text x="469.20" y="102.48" font-size="10.6" text-anchor="end" fill="#000">10<tspan font-size="7.4" dy="-4.2">5</tspan></text>
<line x1="468.50" y1="113.72" x2="471.50" y2="113.72" stroke="#8a8a8a" stroke-width="1" />
<text x="469.20" y="118.72" font-size="10.6" text-anchor="end" fill="#000">10<tspan font-size="7.4" dy="-4.2">4</tspan></text>
<line x1="468.50" y1="129.96" x2="471.50" y2="129.96" stroke="#8a8a8a" stroke-width="1" />
<text x="469.20" y="134.96" font-size="10.6" text-anchor="end" fill="#000">10<tspan font-size="7.4" dy="-4.2">3</tspan></text>
<line x1="468.50" y1="146.20" x2="471.50" y2="146.20" stroke="#8a8a8a" stroke-width="1" />
<text x="469.20" y="151.20" font-size="10.6" text-anchor="end" fill="#000">10<tspan font-size="7.4" dy="-4.2">2</tspan></text>
<line x1="471.50" y1="146.20" x2="471.50" y2="149.20" stroke="#8a8a8a" stroke-width="1" />
<text x="471.50" y="160.50" font-size="10.6" text-anchor="middle" fill="#000" >0</text>
<line x1="515.00" y1="146.20" x2="515.00" y2="149.20" stroke="#8a8a8a" stroke-width="1" />
<text x="515.00" y="160.50" font-size="10.6" text-anchor="middle" fill="#000" >14</text>
<line x1="558.50" y1="146.20" x2="558.50" y2="149.20" stroke="#8a8a8a" stroke-width="1" />
<text x="558.50" y="160.50" font-size="10.6" text-anchor="middle" fill="#000" >28</text>
<line x1="601.99" y1="146.20" x2="601.99" y2="149.20" stroke="#8a8a8a" stroke-width="1" />
<text x="601.99" y="160.50" font-size="10.6" text-anchor="middle" fill="#000" >42</text>
<line x1="645.49" y1="146.20" x2="645.49" y2="149.20" stroke="#8a8a8a" stroke-width="1" />
<text x="645.49" y="160.50" font-size="10.6" text-anchor="middle" fill="#000" >56</text>
<text x="558.30" y="171.70" font-size="10.6" text-anchor="middle" fill="#000" >Time in Days</text>
<text x="446.8" y="110.2" font-size="10.7" text-anchor="middle" transform="rotate(-90 446.8 110.2)">Radiance (p/sec/cm<tspan font-size="7" dy="-4">2</tspan><tspan dy="4">/sr)</tspan></text>
<line x1="493.25" y1="109.00" x2="493.25" y2="118.00" stroke="#555" stroke-width="0.6" />
<line x1="492.15" y1="109.00" x2="494.35" y2="109.00" stroke="#555" stroke-width="0.6" />
<line x1="492.15" y1="118.00" x2="494.35" y2="118.00" stroke="#555" stroke-width="0.6" />
<line x1="515.00" y1="121.00" x2="515.00" y2="133.00" stroke="#555" stroke-width="0.6" />
<line x1="513.90" y1="121.00" x2="516.10" y2="121.00" stroke="#555" stroke-width="0.6" />
<line x1="513.90" y1="133.00" x2="516.10" y2="133.00" stroke="#555" stroke-width="0.6" />
<line x1="558.50" y1="124.00" x2="558.50" y2="132.00" stroke="#555" stroke-width="0.6" />
<line x1="557.40" y1="124.00" x2="559.60" y2="124.00" stroke="#555" stroke-width="0.6" />
<line x1="557.40" y1="132.00" x2="559.60" y2="132.00" stroke="#555" stroke-width="0.6" />
<line x1="645.49" y1="127.00" x2="645.49" y2="135.50" stroke="#555" stroke-width="0.6" />
<line x1="644.39" y1="127.00" x2="646.59" y2="127.00" stroke="#555" stroke-width="0.6" />
<line x1="644.39" y1="135.50" x2="646.59" y2="135.50" stroke="#555" stroke-width="0.6" />
<line x1="558.50" y1="66.00" x2="558.50" y2="85.70" stroke="#555" stroke-width="0.6" />
<line x1="557.40" y1="66.00" x2="559.60" y2="66.00" stroke="#555" stroke-width="0.6" />
<line x1="557.40" y1="85.70" x2="559.60" y2="85.70" stroke="#555" stroke-width="0.6" />
<line x1="493.25" y1="97.00" x2="493.25" y2="105.50" stroke="#555" stroke-width="0.6" />
<line x1="492.15" y1="97.00" x2="494.35" y2="97.00" stroke="#555" stroke-width="0.6" />
<line x1="492.15" y1="105.50" x2="494.35" y2="105.50" stroke="#555" stroke-width="0.6" />
<line x1="515.00" y1="98.50" x2="515.00" y2="104.00" stroke="#555" stroke-width="0.6" />
<line x1="513.90" y1="98.50" x2="516.10" y2="98.50" stroke="#555" stroke-width="0.6" />
<line x1="513.90" y1="104.00" x2="516.10" y2="104.00" stroke="#555" stroke-width="0.6" />
<polyline points="493.25,120.20 515.00,125.80 558.50,128.50 645.49,130.00" fill="none" stroke="#2424ee" stroke-width="1.1" />
<polyline points="493.25,112.90 515.00,126.80 558.50,127.50 645.49,131.00" fill="none" stroke="#a2602c" stroke-width="1.4" />
<polyline points="493.25,102.30 515.00,101.20 558.50,70.90" fill="none" stroke="#f4a032" stroke-width="1.3" />
<polyline points="493.25,100.20 515.00,95.50" fill="none" stroke="#f24cb0" stroke-width="1.3" />
<path d="M493.249,121.64 L494.689,119.12 L491.809,119.12 Z" fill="#2424ee" stroke="none" stroke-width="1" />
<path d="M514.998,127.24 L516.4380000000001,124.72 L513.558,124.72 Z" fill="#2424ee" stroke="none" stroke-width="1" />
<path d="M558.496,129.94 L559.936,127.42 L557.0559999999999,127.42 Z" fill="#2424ee" stroke="none" stroke-width="1" />
<path d="M645.492,131.44 L646.932,128.92 L644.0519999999999,128.92 Z" fill="#2424ee" stroke="none" stroke-width="1" />
<rect x="491.15" y="110.80" width="4.20" height="4.20" fill="#a2602c" stroke="none" stroke-width="1" />
<rect x="512.90" y="124.70" width="4.20" height="4.20" fill="#a2602c" stroke="none" stroke-width="1" />
<rect x="556.40" y="125.40" width="4.20" height="4.20" fill="#a2602c" stroke="none" stroke-width="1" />
<rect x="643.39" y="128.90" width="4.20" height="4.20" fill="#a2602c" stroke="none" stroke-width="1" />
<path d="M493.249,100.5 L495.04900000000004,103.64999999999999 L491.449,103.64999999999999 Z" fill="#f4a032" stroke="none" stroke-width="1" />
<path d="M514.998,99.4 L516.798,102.55 L513.1980000000001,102.55 Z" fill="#f4a032" stroke="none" stroke-width="1" />
<path d="M558.496,69.10000000000001 L560.2959999999999,72.25 L556.696,72.25 Z" fill="#f4a032" stroke="none" stroke-width="1" />
<circle cx="493.25" cy="100.20" r="1.40" fill="#f24cb0" stroke="none" stroke-width="1" />
<circle cx="515.00" cy="95.50" r="1.40" fill="#f24cb0" stroke="none" stroke-width="1" />
<line x1="488.60" y1="224.00" x2="498.20" y2="224.00" stroke="#f24cb0" stroke-width="1.1" />
<circle cx="493.40" cy="224.00" r="1.60" fill="#f24cb0" stroke="none" stroke-width="1" />
<text x="502.50" y="228.90" font-size="11.0" text-anchor="start" fill="#000">Raji+b20/19-AKT3<tspan font-size="8.3" dy="-4.6">PROTAC</tspan></text>
<line x1="488.60" y1="238.20" x2="498.20" y2="238.20" stroke="#a01c1c" stroke-width="1.1" />
<rect x="491.80" y="236.60" width="3.20" height="3.20" fill="#a01c1c" stroke="none" stroke-width="1" />
<text x="502.50" y="242.70" font-size="11.0" text-anchor="start" fill="#000">Raji+b20/19-AKT3<tspan font-size="8.3" dy="-4.6">PROTAC+nb/CD3/22</tspan></text>
<line x1="488.60" y1="250.90" x2="498.20" y2="250.90" stroke="#f4a032" stroke-width="1.1" />
<path d="M493.4,248.98000000000002 L495.32,252.34 L491.47999999999996,252.34 Z" fill="#f4a032" stroke="none" stroke-width="1" />
<text x="502.50" y="255.20" font-size="11.0" text-anchor="start" fill="#000">NALM6+b20/19-AKT3<tspan font-size="8.3" dy="-4.6">PROTAC</tspan></text>
<line x1="488.60" y1="264.00" x2="498.20" y2="264.00" stroke="#2a2aee" stroke-width="1.1" />
<path d="M493.4,265.92 L495.32,262.56 L491.47999999999996,262.56 Z" fill="#2a2aee" stroke="none" stroke-width="1" />
<text x="502.50" y="268.30" font-size="11.0" text-anchor="start" fill="#000">NALM6+b20/19-AKT3<tspan font-size="8.3" dy="-4.6">PROTAC+nb/CD3/22</tspan></text>
<line x1="483.50" y1="258.20" x2="483.50" y2="361.30" stroke="#8a8a8a" stroke-width="1" />
<line x1="483.50" y1="361.30" x2="627.60" y2="361.30" stroke="#8a8a8a" stroke-width="1" />
<line x1="479.50" y1="361.30" x2="483.50" y2="361.30" stroke="#8a8a8a" stroke-width="1" />
<text x="479.20" y="365.10" font-size="10.6" text-anchor="end" fill="#000" >0</text>
<line x1="479.50" y1="327.07" x2="483.50" y2="327.07" stroke="#8a8a8a" stroke-width="1" />
<text x="479.20" y="330.87" font-size="10.6" text-anchor="end" fill="#000" >10</text>
<line x1="479.50" y1="292.84" x2="483.50" y2="292.84" stroke="#8a8a8a" stroke-width="1" />
<text x="479.20" y="296.64" font-size="10.6" text-anchor="end" fill="#000" >20</text>
<line x1="479.50" y1="258.61" x2="483.50" y2="258.61" stroke="#8a8a8a" stroke-width="1" />
<text x="479.20" y="262.41" font-size="10.6" text-anchor="end" fill="#000" >30</text>
<line x1="483.50" y1="361.30" x2="483.50" y2="364.80" stroke="#8a8a8a" stroke-width="1" />
<text x="483.50" y="375.70" font-size="10.8" text-anchor="middle" fill="#000" >0</text>
<line x1="519.48" y1="361.30" x2="519.48" y2="364.80" stroke="#8a8a8a" stroke-width="1" />
<text x="519.48" y="375.70" font-size="10.8" text-anchor="middle" fill="#000" >14</text>
<line x1="555.46" y1="361.30" x2="555.46" y2="364.80" stroke="#8a8a8a" stroke-width="1" />
<text x="555.46" y="375.70" font-size="10.8" text-anchor="middle" fill="#000" >28</text>
<line x1="591.44" y1="361.30" x2="591.44" y2="364.80" stroke="#8a8a8a" stroke-width="1" />
<text x="591.44" y="375.70" font-size="10.8" text-anchor="middle" fill="#000" >42</text>
<line x1="627.42" y1="361.30" x2="627.42" y2="364.80" stroke="#8a8a8a" stroke-width="1" />
<text x="627.42" y="375.70" font-size="10.8" text-anchor="middle" fill="#000" >56</text>
<text x="555.90" y="391.00" font-size="11.0" text-anchor="middle" fill="#000" >Time in Days</text>
<text x="463.00" y="315.20" font-size="11" text-anchor="middle" fill="#000" transform="rotate(-90 463.00 315.20)" >% CAR T-cells in blood</text>
<line x1="501.49" y1="344.19" x2="501.49" y2="315.43" stroke="#b04040" stroke-width="0.6" />
<line x1="500.19" y1="344.19" x2="502.79" y2="344.19" stroke="#b04040" stroke-width="0.6" />
<line x1="500.19" y1="315.43" x2="502.79" y2="315.43" stroke="#b04040" stroke-width="0.6" />
<line x1="519.48" y1="309.27" x2="519.48" y2="272.30" stroke="#b04040" stroke-width="0.6" />
<line x1="518.18" y1="309.27" x2="520.78" y2="309.27" stroke="#b04040" stroke-width="0.6" />
<line x1="518.18" y1="272.30" x2="520.78" y2="272.30" stroke="#b04040" stroke-width="0.6" />
<line x1="555.46" y1="334.60" x2="555.46" y2="305.51" stroke="#b04040" stroke-width="0.6" />
<line x1="554.16" y1="334.60" x2="556.76" y2="334.60" stroke="#b04040" stroke-width="0.6" />
<line x1="554.16" y1="305.51" x2="556.76" y2="305.51" stroke="#b04040" stroke-width="0.6" />
<line x1="627.42" y1="349.32" x2="627.42" y2="344.87" stroke="#b04040" stroke-width="0.6" />
<line x1="626.12" y1="349.32" x2="628.72" y2="349.32" stroke="#b04040" stroke-width="0.6" />
<line x1="626.12" y1="344.87" x2="628.72" y2="344.87" stroke="#b04040" stroke-width="0.6" />
<line x1="501.49" y1="343.50" x2="501.49" y2="321.25" stroke="#f4a032" stroke-width="0.6" />
<line x1="500.19" y1="343.50" x2="502.79" y2="343.50" stroke="#f4a032" stroke-width="0.6" />
<line x1="500.19" y1="321.25" x2="502.79" y2="321.25" stroke="#f4a032" stroke-width="0.6" />
<line x1="519.48" y1="344.19" x2="519.48" y2="322.62" stroke="#f4a032" stroke-width="0.6" />
<line x1="518.18" y1="344.19" x2="520.78" y2="344.19" stroke="#f4a032" stroke-width="0.6" />
<line x1="518.18" y1="322.62" x2="520.78" y2="322.62" stroke="#f4a032" stroke-width="0.6" />
<line x1="501.49" y1="350.00" x2="501.49" y2="328.78" stroke="#f24cb0" stroke-width="0.6" />
<line x1="500.19" y1="350.00" x2="502.79" y2="350.00" stroke="#f24cb0" stroke-width="0.6" />
<line x1="500.19" y1="328.78" x2="502.79" y2="328.78" stroke="#f24cb0" stroke-width="0.6" />
<line x1="519.48" y1="347.61" x2="519.48" y2="332.20" stroke="#f24cb0" stroke-width="0.6" />
<line x1="518.18" y1="347.61" x2="520.78" y2="347.61" stroke="#f24cb0" stroke-width="0.6" />
<line x1="518.18" y1="332.20" x2="520.78" y2="332.20" stroke="#f24cb0" stroke-width="0.6" />
<line x1="519.48" y1="303.11" x2="519.48" y2="287.71" stroke="#2a2aee" stroke-width="0.6" />
<line x1="518.18" y1="303.11" x2="520.78" y2="303.11" stroke="#2a2aee" stroke-width="0.6" />
<line x1="518.18" y1="287.71" x2="520.78" y2="287.71" stroke="#2a2aee" stroke-width="0.6" />
<line x1="555.46" y1="339.05" x2="555.46" y2="328.78" stroke="#2a2aee" stroke-width="0.6" />
<line x1="554.16" y1="339.05" x2="556.76" y2="339.05" stroke="#2a2aee" stroke-width="0.6" />
<line x1="554.16" y1="328.78" x2="556.76" y2="328.78" stroke="#2a2aee" stroke-width="0.6" />
<line x1="627.42" y1="347.61" x2="627.42" y2="344.19" stroke="#2a2aee" stroke-width="0.6" />
<line x1="626.12" y1="347.61" x2="628.72" y2="347.61" stroke="#2a2aee" stroke-width="0.6" />
<line x1="626.12" y1="344.19" x2="628.72" y2="344.19" stroke="#2a2aee" stroke-width="0.6" />
<polyline points="501.49,332.89 519.48,295.24 555.46,334.60 627.42,345.90" fill="none" stroke="#2a2aee" stroke-width="1.3" />
<polyline points="501.49,330.49 519.48,291.13 555.46,320.22 627.42,347.27" fill="none" stroke="#a01c1c" stroke-width="1.5" />
<polyline points="501.49,332.20 519.48,333.23" fill="none" stroke="#f4a032" stroke-width="1.3" />
<polyline points="501.49,339.05 519.48,340.42" fill="none" stroke="#f24cb0" stroke-width="1.3" />
<path d="M501.49,334.6891 L503.29,331.53909999999996 L499.69,331.53909999999996 Z" fill="#2a2aee" stroke="none" stroke-width="1" />
<path d="M519.48,297.03610000000003 L521.28,293.8861 L517.6800000000001,293.8861 Z" fill="#2a2aee" stroke="none" stroke-width="1" />
<path d="M555.46,336.4006 L557.26,333.25059999999996 L553.6600000000001,333.25059999999996 Z" fill="#2a2aee" stroke="none" stroke-width="1" />
<path d="M627.42,347.6965 L629.2199999999999,344.5465 L625.62,344.5465 Z" fill="#2a2aee" stroke="none" stroke-width="1" />
<rect x="499.49" y="328.49" width="4.00" height="4.00" fill="#a01c1c" stroke="none" stroke-width="1" />
<rect x="517.48" y="289.13" width="4.00" height="4.00" fill="#a01c1c" stroke="none" stroke-width="1" />
<rect x="553.46" y="318.22" width="4.00" height="4.00" fill="#a01c1c" stroke="none" stroke-width="1" />
<rect x="625.42" y="345.27" width="4.00" height="4.00" fill="#a01c1c" stroke="none" stroke-width="1" />
<path d="M501.49,330.5245 L503.17,333.4645 L499.81,333.4645 Z" fill="#f4a032" stroke="none" stroke-width="1" />
<path d="M519.48,331.5514 L521.16,334.4914 L517.8000000000001,334.4914 Z" fill="#f4a032" stroke="none" stroke-width="1" />
<circle cx="501.49" cy="339.05" r="1.70" fill="#f24cb0" stroke="none" stroke-width="1" />
<circle cx="519.48" cy="340.42" r="1.70" fill="#f24cb0" stroke="none" stroke-width="1" />
<text x="614.80" y="431.10" font-size="9.6" text-anchor="middle" fill="#000" >% CAR T-cells in blood</text>
<line x1="572.60" y1="442.80" x2="660.30" y2="442.80" stroke="#8a8a8a" stroke-width="1" />
<line x1="572.60" y1="442.80" x2="572.60" y2="499.70" stroke="#8a8a8a" stroke-width="1" />
<line x1="572.60" y1="439.80" x2="572.60" y2="442.80" stroke="#8a8a8a" stroke-width="1" />
<text x="569.20" y="440.20" font-size="9.8" text-anchor="end" fill="#000" transform="rotate(90 569.20 440.20)" >0</text>
<line x1="594.48" y1="439.80" x2="594.48" y2="442.80" stroke="#8a8a8a" stroke-width="1" />
<text x="591.08" y="440.20" font-size="9.8" text-anchor="end" fill="#000" transform="rotate(90 591.08 440.20)" >2</text>
<line x1="616.36" y1="439.80" x2="616.36" y2="442.80" stroke="#8a8a8a" stroke-width="1" />
<text x="612.96" y="440.20" font-size="9.8" text-anchor="end" fill="#000" transform="rotate(90 612.96 440.20)" >4</text>
<line x1="638.24" y1="439.80" x2="638.24" y2="442.80" stroke="#8a8a8a" stroke-width="1" />
<text x="634.84" y="440.20" font-size="9.8" text-anchor="end" fill="#000" transform="rotate(90 634.84 440.20)" >6</text>
<line x1="660.12" y1="439.80" x2="660.12" y2="442.80" stroke="#8a8a8a" stroke-width="1" />
<text x="656.72" y="440.20" font-size="9.8" text-anchor="end" fill="#000" transform="rotate(90 656.72 440.20)" >8</text>
<line x1="568.80" y1="450.40" x2="572.60" y2="450.40" stroke="#8a8a8a" stroke-width="1" />
<text x="568.20" y="456.00" font-size="9.7" text-anchor="end" fill="#000">b20/19-AKT3<tspan font-size="7.2" dy="-4.2">PROTAC</tspan></text>
<line x1="568.80" y1="464.40" x2="572.60" y2="464.40" stroke="#8a8a8a" stroke-width="1" />
<text x="568.20" y="468.20" font-size="9.7" text-anchor="end" fill="#000">b20/19-AKT3<tspan font-size="7.2" dy="-4.2">PROTAC+nbCD3/22</tspan></text>
<line x1="568.80" y1="476.60" x2="572.60" y2="476.60" stroke="#8a8a8a" stroke-width="1" />
<text x="568.20" y="481.60" font-size="9.7" text-anchor="end" fill="#000">b20/19-AKT3<tspan font-size="7.2" dy="-4.2">PROTAC</tspan></text>
<line x1="568.80" y1="490.60" x2="572.60" y2="490.60" stroke="#8a8a8a" stroke-width="1" />
<text x="568.20" y="494.20" font-size="9.7" text-anchor="end" fill="#000">b20/19-AKT3<tspan font-size="7.2" dy="-4.2">PROTAC+nbCD3/22</tspan></text>
<text x="574.40" y="455.10" font-size="9.6" text-anchor="start" fill="#000" >ND</text>
<text x="574.40" y="481.80" font-size="9.6" text-anchor="start" fill="#000" >ND</text>
<rect x="572.60" y="460.20" width="43.90" height="8.80" fill="#c2706c" stroke="#444" stroke-width="0.6" />
<rect x="572.60" y="486.40" width="48.40" height="8.60" fill="#7a8af2" stroke="#444" stroke-width="0.6" />
<line x1="611.20" y1="464.60" x2="621.60" y2="464.60" stroke="#333" stroke-width="0.6" />
<line x1="621.60" y1="462.60" x2="621.60" y2="466.60" stroke="#333" stroke-width="0.6" />
<line x1="611.20" y1="462.60" x2="611.20" y2="466.60" stroke="#333" stroke-width="0.6" />
<line x1="613.00" y1="490.90" x2="622.60" y2="490.90" stroke="#333" stroke-width="0.6" />
<line x1="622.60" y1="488.90" x2="622.60" y2="492.90" stroke="#333" stroke-width="0.6" />
<line x1="613.00" y1="488.90" x2="613.00" y2="492.90" stroke="#333" stroke-width="0.6" />
<circle cx="605.50" cy="461.60" r="1.90" fill="#000" stroke="none" stroke-width="1" />
<circle cx="605.50" cy="467.60" r="1.90" fill="#000" stroke="none" stroke-width="1" />
<circle cx="616.30" cy="464.60" r="1.90" fill="#000" stroke="none" stroke-width="1" />
<circle cx="627.30" cy="461.60" r="1.90" fill="#000" stroke="none" stroke-width="1" />
<circle cx="627.30" cy="467.60" r="1.90" fill="#000" stroke="none" stroke-width="1" />
<circle cx="605.50" cy="488.00" r="1.90" fill="#000" stroke="none" stroke-width="1" />
<circle cx="605.50" cy="494.00" r="1.90" fill="#000" stroke="none" stroke-width="1" />
<circle cx="616.30" cy="491.00" r="1.90" fill="#000" stroke="none" stroke-width="1" />
<circle cx="627.30" cy="491.00" r="1.90" fill="#000" stroke="none" stroke-width="1" />
<circle cx="649.10" cy="491.00" r="1.90" fill="#000" stroke="none" stroke-width="1" />
<text x="40.60" y="636.10" font-size="13.2" text-anchor="start" fill="#000" >nbCD3/22</text>
<text x="107.00" y="636.10" font-size="13.0" text-anchor="start" fill="#000" >pg/mL</text>
<line x1="34.10" y1="662.20" x2="153.40" y2="662.20" stroke="#8a8a8a" stroke-width="1" />
<line x1="34.10" y1="662.20" x2="34.10" y2="758.80" stroke="#8a8a8a" stroke-width="1" />
<line x1="34.10" y1="659.20" x2="34.10" y2="662.20" stroke="#8a8a8a" stroke-width="1" />
<text x="29.80" y="658.60" font-size="13.2" text-anchor="end" fill="#000" transform="rotate(90 29.80 658.60)" >0.0</text>
<line x1="63.88" y1="659.20" x2="63.88" y2="662.20" stroke="#8a8a8a" stroke-width="1" />
<text x="59.58" y="658.60" font-size="13.2" text-anchor="end" fill="#000" transform="rotate(90 59.58 658.60)" >0.5</text>
<line x1="93.65" y1="659.20" x2="93.65" y2="662.20" stroke="#8a8a8a" stroke-width="1" />
<text x="89.35" y="658.60" font-size="13.2" text-anchor="end" fill="#000" transform="rotate(90 89.35 658.60)" >1.0</text>
<line x1="123.42" y1="659.20" x2="123.42" y2="662.20" stroke="#8a8a8a" stroke-width="1" />
<text x="119.12" y="658.60" font-size="13.2" text-anchor="end" fill="#000" transform="rotate(90 119.12 658.60)" >1.5</text>
<line x1="153.20" y1="659.20" x2="153.20" y2="662.20" stroke="#8a8a8a" stroke-width="1" />
<text x="148.90" y="658.60" font-size="13.2" text-anchor="end" fill="#000" transform="rotate(90 148.90 658.60)" >2.0</text>
<rect x="34.10" y="668.70" width="10.00" height="8.80" fill="#c4eff9" stroke="#666" stroke-width="0.6" />
<rect x="34.10" y="677.50" width="10.00" height="8.80" fill="#c59cf0" stroke="#666" stroke-width="0.6" />
<rect x="34.10" y="691.60" width="85.50" height="8.40" fill="#c4eff9" stroke="#666" stroke-width="0.6" />
<rect x="34.10" y="700.00" width="82.60" height="9.30" fill="#e4bff7" stroke="#666" stroke-width="0.6" />
<rect x="34.10" y="714.40" width="18.80" height="8.00" fill="#c4eff9" stroke="#666" stroke-width="0.6" />
<rect x="34.10" y="722.40" width="13.20" height="8.90" fill="#e4bff7" stroke="#666" stroke-width="0.6" />
<rect x="34.10" y="738.50" width="4.40" height="7.20" fill="#c4eff9" stroke="#666" stroke-width="0.6" />
<rect x="34.10" y="745.70" width="3.60" height="8.10" fill="#e4bff7" stroke="#666" stroke-width="0.6" />
<line x1="30.30" y1="672.70" x2="34.10" y2="672.70" stroke="#8a8a8a" stroke-width="1" />
<line x1="30.30" y1="681.70" x2="34.10" y2="681.70" stroke="#8a8a8a" stroke-width="1" />
<line x1="30.30" y1="695.50" x2="34.10" y2="695.50" stroke="#8a8a8a" stroke-width="1" />
<line x1="30.30" y1="704.60" x2="34.10" y2="704.60" stroke="#8a8a8a" stroke-width="1" />
<line x1="30.30" y1="718.40" x2="34.10" y2="718.40" stroke="#8a8a8a" stroke-width="1" />
<line x1="30.30" y1="727.40" x2="34.10" y2="727.40" stroke="#8a8a8a" stroke-width="1" />
<line x1="30.30" y1="740.20" x2="34.10" y2="740.20" stroke="#8a8a8a" stroke-width="1" />
<line x1="30.30" y1="749.30" x2="34.10" y2="749.30" stroke="#8a8a8a" stroke-width="1" />
<text x="28.80" y="685.60" font-size="11.4" text-anchor="end" fill="#000" >7</text>
<text x="28.80" y="708.40" font-size="11.4" text-anchor="end" fill="#000" >14</text>
<text x="28.80" y="731.20" font-size="11.4" text-anchor="end" fill="#000" >28</text>
<text x="28.80" y="754.00" font-size="11.4" text-anchor="end" fill="#000" >56</text>
<text x="3.80" y="713.60" font-size="13" text-anchor="middle" fill="#000" transform="rotate(90 3.80 713.60)" >Time in Days</text>
<line x1="111.20" y1="695.80" x2="123.60" y2="695.80" stroke="#444" stroke-width="0.6" />
<line x1="123.60" y1="693.80" x2="123.60" y2="697.80" stroke="#444" stroke-width="0.6" />
<line x1="105.90" y1="704.60" x2="126.80" y2="704.60" stroke="#444" stroke-width="0.6" />
<line x1="126.80" y1="702.40" x2="126.80" y2="706.80" stroke="#444" stroke-width="0.6" />
<line x1="44.00" y1="672.50" x2="49.00" y2="672.50" stroke="#444" stroke-width="0.6" />
<line x1="49.00" y1="670.50" x2="49.00" y2="674.50" stroke="#444" stroke-width="0.6" />
<rect x="110.40" y="691.80" width="2.20" height="8.00" fill="#000" stroke="none" stroke-width="1" />
<circle cx="35.30" cy="672.70" r="1.65" fill="#000" stroke="none" stroke-width="1" />
<circle cx="42.50" cy="670.30" r="1.65" fill="#000" stroke="none" stroke-width="1" />
<circle cx="45.70" cy="675.40" r="1.65" fill="#000" stroke="none" stroke-width="1" />
<circle cx="40.90" cy="676.20" r="1.65" fill="#000" stroke="none" stroke-width="1" />
<circle cx="57.70" cy="672.80" r="1.65" fill="#000" stroke="none" stroke-width="1" />
<circle cx="37.30" cy="679.10" r="1.65" fill="#000" stroke="none" stroke-width="1" />
<circle cx="41.70" cy="681.10" r="1.65" fill="#000" stroke="none" stroke-width="1" />
<circle cx="52.90" cy="682.00" r="1.65" fill="#000" stroke="none" stroke-width="1" />
<circle cx="40.10" cy="684.70" r="1.65" fill="#000" stroke="none" stroke-width="1" />
<circle cx="45.40" cy="684.70" r="1.65" fill="#000" stroke="none" stroke-width="1" />
<circle cx="43.00" cy="679.00" r="1.65" fill="#000" stroke="none" stroke-width="1" />
<circle cx="123.60" cy="695.70" r="1.65" fill="#000" stroke="none" stroke-width="1" />
<circle cx="95.80" cy="702.20" r="1.65" fill="#000" stroke="none" stroke-width="1" />
<circle cx="99.50" cy="707.30" r="1.65" fill="#000" stroke="none" stroke-width="1" />
<circle cx="105.90" cy="704.60" r="1.65" fill="#000" stroke="none" stroke-width="1" />
<circle cx="46.50" cy="715.50" r="1.65" fill="#000" stroke="none" stroke-width="1" />
<circle cx="51.30" cy="715.50" r="1.65" fill="#000" stroke="none" stroke-width="1" />
<circle cx="52.10" cy="719.40" r="1.65" fill="#000" stroke="none" stroke-width="1" />
<circle cx="48.10" cy="719.40" r="1.65" fill="#000" stroke="none" stroke-width="1" />
<circle cx="59.30" cy="718.40" r="1.65" fill="#000" stroke="none" stroke-width="1" />
<circle cx="43.80" cy="724.40" r="1.65" fill="#000" stroke="none" stroke-width="1" />
<circle cx="46.50" cy="727.30" r="1.65" fill="#000" stroke="none" stroke-width="1" />
<circle cx="54.00" cy="727.30" r="1.65" fill="#000" stroke="none" stroke-width="1" />
<circle cx="45.70" cy="729.90" r="1.65" fill="#000" stroke="none" stroke-width="1" />
<circle cx="47.30" cy="725.00" r="1.65" fill="#000" stroke="none" stroke-width="1" />
<circle cx="35.50" cy="738.60" r="1.65" fill="#000" stroke="none" stroke-width="1" />
<circle cx="36.70" cy="741.70" r="1.65" fill="#000" stroke="none" stroke-width="1" />
<circle cx="40.90" cy="740.90" r="1.65" fill="#000" stroke="none" stroke-width="1" />
<circle cx="42.50" cy="741.40" r="1.65" fill="#000" stroke="none" stroke-width="1" />
<circle cx="37.70" cy="745.00" r="1.65" fill="#000" stroke="none" stroke-width="1" />
<circle cx="41.70" cy="745.70" r="1.65" fill="#000" stroke="none" stroke-width="1" />
<circle cx="36.10" cy="748.50" r="1.65" fill="#000" stroke="none" stroke-width="1" />
<circle cx="40.10" cy="748.90" r="1.65" fill="#000" stroke="none" stroke-width="1" />
<circle cx="37.30" cy="752.00" r="1.65" fill="#000" stroke="none" stroke-width="1" />
<circle cx="42.20" cy="752.30" r="1.65" fill="#000" stroke="none" stroke-width="1" />
<circle cx="38.60" cy="750.50" r="1.65" fill="#000" stroke="none" stroke-width="1" />
<rect x="149.30" y="672.60" width="9.40" height="9.20" fill="#e4bff7" stroke="#888" stroke-width="0.6" />
<rect x="161.00" y="672.60" width="9.60" height="9.20" fill="#c4eff9" stroke="#888" stroke-width="0.6" />
<text x="162.40" y="684.30" font-size="13.1" text-anchor="start" fill="#000" transform="rotate(90 162.40 684.30)" >nbCD3</text>
<text x="150.80" y="684.30" font-size="13.1" text-anchor="start" fill="#000" transform="rotate(90 150.80 684.30)" >nbCD22</text>
<circle cx="141.20" cy="697.50" r="1.70" fill="#000" stroke="none" stroke-width="1" />
<circle cx="142.30" cy="702.50" r="1.70" fill="#000" stroke="none" stroke-width="1" />
<circle cx="140.80" cy="706.50" r="1.70" fill="#000" stroke="none" stroke-width="1" />
<line x1="206.30" y1="607.10" x2="215.50" y2="607.10" stroke="#f050b8" stroke-width="1.2" />
<text x="220.60" y="613.00" font-size="10.7" text-anchor="start" fill="#000">Raji+b20/19-AKT3<tspan font-size="8.0" dy="-4.6">PROTAC</tspan></text>
<line x1="206.30" y1="624.60" x2="215.50" y2="624.60" stroke="#a0582a" stroke-width="1.2" stroke-dasharray="3 2"/>
<text x="220.60" y="630.50" font-size="10.7" text-anchor="start" fill="#000">Raji+b20/19-AKT3<tspan font-size="8.0" dy="-4.6">PROTAC+nbCD3/22</tspan></text>
<line x1="206.30" y1="642.60" x2="215.50" y2="642.60" stroke="#f0a040" stroke-width="1.2" />
<text x="220.60" y="648.00" font-size="10.7" text-anchor="start" fill="#000">NALM6+b20/19-AKT3<tspan font-size="8.0" dy="-4.6">PROTAC</tspan></text>
<line x1="206.30" y1="659.60" x2="215.50" y2="659.60" stroke="#2424e0" stroke-width="1.2" stroke-dasharray="2.5 1.2 0.8 1.2"/>
<text x="220.60" y="664.20" font-size="10.7" text-anchor="start" fill="#000">b20/19-AKT3<tspan font-size="8.0" dy="-4.6">PROTAC+nbCD3/22</tspan></text>
<line x1="221.00" y1="670.00" x2="221.00" y2="749.30" stroke="#b8b8b8" stroke-width="1.6" />
<line x1="221.00" y1="749.30" x2="359.80" y2="749.30" stroke="#9a9a9a" stroke-width="1" />
<line x1="217.50" y1="749.30" x2="221.00" y2="749.30" stroke="#8a8a8a" stroke-width="1" />
<text x="217.40" y="753.40" font-size="11.2" text-anchor="end" fill="#000" >0</text>
<line x1="217.50" y1="729.60" x2="221.00" y2="729.60" stroke="#8a8a8a" stroke-width="1" />
<text x="217.40" y="733.70" font-size="11.2" text-anchor="end" fill="#000" >25</text>
<line x1="217.50" y1="709.90" x2="221.00" y2="709.90" stroke="#8a8a8a" stroke-width="1" />
<text x="217.40" y="714.00" font-size="11.2" text-anchor="end" fill="#000" >50</text>
<line x1="217.50" y1="690.20" x2="221.00" y2="690.20" stroke="#8a8a8a" stroke-width="1" />
<text x="217.40" y="694.30" font-size="11.2" text-anchor="end" fill="#000" >75</text>
<line x1="217.50" y1="670.50" x2="221.00" y2="670.50" stroke="#8a8a8a" stroke-width="1" />
<text x="217.40" y="674.60" font-size="11.2" text-anchor="end" fill="#000" >100</text>
<line x1="221.00" y1="749.30" x2="221.00" y2="752.30" stroke="#8a8a8a" stroke-width="1" />
<text x="223.90" y="761.30" font-size="11" text-anchor="end" fill="#000" transform="rotate(-45 223.90 761.30)" >0</text>
<line x1="255.62" y1="749.30" x2="255.62" y2="752.30" stroke="#8a8a8a" stroke-width="1" />
<text x="258.52" y="761.30" font-size="11" text-anchor="end" fill="#000" transform="rotate(-45 258.52 761.30)" >14</text>
<line x1="290.24" y1="749.30" x2="290.24" y2="752.30" stroke="#8a8a8a" stroke-width="1" />
<text x="293.14" y="761.30" font-size="11" text-anchor="end" fill="#000" transform="rotate(-45 293.14 761.30)" >28</text>
<line x1="324.87" y1="749.30" x2="324.87" y2="752.30" stroke="#8a8a8a" stroke-width="1" />
<text x="327.77" y="761.30" font-size="11" text-anchor="end" fill="#000" transform="rotate(-45 327.77 761.30)" >42</text>
<line x1="359.49" y1="749.30" x2="359.49" y2="752.30" stroke="#8a8a8a" stroke-width="1" />
<text x="362.39" y="761.30" font-size="11" text-anchor="end" fill="#000" transform="rotate(-45 362.39 761.30)" >56</text>
<text x="289.70" y="783.50" font-size="10.8" text-anchor="middle" fill="#000" >Time in Days</text>
<text x="201.80" y="712.00" font-size="11.4" text-anchor="middle" fill="#000" transform="rotate(-90 201.80 712.00)" >Survival %</text>
<polyline points="272.93,696.74 307.31,696.74 307.31,749.30" fill="none" stroke="#f050b8" stroke-width="1.3" />
<line x1="272.93" y1="670.50" x2="359.49" y2="670.50" stroke="#a0582a" stroke-width="1.2" stroke-dasharray="3 2"/>
<line x1="273.93" y1="670.50" x2="359.49" y2="670.50" stroke="#2424e0" stroke-width="0.8" stroke-dasharray="2 6"/>
<polyline points="221.00,670.50 272.93,670.50 272.93,723.06 290.24,723.06 290.24,749.30" fill="none" stroke="#f0a040" stroke-width="1.4" />
<line x1="426.60" y1="627.00" x2="426.60" y2="751.00" stroke="#8a8a8a" stroke-width="1" />
<line x1="426.60" y1="751.00" x2="492.00" y2="751.00" stroke="#8a8a8a" stroke-width="1" />
<line x1="423.10" y1="751.00" x2="426.60" y2="751.00" stroke="#8a8a8a" stroke-width="1" />
<text x="422.30" y="755.10" font-size="11.2" text-anchor="end" fill="#000" >0</text>
<line x1="423.10" y1="720.13" x2="426.60" y2="720.13" stroke="#8a8a8a" stroke-width="1" />
<text x="422.30" y="724.23" font-size="11.2" text-anchor="end" fill="#000" >30</text>
<line x1="423.10" y1="689.26" x2="426.60" y2="689.26" stroke="#8a8a8a" stroke-width="1" />
<text x="422.30" y="693.36" font-size="11.2" text-anchor="end" fill="#000" >60</text>
<line x1="423.10" y1="658.39" x2="426.60" y2="658.39" stroke="#8a8a8a" stroke-width="1" />
<text x="422.30" y="662.49" font-size="11.2" text-anchor="end" fill="#000" >90</text>
<line x1="423.10" y1="627.52" x2="426.60" y2="627.52" stroke="#8a8a8a" stroke-width="1" />
<text x="422.30" y="631.62" font-size="11.2" text-anchor="end" fill="#000" >120</text>
<rect x="430.20" y="736.59" width="12.20" height="14.41" fill="#4aa2f8" stroke="#333" stroke-width="0.5" />
<rect x="430.20" y="656.33" width="12.20" height="80.26" fill="#f65db8" stroke="#333" stroke-width="0.5" />
<rect x="430.20" y="654.27" width="12.20" height="2.06" fill="#91d9c9" stroke="#333" stroke-width="0.5" />
<rect x="430.20" y="648.10" width="12.20" height="6.17" fill="#3b4ab2" stroke="#333" stroke-width="0.5" />
<line x1="436.30" y1="736.59" x2="436.30" y2="732.99" stroke="#222" stroke-width="0.6" />
<line x1="433.80" y1="732.99" x2="438.80" y2="732.99" stroke="#222" stroke-width="0.6" />
<line x1="436.30" y1="656.33" x2="436.30" y2="653.76" stroke="#222" stroke-width="0.6" />
<line x1="433.80" y1="653.76" x2="438.80" y2="653.76" stroke="#222" stroke-width="0.6" />
<line x1="436.30" y1="654.27" x2="436.30" y2="652.22" stroke="#222" stroke-width="0.6" />
<line x1="433.80" y1="652.22" x2="438.80" y2="652.22" stroke="#222" stroke-width="0.6" />
<line x1="430.20" y1="751.00" x2="430.20" y2="751.00" stroke="#000" stroke-width="1" />
<line x1="436.30" y1="751.00" x2="436.30" y2="754.00" stroke="#8a8a8a" stroke-width="1" />
<rect x="445.80" y="700.06" width="12.20" height="50.94" fill="#4aa2f8" stroke="#333" stroke-width="0.5" />
<rect x="445.80" y="665.59" width="12.20" height="34.47" fill="#f65db8" stroke="#333" stroke-width="0.5" />
<rect x="445.80" y="651.19" width="12.20" height="14.41" fill="#91d9c9" stroke="#333" stroke-width="0.5" />
<rect x="445.80" y="648.10" width="12.20" height="3.09" fill="#3b4ab2" stroke="#333" stroke-width="0.5" />
<line x1="451.90" y1="700.06" x2="451.90" y2="696.46" stroke="#222" stroke-width="0.6" />
<line x1="449.40" y1="696.46" x2="454.40" y2="696.46" stroke="#222" stroke-width="0.6" />
<line x1="451.90" y1="665.59" x2="451.90" y2="663.02" stroke="#222" stroke-width="0.6" />
<line x1="449.40" y1="663.02" x2="454.40" y2="663.02" stroke="#222" stroke-width="0.6" />
<line x1="451.90" y1="651.19" x2="451.90" y2="649.13" stroke="#222" stroke-width="0.6" />
<line x1="449.40" y1="649.13" x2="454.40" y2="649.13" stroke="#222" stroke-width="0.6" />
<line x1="445.80" y1="751.00" x2="445.80" y2="751.00" stroke="#000" stroke-width="1" />
<line x1="451.90" y1="751.00" x2="451.90" y2="754.00" stroke="#8a8a8a" stroke-width="1" />
<rect x="461.70" y="739.17" width="12.20" height="11.83" fill="#4aa2f8" stroke="#333" stroke-width="0.5" />
<rect x="461.70" y="659.42" width="12.20" height="79.75" fill="#f65db8" stroke="#333" stroke-width="0.5" />
<rect x="461.70" y="657.88" width="12.20" height="1.54" fill="#91d9c9" stroke="#333" stroke-width="0.5" />
<rect x="461.70" y="648.10" width="12.20" height="9.78" fill="#3b4ab2" stroke="#333" stroke-width="0.5" />
<line x1="467.80" y1="739.17" x2="467.80" y2="735.57" stroke="#222" stroke-width="0.6" />
<line x1="465.30" y1="735.57" x2="470.30" y2="735.57" stroke="#222" stroke-width="0.6" />
<line x1="467.80" y1="659.42" x2="467.80" y2="656.85" stroke="#222" stroke-width="0.6" />
<line x1="465.30" y1="656.85" x2="470.30" y2="656.85" stroke="#222" stroke-width="0.6" />
<line x1="467.80" y1="657.88" x2="467.80" y2="655.82" stroke="#222" stroke-width="0.6" />
<line x1="465.30" y1="655.82" x2="470.30" y2="655.82" stroke="#222" stroke-width="0.6" />
<line x1="461.70" y1="751.00" x2="461.70" y2="751.00" stroke="#000" stroke-width="1" />
<line x1="467.80" y1="751.00" x2="467.80" y2="754.00" stroke="#8a8a8a" stroke-width="1" />
<rect x="477.30" y="703.67" width="12.20" height="47.33" fill="#4aa2f8" stroke="#333" stroke-width="0.5" />
<rect x="477.30" y="667.14" width="12.20" height="36.53" fill="#f65db8" stroke="#333" stroke-width="0.5" />
<rect x="477.30" y="650.67" width="12.20" height="16.46" fill="#91d9c9" stroke="#333" stroke-width="0.5" />
<rect x="477.30" y="648.10" width="12.20" height="2.57" fill="#3b4ab2" stroke="#333" stroke-width="0.5" />
<line x1="483.40" y1="703.67" x2="483.40" y2="700.06" stroke="#222" stroke-width="0.6" />
<line x1="480.90" y1="700.06" x2="485.90" y2="700.06" stroke="#222" stroke-width="0.6" />
<line x1="483.40" y1="667.14" x2="483.40" y2="664.56" stroke="#222" stroke-width="0.6" />
<line x1="480.90" y1="664.56" x2="485.90" y2="664.56" stroke="#222" stroke-width="0.6" />
<line x1="483.40" y1="650.67" x2="483.40" y2="648.61" stroke="#222" stroke-width="0.6" />
<line x1="480.90" y1="648.61" x2="485.90" y2="648.61" stroke="#222" stroke-width="0.6" />
<line x1="477.30" y1="751.00" x2="477.30" y2="751.00" stroke="#000" stroke-width="1" />
<line x1="483.40" y1="751.00" x2="483.40" y2="754.00" stroke="#8a8a8a" stroke-width="1" />
<path d="M436.3,644.2 V639.2 H451.9 V644.2" fill="none" stroke="#444" stroke-width="0.8" />
<text x="444.10" y="642.60" font-size="11" text-anchor="middle" fill="#000" >****</text>
<path d="M467.8,644.2 V639.2 H483.4 V644.2" fill="none" stroke="#444" stroke-width="0.8" />
<text x="475.60" y="642.60" font-size="11" text-anchor="middle" fill="#000" >****</text>
<text x="404.00" y="694.00" font-size="11.2" text-anchor="middle" fill="#000" transform="rotate(-90 404.00 694.00)" >% CD8 T cells</text>
<text x="439.80" y="763.20" font-size="12.2" text-anchor="end" fill="#000" transform="rotate(-45 439.80 763.20)">AKT3<tspan font-size="8.6" dy="-4.6">PROTAC</tspan></text>
<text x="455.40" y="763.20" font-size="12.2" text-anchor="end" fill="#000" transform="rotate(-45 455.40 763.20)">AKT3<tspan font-size="8.6" dy="-4.6">PROTAC+nbCD3/CD22</tspan></text>
<text x="471.30" y="763.20" font-size="12.2" text-anchor="end" fill="#000" transform="rotate(-45 471.30 763.20)">AKT3<tspan font-size="8.6" dy="-4.6">PROTAC</tspan></text>
<text x="486.90" y="763.20" font-size="12.2" text-anchor="end" fill="#000" transform="rotate(-45 486.90 763.20)">AKT3<tspan font-size="8.6" dy="-4.6">PROTAC+nbCD3/CD22</tspan></text>
<rect x="534.90" y="599.60" width="6.00" height="5.80" fill="#4aa2f8" stroke="#555" stroke-width="0.5" />
<text x="544.2" y="607.5" font-size="11.2">CD8 T<tspan font-size="8.4" dy="3">em</tspan><tspan dy="-3"> PD1</tspan><tspan font-size="8.4" dy="-5">low</tspan></text>
<rect x="534.90" y="618.90" width="6.00" height="5.80" fill="#f65db8" stroke="#555" stroke-width="0.5" />
<text x="544.2" y="626.8" font-size="11.2">CD8 T<tspan font-size="8.4" dy="3">em</tspan><tspan dy="-3"> PD1</tspan><tspan font-size="8.4" dy="-5">high</tspan></text>
<rect x="534.90" y="640.00" width="6.00" height="5.80" fill="#91d9c9" stroke="#555" stroke-width="0.5" />
<text x="544.2" y="647.5" font-size="11.2">CD8 T<tspan font-size="8.4" dy="3">cm</tspan><tspan dy="-3"> PD1</tspan><tspan font-size="8.4" dy="-5">low</tspan></text>
<rect x="534.90" y="659.20" width="6.00" height="5.80" fill="#3b4ab2" stroke="#555" stroke-width="0.5" />
<text x="544.2" y="667.1" font-size="11.2">CD8 T<tspan font-size="8.4" dy="3">cm</tspan><tspan dy="-3"> PD1</tspan><tspan font-size="8.4" dy="-5">high</tspan></text>
<path d="M536.20,709.10 L556.10,709.10 A19.9,19.9 0 0 1 516.30,709.10 Z" fill="#4da2f8" stroke="#777" stroke-width="0.3" />
<path d="M534.80,704.70 L514.91,704.01 A19.9,19.9 0 0 1 543.21,686.66 Z" fill="#f65db8" stroke="#777" stroke-width="0.3" />
<path d="M537.60,707.50 L547.25,690.10 A19.9,19.9 0 0 1 557.31,704.73 Z" fill="#44a08e" stroke="#777" stroke-width="0.3" />
<path d="M540.80,708.30 L560.48,705.36 A19.9,19.9 0 0 1 560.70,708.13 Z" fill="#1c1ca2" stroke="#777" stroke-width="0.3" />
<path d="M631.40,709.10 L650.91,706.36 A19.7,19.7 0 0 1 612.37,714.20 Z" fill="#4da2f8" stroke="#777" stroke-width="0.3" />
<path d="M629.80,704.70 L610.53,708.80 A19.7,19.7 0 0 1 639.05,687.31 Z" fill="#f65db8" stroke="#777" stroke-width="0.3" />
<path d="M632.60,707.30 L642.75,690.41 A19.7,19.7 0 0 1 651.80,702.87 Z" fill="#44a08e" stroke="#777" stroke-width="0.3" />
<path d="M636.00,708.00 L655.16,703.40 A19.7,19.7 0 0 1 655.55,705.60 Z" fill="#1c1ca2" stroke="#777" stroke-width="0.3" />
<path d="M536.50,774.80 L551.37,787.72 A19.7,19.7 0 1 1 551.37,761.88 Z" fill="#f65db8" stroke="#777" stroke-width="0.3" />
<path d="M540.90,775.40 L560.60,775.40 A19.7,19.7 0 0 1 556.21,787.80 Z" fill="#4da2f8" stroke="#777" stroke-width="0.3" />
<path d="M543.70,774.00 L560.03,762.98 A19.7,19.7 0 0 1 563.39,773.31 Z" fill="#1c1ca2" stroke="#777" stroke-width="0.3" />
<path d="M543.50,772.60 L558.59,759.94 A19.7,19.7 0 0 1 559.44,761.02 Z" fill="#44a08e" stroke="#777" stroke-width="0.3" />
<path d="M628.10,774.80 L639.68,790.74 A19.7,19.7 0 1 1 645.16,764.95 Z" fill="#f65db8" stroke="#777" stroke-width="0.3" />
<path d="M632.50,775.60 L652.20,775.60 A19.7,19.7 0 0 1 645.16,790.69 Z" fill="#4da2f8" stroke="#777" stroke-width="0.3" />
<path d="M636.30,774.20 L655.33,769.10 A19.7,19.7 0 0 1 656.00,773.86 Z" fill="#1c1ca2" stroke="#777" stroke-width="0.3" />
<path d="M636.10,773.20 L654.37,765.82 A19.7,19.7 0 0 1 654.94,767.44 Z" fill="#44a08e" stroke="#777" stroke-width="0.3" />
<text x="535.60" y="736.80" font-size="10.3" text-anchor="middle" fill="#000" >b20/19-AKT3</text>
<text x="535.60" y="742.40" font-size="7" text-anchor="middle" fill="#222" >PROTAC</text>
<text x="628.00" y="737.40" font-size="10.3" text-anchor="middle" fill="#000" >b20/19-AKT3</text>
<text x="628.00" y="743.00" font-size="7" text-anchor="middle" fill="#222" >PROTAC</text>
<text x="628.00" y="802.20" font-size="10.3" text-anchor="middle" fill="#000" >b20/19-AKT3</text>
<text x="628.00" y="808.30" font-size="7" text-anchor="middle" fill="#222" >PROTAC+nbCD3/22</text>
<text x="502.90" y="801.80" font-size="10.3" text-anchor="start" fill="#000">b20/19-AKT3<tspan font-size="7.4" dy="-4.2">P</tspan></text>
<text x="535.20" y="808.10" font-size="7" text-anchor="middle" fill="#222" >ROTAC+nbCD3/22</text>
</svg>
</body></html>
